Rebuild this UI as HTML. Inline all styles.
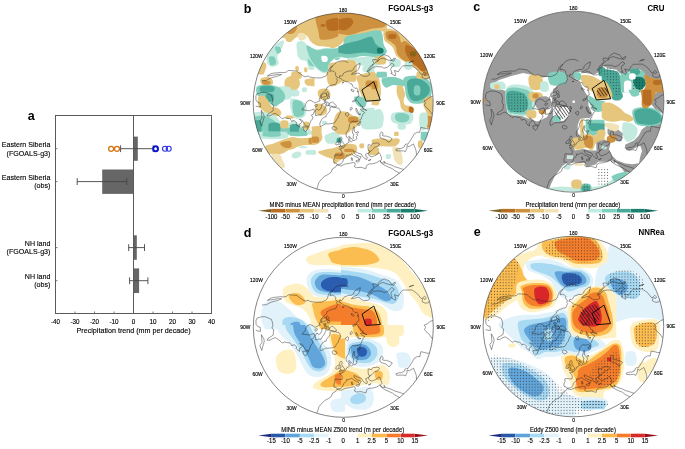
<!DOCTYPE html>
<html><head><meta charset="utf-8"><style>
html,body{margin:0;padding:0;background:#fff;width:685px;height:449px;overflow:hidden}
svg{display:block;font-family:"Liberation Sans",sans-serif;will-change:transform}
</style></head><body>
<svg width="685" height="449" viewBox="0 0 685 449" font-family='&quot;Liberation Sans&quot;, sans-serif'><defs><pattern id="dots" width="2.9" height="2.9" patternUnits="userSpaceOnUse"><rect x="0.95" y="0.95" width="0.85" height="0.85" fill="#2a2a2a"/></pattern><pattern id="hatch" width="2.6" height="2.6" patternUnits="userSpaceOnUse" patternTransform="rotate(-35)"><rect x="0" y="0" width="0.6" height="2.6" fill="#111"/></pattern></defs>
<rect x="133.9" y="136.6" width="3.9" height="24.2" fill="#666"/>
<rect x="102.2" y="169.5" width="31.3" height="24.4" fill="#666"/>
<rect x="133.5" y="235.3" width="3.3" height="24.5" fill="#666"/>
<rect x="133.5" y="268.4" width="5.6" height="24.6" fill="#666"/>
<path d="M120.6,148.7 H153.2 M120.6,145.3 V152.1 M153.2,145.3 V152.1" stroke="#444" stroke-width="0.9" fill="none"/>
<path d="M77.2,181.6 H126.7 M77.2,178.2 V185.0 M126.7,178.2 V185.0" stroke="#444" stroke-width="0.9" fill="none"/>
<path d="M128.7,247.6 H144.5 M128.7,244.2 V251.0 M144.5,244.2 V251.0" stroke="#444" stroke-width="0.9" fill="none"/>
<path d="M129.6,280.7 H147.9 M129.6,277.3 V284.1 M147.9,277.3 V284.1" stroke="#444" stroke-width="0.9" fill="none"/>
<ellipse cx="111.1" cy="148.8" rx="2.5" ry="2.5" stroke="#d5740f" stroke-width="1.3" fill="none"/>
<ellipse cx="117.0" cy="148.8" rx="2.5" ry="2.5" stroke="#d5740f" stroke-width="1.3" fill="none"/>
<ellipse cx="155.6" cy="148.8" rx="2.4" ry="2.5" stroke="#0a14d8" stroke-width="2.0" fill="none"/>
<ellipse cx="165.0" cy="148.8" rx="2.5" ry="2.5" stroke="#2a34e0" stroke-width="1.1" fill="none"/>
<ellipse cx="168.7" cy="148.8" rx="2.5" ry="2.5" stroke="#2a34e0" stroke-width="1.1" fill="none"/>
<rect x="55.5" y="115.5" width="156.0" height="198.0" stroke="#5a5a5a" stroke-width="1" fill="none"/>
<line x1="133.5" y1="115.5" x2="133.5" y2="313.5" stroke="#5a5a5a" stroke-width="1"/>
<line x1="55.5" y1="313.5" x2="55.5" y2="311.5" stroke="#5a5a5a" stroke-width="0.8"/>
<text x="55.50" y="323.70" font-size="6.93" text-anchor="middle" font-weight="normal" fill="#000" stroke="#000" stroke-width="0.14"  textLength="9.11" lengthAdjust="spacingAndGlyphs">-40</text>
<line x1="75.0" y1="313.5" x2="75.0" y2="311.5" stroke="#5a5a5a" stroke-width="0.8"/>
<text x="75.00" y="323.70" font-size="6.93" text-anchor="middle" font-weight="normal" fill="#000" stroke="#000" stroke-width="0.14"  textLength="9.11" lengthAdjust="spacingAndGlyphs">-30</text>
<line x1="94.5" y1="313.5" x2="94.5" y2="311.5" stroke="#5a5a5a" stroke-width="0.8"/>
<text x="94.50" y="323.70" font-size="6.93" text-anchor="middle" font-weight="normal" fill="#000" stroke="#000" stroke-width="0.14"  textLength="9.11" lengthAdjust="spacingAndGlyphs">-20</text>
<line x1="114.0" y1="313.5" x2="114.0" y2="311.5" stroke="#5a5a5a" stroke-width="0.8"/>
<text x="114.00" y="323.70" font-size="6.93" text-anchor="middle" font-weight="normal" fill="#000" stroke="#000" stroke-width="0.14"  textLength="9.11" lengthAdjust="spacingAndGlyphs">-10</text>
<line x1="133.5" y1="313.5" x2="133.5" y2="311.5" stroke="#5a5a5a" stroke-width="0.8"/>
<text x="133.50" y="323.70" font-size="6.93" text-anchor="middle" font-weight="normal" fill="#000" stroke="#000" stroke-width="0.14"  textLength="3.50" lengthAdjust="spacingAndGlyphs">0</text>
<line x1="153.0" y1="313.5" x2="153.0" y2="311.5" stroke="#5a5a5a" stroke-width="0.8"/>
<text x="153.00" y="323.70" font-size="6.93" text-anchor="middle" font-weight="normal" fill="#000" stroke="#000" stroke-width="0.14"  textLength="7.01" lengthAdjust="spacingAndGlyphs">10</text>
<line x1="172.5" y1="313.5" x2="172.5" y2="311.5" stroke="#5a5a5a" stroke-width="0.8"/>
<text x="172.50" y="323.70" font-size="6.93" text-anchor="middle" font-weight="normal" fill="#000" stroke="#000" stroke-width="0.14"  textLength="7.01" lengthAdjust="spacingAndGlyphs">20</text>
<line x1="192.0" y1="313.5" x2="192.0" y2="311.5" stroke="#5a5a5a" stroke-width="0.8"/>
<text x="192.00" y="323.70" font-size="6.93" text-anchor="middle" font-weight="normal" fill="#000" stroke="#000" stroke-width="0.14"  textLength="7.01" lengthAdjust="spacingAndGlyphs">30</text>
<line x1="211.5" y1="313.5" x2="211.5" y2="311.5" stroke="#5a5a5a" stroke-width="0.8"/>
<text x="211.50" y="323.70" font-size="6.93" text-anchor="middle" font-weight="normal" fill="#000" stroke="#000" stroke-width="0.14"  textLength="7.01" lengthAdjust="spacingAndGlyphs">40</text>
<line x1="55.5" y1="148.7" x2="57.5" y2="148.7" stroke="#5a5a5a" stroke-width="0.8"/>
<line x1="55.5" y1="181.6" x2="57.5" y2="181.6" stroke="#5a5a5a" stroke-width="0.8"/>
<line x1="55.5" y1="247.6" x2="57.5" y2="247.6" stroke="#5a5a5a" stroke-width="0.8"/>
<line x1="55.5" y1="280.7" x2="57.5" y2="280.7" stroke="#5a5a5a" stroke-width="0.8"/>
<text x="133.60" y="333.30" font-size="8.01" text-anchor="middle" font-weight="normal" fill="#000" stroke="#000" stroke-width="0.14"  textLength="114.06" lengthAdjust="spacingAndGlyphs">Precipitation trend (mm per decade)</text>
<text x="50.40" y="147.20" font-size="7.95" text-anchor="end" font-weight="normal" fill="#000" stroke="#000" stroke-width="0.14"  textLength="48.54" lengthAdjust="spacingAndGlyphs">Eastern Siberia</text>
<text x="50.40" y="155.50" font-size="7.95" text-anchor="end" font-weight="normal" fill="#000" stroke="#000" stroke-width="0.14"  textLength="43.79" lengthAdjust="spacingAndGlyphs">(FGOALS-g3)</text>
<text x="50.40" y="179.90" font-size="7.95" text-anchor="end" font-weight="normal" fill="#000" stroke="#000" stroke-width="0.14"  textLength="48.54" lengthAdjust="spacingAndGlyphs">Eastern Siberia</text>
<text x="50.40" y="188.20" font-size="7.95" text-anchor="end" font-weight="normal" fill="#000" stroke="#000" stroke-width="0.14"  textLength="16.18" lengthAdjust="spacingAndGlyphs">(obs)</text>
<text x="50.40" y="245.90" font-size="7.95" text-anchor="end" font-weight="normal" fill="#000" stroke="#000" stroke-width="0.14"  textLength="25.65" lengthAdjust="spacingAndGlyphs">NH land</text>
<text x="50.40" y="254.20" font-size="7.95" text-anchor="end" font-weight="normal" fill="#000" stroke="#000" stroke-width="0.14"  textLength="43.79" lengthAdjust="spacingAndGlyphs">(FGOALS-g3)</text>
<text x="50.40" y="278.90" font-size="7.95" text-anchor="end" font-weight="normal" fill="#000" stroke="#000" stroke-width="0.14"  textLength="25.65" lengthAdjust="spacingAndGlyphs">NH land</text>
<text x="50.40" y="287.20" font-size="7.95" text-anchor="end" font-weight="normal" fill="#000" stroke="#000" stroke-width="0.14"  textLength="16.18" lengthAdjust="spacingAndGlyphs">(obs)</text>
<text x="31.20" y="119.60" font-size="12.50" text-anchor="middle" font-weight="bold" fill="#000" stroke="#000" stroke-width="0.00" >a</text>
<clipPath id="cb"><circle cx="343.20" cy="103.00" r="90.00"/></clipPath>
<g clip-path="url(#cb)">
<circle cx="343.20" cy="103.00" r="90.00" fill="#ffffff"/>
<path d="M279.7,37.1 C279.7,35.5 282.2,31.7 285.1,29.0 C288.0,26.4 292.2,23.7 297.1,21.0 C302.0,18.3 314.5,13.0 314.5,13.0 C314.5,13.0 314.5,42.1 314.5,42.1 C314.5,42.1 311.6,42.2 310.5,41.3 C309.3,40.4 308.9,37.8 307.8,36.7 C306.7,35.5 305.3,34.8 303.8,34.6 C302.2,34.5 300.0,35.3 298.4,36.0 C296.9,36.7 295.8,37.7 294.4,38.7 C293.1,39.7 291.8,41.6 290.4,42.0 C289.1,42.4 287.3,41.9 286.4,41.3 C285.5,40.7 286.2,39.1 285.1,38.4 C284.0,37.7 279.7,38.6 279.7,37.1Z" fill="#e6c67c"/>
<path d="M297.8,34.4 C298.5,33.3 302.3,32.8 303.8,33.3 C305.2,33.9 306.7,36.5 306.5,37.7 C306.2,38.9 303.7,40.1 302.4,40.4 C301.2,40.7 299.9,40.7 299.1,39.7 C298.3,38.7 297.0,35.5 297.8,34.4Z" fill="#f2e2b8"/>
<path d="M287.1,32.4 C287.3,31.3 290.1,28.7 291.8,27.7 C293.4,26.7 296.5,25.7 297.1,26.4 C297.7,27.0 296.2,30.4 295.1,31.7 C294.0,33.0 291.8,34.0 290.4,34.1 C289.1,34.2 286.9,33.4 287.1,32.4Z" fill="#cd9140"/>
<path d="M267.7,51.8 C268.8,50.0 271.0,48.1 273.0,46.4 C275.0,44.7 277.9,42.7 279.7,41.7 C281.6,40.8 283.5,40.0 284.0,40.8 C284.5,41.6 283.4,44.6 282.7,46.4 C282.0,48.2 280.6,50.0 279.7,51.8 C278.8,53.5 277.5,55.1 277.3,57.1 C277.1,59.1 279.4,62.2 278.7,63.8 C277.9,65.4 274.9,66.7 273.0,66.7 C271.2,66.8 268.8,65.7 267.7,64.0 C266.6,62.4 266.4,59.1 266.4,57.1 C266.4,55.1 266.6,53.5 267.7,51.8Z" fill="#c2eadf"/>
<path d="M275.0,47.1 C275.5,46.0 278.7,46.3 279.7,47.1 C280.7,47.9 281.5,50.7 281.1,51.8 C280.6,52.8 278.1,54.1 277.1,53.4 C276.1,52.6 274.6,48.1 275.0,47.1Z" fill="#82cebc"/>
<path d="M269.0,57.1 C269.7,55.8 273.3,56.0 274.4,57.1 C275.5,58.2 276.4,62.4 275.7,63.8 C275.0,65.1 271.5,66.2 270.4,65.1 C269.3,64.0 268.4,58.4 269.0,57.1Z" fill="#82cebc"/>
<path d="M297.1,42.4 C298.3,41.2 301.8,41.3 303.8,42.1 C305.8,43.0 307.3,46.4 309.1,47.5 C310.9,48.6 314.5,48.8 314.5,48.8 C314.5,48.8 314.5,69.4 314.5,69.4 C314.5,69.4 310.5,70.7 309.1,69.4 C307.8,68.1 307.8,62.9 306.5,61.4 C305.1,59.8 302.6,60.9 301.1,60.0 C299.7,59.1 298.5,57.9 297.8,56.0 C297.1,54.2 296.9,51.4 296.8,49.1 C296.7,46.8 295.9,43.6 297.1,42.4Z" fill="#c2eadf"/>
<path d="M299.1,43.1 C299.7,42.1 302.9,43.8 303.8,45.1 C304.7,46.3 305.0,49.4 304.4,50.4 C303.9,51.4 301.3,52.3 300.4,51.1 C299.5,49.9 298.5,44.1 299.1,43.1Z" fill="#82cebc"/>
<path d="M307.8,51.8 C308.9,50.4 314.5,50.4 314.5,50.4 C314.5,50.4 314.5,66.5 314.5,66.5 C314.5,66.5 310.2,66.5 309.1,65.1 C308.0,63.8 308.0,60.7 307.8,58.4 C307.6,56.2 306.7,53.1 307.8,51.8Z" fill="#82cebc"/>
<path d="M253.0,63.8 C254.3,62.0 259.0,63.7 261.0,63.5 C263.0,63.3 264.1,62.0 265.0,62.4 C265.9,62.9 266.6,64.4 266.4,66.5 C266.1,68.5 263.7,74.5 263.7,74.5 C263.7,74.5 253.0,74.5 253.0,74.5 C253.0,74.5 251.7,65.6 253.0,63.8Z" fill="#e6c67c"/>
<path d="M295.5,66.7 C295.9,66.0 297.9,65.8 298.4,66.5 C299.0,67.1 299.1,70.0 298.7,70.7 C298.3,71.4 296.3,71.4 295.8,70.7 C295.2,70.1 295.1,67.4 295.5,66.7Z" fill="#e6c67c"/>
<path d="M304.4,67.8 C304.9,67.1 306.7,67.1 307.1,67.8 C307.6,68.5 307.6,71.1 307.1,71.8 C306.7,72.5 304.9,72.5 304.4,71.8 C304.0,71.1 304.0,68.5 304.4,67.8Z" fill="#e6c67c"/>
<path d="M311.7,11.7 C311.7,11.7 374.5,11.7 374.5,11.7 C374.5,11.7 374.5,28.6 374.5,28.6 C374.5,28.6 368.9,29.0 366.5,29.3 C364.0,29.6 362.0,30.0 359.8,30.6 C357.5,31.3 355.1,32.2 353.1,33.3 C351.1,34.4 349.3,36.0 347.7,37.3 C346.2,38.7 344.8,40.2 343.7,41.3 C342.6,42.4 342.2,43.1 341.1,44.0 C339.9,44.9 338.4,46.0 337.1,46.7 C335.7,47.3 334.8,48.0 333.0,48.0 C331.3,48.0 328.8,47.0 326.4,46.7 C323.9,46.3 320.8,46.7 318.3,46.0 C315.9,45.3 311.7,42.7 311.7,42.7 C311.7,42.7 311.7,11.7 311.7,11.7Z" fill="#e6c67c"/>
<path d="M315.7,11.7 C315.7,11.7 374.5,11.7 374.5,11.7 C374.5,11.7 374.5,25.0 374.5,25.0 C374.5,25.0 366.7,25.7 363.8,26.4 C360.9,27.0 359.3,27.9 357.1,29.0 C354.9,30.1 352.4,32.2 350.4,33.0 C348.4,33.9 346.9,33.9 345.1,34.4 C343.3,34.8 341.7,35.0 339.7,35.7 C337.7,36.4 335.7,37.7 333.0,38.4 C330.4,39.1 325.9,39.7 323.7,39.7 C321.5,39.7 320.6,39.9 319.7,38.4 C318.8,36.8 319.0,33.3 318.3,30.4 C317.7,27.5 316.1,24.1 315.7,21.0 C315.2,17.9 315.7,11.7 315.7,11.7Z" fill="#cd9140"/>
<path d="M326.4,21.0 C327.5,19.7 330.8,18.8 333.0,18.3 C335.3,17.9 337.9,17.9 339.7,18.3 C341.5,18.8 342.0,21.0 343.7,21.0 C345.5,21.0 348.2,19.0 350.4,18.3 C352.6,17.7 355.7,16.8 357.1,17.0 C358.5,17.2 359.8,18.8 359.1,19.7 C358.4,20.6 355.2,21.7 353.1,22.4 C351.0,23.0 348.2,22.8 346.4,23.7 C344.6,24.6 344.0,26.6 342.4,27.7 C340.8,28.8 339.3,29.9 337.1,30.4 C334.8,30.8 330.8,31.0 329.0,30.4 C327.3,29.7 326.8,27.9 326.4,26.4 C325.9,24.8 325.2,22.4 326.4,21.0Z" fill="#b86e22"/>
<path d="M321.0,24.4 C321.7,24.0 324.4,24.0 325.0,24.4 C325.7,24.7 325.7,26.0 325.0,26.4 C324.4,26.7 321.7,26.7 321.0,26.4 C320.3,26.0 320.3,24.7 321.0,24.4Z" fill="#b86e22"/>
<path d="M311.7,50.7 C311.7,50.7 318.1,49.8 321.0,49.3 C323.9,48.9 326.8,47.8 329.0,48.0 C331.3,48.2 332.6,49.8 334.4,50.7 C336.2,51.6 338.8,52.0 339.7,53.4 C340.6,54.7 340.4,57.6 339.7,58.7 C339.1,59.8 336.8,60.3 335.7,60.0 C334.6,59.8 334.6,57.6 333.0,57.4 C331.5,57.1 328.4,58.0 326.4,58.7 C324.4,59.4 323.5,60.7 321.0,61.4 C318.6,62.0 311.7,62.7 311.7,62.7 C311.7,62.7 311.7,50.7 311.7,50.7Z" fill="#82cebc"/>
<path d="M313.0,51.8 C313.9,50.6 317.4,50.9 318.3,52.0 C319.3,53.1 319.5,57.3 318.6,58.4 C317.7,59.5 313.9,59.8 313.0,58.7 C312.1,57.6 312.1,52.9 313.0,51.8Z" fill="#82cebc"/>
<path d="M322.4,53.1 C323.0,52.4 325.7,52.4 326.4,53.1 C327.0,53.8 327.0,56.4 326.4,57.1 C325.7,57.8 323.0,57.8 322.4,57.1 C321.7,56.4 321.7,53.8 322.4,53.1Z" fill="#82cebc"/>
<path d="M343.7,53.1 C344.6,52.2 350.4,51.8 353.1,51.8 C355.8,51.8 359.1,52.2 359.8,53.1 C360.4,54.0 359.1,56.7 357.1,57.4 C355.1,58.1 350.0,58.1 347.7,57.4 C345.5,56.7 342.8,54.0 343.7,53.1Z" fill="#c2eadf"/>
<path d="M347.7,57.8 C349.3,57.2 355.5,57.2 357.1,57.8 C358.7,58.4 358.6,60.8 357.1,61.4 C355.6,62.0 349.6,62.0 348.0,61.4 C346.5,60.8 346.2,58.4 347.7,57.8Z" fill="#c2eadf"/>
<path d="M363.8,51.8 C365.3,51.1 371.6,51.1 373.1,51.8 C374.7,52.4 374.7,55.1 373.1,55.8 C371.6,56.4 365.3,56.4 363.8,55.8 C362.2,55.1 362.2,52.4 363.8,51.8Z" fill="#f2e2b8"/>
<path d="M329.0,64.0 C330.8,62.1 336.8,62.5 339.7,62.7 C342.6,62.9 344.8,64.0 346.4,65.4 C348.0,66.7 350.2,69.2 349.1,70.7 C348.0,72.2 339.7,74.5 339.7,74.5 C339.7,74.5 329.0,74.5 329.0,74.5 C329.0,74.5 327.3,66.0 329.0,64.0Z" fill="#e6c67c"/>
<path d="M366.5,63.8 C367.8,62.0 374.5,63.8 374.5,63.8 C374.5,63.8 374.5,74.5 374.5,74.5 C374.5,74.5 366.5,74.5 366.5,74.5 C366.5,74.5 365.1,65.6 366.5,63.8Z" fill="#c2eadf"/>
<path d="M371.7,18.3 C371.7,18.3 379.2,18.6 381.0,19.7 C382.8,20.8 383.0,23.7 382.4,25.0 C381.7,26.4 378.8,27.3 377.0,27.7 C375.2,28.1 371.7,27.7 371.7,27.7 C371.7,27.7 371.7,18.3 371.7,18.3Z" fill="#e6c67c"/>
<path d="M371.7,19.7 C371.7,19.7 377.2,19.0 378.3,19.7 C379.5,20.3 379.7,23.0 378.6,23.7 C377.5,24.4 371.7,23.7 371.7,23.7 C371.7,23.7 371.7,19.7 371.7,19.7Z" fill="#cd9140"/>
<path d="M383.7,30.4 C384.5,28.5 387.3,28.8 389.0,28.8 C390.8,28.7 392.6,29.4 394.4,30.1 C396.2,30.8 397.9,31.9 399.7,33.0 C401.5,34.2 402.0,35.0 405.1,37.1 C408.2,39.1 413.8,39.7 418.4,45.1 C423.1,50.4 431.4,64.0 433.1,69.1 C434.9,74.2 429.1,75.8 429.1,75.8 C429.1,75.8 422.4,73.6 419.8,72.1 C417.1,70.6 415.3,68.3 413.1,66.7 C410.9,65.2 408.6,64.0 406.4,62.7 C404.2,61.4 401.5,60.0 399.7,58.7 C397.9,57.4 396.8,56.5 395.7,54.7 C394.6,52.9 394.2,49.8 393.0,48.0 C391.9,46.2 390.5,45.3 389.0,44.0 C387.6,42.7 385.2,42.3 384.4,40.0 C383.5,37.7 382.9,32.2 383.7,30.4Z" fill="#e6c67c"/>
<path d="M386.4,31.7 C387.9,30.6 393.5,30.8 395.7,31.7 C397.9,32.6 398.8,35.3 399.7,37.1 C400.6,38.8 400.2,41.7 401.1,42.4 C402.0,43.1 403.5,40.6 405.1,41.1 C406.6,41.5 408.6,43.5 410.4,45.1 C412.2,46.6 414.0,48.4 415.8,50.4 C417.5,52.4 419.3,54.4 421.1,57.1 C422.9,59.8 425.3,64.0 426.5,66.5 C427.6,68.9 428.7,71.1 427.8,71.8 C426.9,72.5 423.1,71.4 421.1,70.5 C419.1,69.6 418.0,67.8 415.8,66.5 C413.5,65.1 410.2,63.8 407.7,62.4 C405.3,61.1 402.8,60.0 401.1,58.4 C399.3,56.9 397.9,55.1 397.1,53.1 C396.2,51.1 396.6,48.2 395.7,46.4 C394.8,44.6 393.3,43.7 391.7,42.4 C390.1,41.1 387.3,40.2 386.4,38.4 C385.5,36.6 384.8,32.8 386.4,31.7Z" fill="#cd9140"/>
<path d="M389.0,34.4 C390.1,33.7 394.6,33.7 395.7,34.4 C396.8,35.0 396.8,37.7 395.7,38.4 C394.6,39.1 390.1,39.1 389.0,38.4 C387.9,37.7 387.9,35.0 389.0,34.4Z" fill="#b86e22"/>
<path d="M406.4,45.1 C407.7,44.6 411.1,46.4 413.1,47.7 C415.1,49.1 416.9,51.1 418.4,53.1 C420.0,55.1 421.1,57.1 422.4,59.8 C423.8,62.4 426.5,67.1 426.5,69.1 C426.5,71.1 424.0,72.2 422.4,71.8 C420.9,71.4 418.9,68.0 417.1,66.5 C415.3,64.9 413.3,64.0 411.8,62.4 C410.2,60.9 408.9,59.1 407.7,57.1 C406.6,55.1 405.3,52.4 405.1,50.4 C404.8,48.4 405.1,45.5 406.4,45.1Z" fill="#b86e22"/>
<path d="M410.4,51.8 C411.3,51.0 414.9,51.0 415.8,51.8 C416.7,52.5 416.7,55.3 415.8,56.0 C414.9,56.7 411.3,56.7 410.4,56.0 C409.5,55.3 409.5,52.5 410.4,51.8Z" fill="#8a6418"/>
<path d="M390.4,59.8 C391.9,58.7 398.2,58.7 399.7,59.8 C401.3,60.9 401.3,65.3 399.7,66.5 C398.2,67.6 391.9,67.6 390.4,66.5 C388.8,65.3 388.8,60.9 390.4,59.8Z" fill="#c2eadf"/>
<path d="M405.1,62.4 C406.2,61.3 410.6,61.3 411.8,62.4 C412.9,63.6 412.9,68.0 411.8,69.1 C410.6,70.2 406.2,70.2 405.1,69.1 C404.0,68.0 404.0,63.6 405.1,62.4Z" fill="#c2eadf"/>
<path d="M261.0,78.3 C262.4,77.2 267.0,76.6 269.0,77.0 C271.0,77.5 272.6,79.7 273.0,81.0 C273.5,82.4 273.0,84.2 271.7,85.0 C270.4,85.8 266.8,85.9 265.0,85.7 C263.2,85.5 261.7,84.9 261.0,83.7 C260.3,82.5 259.7,79.5 261.0,78.3Z" fill="#e6c67c"/>
<path d="M262.4,81.0 C263.5,80.6 269.3,81.1 270.4,81.7 C271.5,82.2 270.1,83.9 269.0,84.4 C267.9,84.8 264.8,84.9 263.7,84.4 C262.6,83.8 261.2,81.5 262.4,81.0Z" fill="#cd9140"/>
<path d="M285.1,79.7 C286.2,77.7 289.5,75.9 291.8,75.7 C294.0,75.4 297.1,76.8 298.4,78.3 C299.8,79.9 300.2,83.0 299.8,85.0 C299.3,87.0 297.5,89.3 295.8,90.4 C294.0,91.5 290.9,92.2 289.1,91.7 C287.3,91.3 285.7,89.7 285.1,87.7 C284.4,85.7 284.0,81.7 285.1,79.7Z" fill="#e6c67c"/>
<path d="M291.8,71.7 C291.8,71.7 301.1,71.7 301.1,71.7 C301.1,71.7 302.7,77.2 301.1,78.3 C299.5,79.5 293.3,79.5 291.8,78.3 C290.2,77.2 291.8,71.7 291.8,71.7Z" fill="#e6c67c"/>
<path d="M305.1,79.7 C306.5,78.6 314.5,78.3 314.5,78.3 C314.5,78.3 314.5,86.4 314.5,86.4 C314.5,86.4 308.0,86.1 306.5,85.0 C304.9,83.9 303.8,80.8 305.1,79.7Z" fill="#e6c67c"/>
<path d="M277.1,87.7 C279.3,85.9 288.2,85.9 290.4,87.7 C292.6,89.5 292.6,96.6 290.4,98.4 C288.2,100.2 279.3,100.2 277.1,98.4 C274.8,96.6 274.8,89.5 277.1,87.7Z" fill="#c2eadf"/>
<path d="M257.0,86.4 C258.6,84.8 263.0,85.0 266.4,85.0 C269.7,85.0 274.4,85.5 277.1,86.4 C279.7,87.3 281.1,88.8 282.4,90.4 C283.7,91.9 284.8,93.9 285.1,95.7 C285.3,97.5 284.6,99.7 283.7,101.1 C282.8,102.4 281.1,102.8 279.7,103.7 C278.4,104.6 277.1,106.2 275.7,106.4 C274.4,106.6 273.3,106.2 271.7,105.1 C270.1,104.0 268.1,101.1 266.4,99.7 C264.6,98.4 262.6,97.9 261.0,97.1 C259.5,96.2 257.7,96.2 257.0,94.4 C256.3,92.6 255.4,87.9 257.0,86.4Z" fill="#82cebc"/>
<path d="M261.0,86.4 C263.0,85.5 271.0,85.5 273.0,86.4 C275.0,87.3 275.0,90.8 273.0,91.7 C271.0,92.6 263.0,92.6 261.0,91.7 C259.0,90.8 259.0,87.3 261.0,86.4Z" fill="#4aa898"/>
<path d="M266.4,94.4 C267.5,93.3 271.9,93.3 273.0,94.4 C274.2,95.5 274.2,99.9 273.0,101.1 C271.9,102.2 267.5,102.2 266.4,101.1 C265.2,99.9 265.2,95.5 266.4,94.4Z" fill="#4aa898"/>
<path d="M290.4,90.4 C291.8,89.5 297.1,89.5 298.4,90.4 C299.8,91.3 299.8,94.8 298.4,95.7 C297.1,96.6 291.8,96.6 290.4,95.7 C289.1,94.8 289.1,91.3 290.4,90.4Z" fill="#c2eadf"/>
<path d="M302.4,87.7 C303.1,87.0 305.8,87.0 306.5,87.7 C307.1,88.4 307.1,91.0 306.5,91.7 C305.8,92.4 303.1,92.4 302.4,91.7 C301.8,91.0 301.8,88.4 302.4,87.7Z" fill="#c2eadf"/>
<path d="M258.3,97.1 C259.2,95.5 262.1,95.3 263.7,95.7 C265.2,96.2 266.4,97.9 267.7,99.7 C269.0,101.5 270.1,105.1 271.7,106.4 C273.3,107.7 275.5,106.9 277.1,107.7 C278.6,108.6 280.6,110.4 281.1,111.8 C281.5,113.1 281.1,115.1 279.7,115.8 C278.4,116.4 275.3,116.2 273.0,115.8 C270.8,115.3 268.4,114.2 266.4,113.1 C264.4,112.0 262.4,110.4 261.0,109.1 C259.7,107.7 258.8,107.1 258.3,105.1 C257.9,103.1 257.5,98.6 258.3,97.1Z" fill="#e6c67c"/>
<path d="M290.4,99.7 C291.5,97.5 296.0,99.1 298.4,99.7 C300.9,100.4 303.8,102.0 305.1,103.7 C306.5,105.5 306.7,108.2 306.5,110.4 C306.2,112.6 305.6,115.8 303.8,117.1 C302.0,118.4 297.8,119.1 295.8,118.4 C293.8,117.8 292.6,116.2 291.8,113.1 C290.9,110.0 289.3,102.0 290.4,99.7Z" fill="#c2eadf"/>
<path d="M293.1,101.1 C294.4,98.8 300.7,100.2 302.4,102.4 C304.2,104.6 305.1,112.2 303.8,114.4 C302.4,116.7 296.2,118.0 294.4,115.8 C292.6,113.5 291.8,103.3 293.1,101.1Z" fill="#82cebc"/>
<path d="M251.7,113.1 C251.7,113.1 258.1,111.8 261.0,111.8 C263.9,111.8 266.4,112.2 269.0,113.1 C271.7,114.0 275.3,115.8 277.1,117.1 C278.8,118.4 277.9,120.0 279.7,121.1 C281.5,122.2 285.5,123.8 287.7,123.8 C290.0,123.8 291.3,121.1 293.1,121.1 C294.9,121.1 296.7,122.9 298.4,123.8 C300.2,124.7 302.0,125.6 303.8,126.5 C305.6,127.3 307.3,127.8 309.1,129.1 C310.9,130.5 314.5,134.5 314.5,134.5 C314.5,134.5 251.7,134.5 251.7,134.5 C251.7,134.5 251.7,113.1 251.7,113.1Z" fill="#c2eadf"/>
<path d="M251.7,117.1 C251.7,117.1 260.1,115.3 263.7,115.8 C267.3,116.2 270.4,118.0 273.0,119.8 C275.7,121.6 276.8,125.1 279.7,126.5 C282.6,127.8 287.3,127.8 290.4,127.8 C293.5,127.8 295.8,125.8 298.4,126.5 C301.1,127.1 305.1,130.5 306.5,131.8 C307.8,133.1 306.5,134.5 306.5,134.5 C306.5,134.5 251.7,134.5 251.7,134.5 C251.7,134.5 251.7,117.1 251.7,117.1Z" fill="#82cebc"/>
<path d="M251.7,121.1 C251.7,121.1 259.5,118.9 261.0,121.1 C262.6,123.3 261.0,134.5 261.0,134.5 C261.0,134.5 251.7,134.5 251.7,134.5 C251.7,134.5 251.7,121.1 251.7,121.1Z" fill="#4aa898"/>
<path d="M269.0,123.8 C270.8,122.0 277.9,122.0 279.7,123.8 C281.5,125.6 279.7,134.5 279.7,134.5 C279.7,134.5 269.0,134.5 269.0,134.5 C269.0,134.5 267.3,125.6 269.0,123.8Z" fill="#4aa898"/>
<path d="M290.4,125.1 C291.8,123.6 297.1,123.6 298.4,125.1 C299.8,126.7 298.4,134.5 298.4,134.5 C298.4,134.5 290.4,134.5 290.4,134.5 C290.4,134.5 289.1,126.7 290.4,125.1Z" fill="#4aa898"/>
<path d="M281.1,121.1 C282.2,120.0 286.6,120.0 287.7,121.1 C288.9,122.2 288.9,126.7 287.7,127.8 C286.6,128.9 282.2,128.9 281.1,127.8 C279.9,126.7 279.9,122.2 281.1,121.1Z" fill="#e6c67c"/>
<path d="M286.4,115.8 C287.5,115.3 292.0,115.3 293.1,115.8 C294.2,116.2 294.2,118.0 293.1,118.4 C292.0,118.9 287.5,118.9 286.4,118.4 C285.3,118.0 285.3,116.2 286.4,115.8Z" fill="#e6c67c"/>
<path d="M303.8,122.4 C304.7,121.3 308.2,121.3 309.1,122.4 C310.0,123.6 310.0,128.0 309.1,129.1 C308.2,130.2 304.7,130.2 303.8,129.1 C302.9,128.0 302.9,123.6 303.8,122.4Z" fill="#e6c67c"/>
<path d="M326.4,71.7 C326.4,71.7 350.4,71.7 350.4,71.7 C350.4,71.7 352.2,76.8 350.4,78.3 C348.6,79.9 342.0,79.9 339.7,81.0 C337.5,82.1 338.4,84.1 337.1,85.0 C335.7,85.9 333.3,86.8 331.7,86.4 C330.1,85.9 328.6,84.8 327.7,82.4 C326.8,79.9 326.4,71.7 326.4,71.7Z" fill="#e6c67c"/>
<path d="M357.1,75.7 C359.8,73.7 374.5,71.7 374.5,71.7 C374.5,71.7 374.5,99.7 374.5,99.7 C374.5,99.7 368.9,102.4 366.5,101.1 C364.0,99.7 361.1,94.6 359.8,91.7 C358.4,88.8 358.9,86.4 358.4,83.7 C358.0,81.0 354.4,77.7 357.1,75.7Z" fill="#e6c67c"/>
<path d="M366.5,81.0 C367.8,80.1 374.5,81.0 374.5,81.0 C374.5,81.0 374.5,86.4 374.5,86.4 C374.5,86.4 367.8,87.3 366.5,86.4 C365.1,85.5 365.1,81.9 366.5,81.0Z" fill="#cd9140"/>
<path d="M354.4,97.1 C355.3,95.7 360.4,96.2 362.4,97.1 C364.4,97.9 366.2,100.6 366.5,102.4 C366.7,104.2 365.3,107.3 363.8,107.7 C362.2,108.2 358.7,106.9 357.1,105.1 C355.5,103.3 353.5,98.4 354.4,97.1Z" fill="#82cebc"/>
<path d="M359.8,110.4 C362.2,108.2 374.5,107.7 374.5,107.7 C374.5,107.7 374.5,129.1 374.5,129.1 C374.5,129.1 366.2,130.5 363.8,129.1 C361.3,127.8 360.4,124.2 359.8,121.1 C359.1,118.0 357.3,112.6 359.8,110.4Z" fill="#c2eadf"/>
<path d="M315.7,105.1 C316.6,103.5 319.2,103.3 321.0,103.7 C322.8,104.2 325.5,106.2 326.4,107.7 C327.3,109.3 327.3,111.8 326.4,113.1 C325.5,114.4 322.8,115.8 321.0,115.8 C319.2,115.8 316.6,114.9 315.7,113.1 C314.8,111.3 314.8,106.6 315.7,105.1Z" fill="#e6c67c"/>
<path d="M318.3,90.4 C319.7,88.8 325.7,88.1 327.7,89.0 C329.7,89.9 330.6,93.9 330.4,95.7 C330.1,97.5 328.1,99.3 326.4,99.7 C324.6,100.2 321.0,99.9 319.7,98.4 C318.3,96.8 317.0,91.9 318.3,90.4Z" fill="#e6c67c"/>
<path d="M337.1,113.1 C339.3,110.6 343.7,111.3 346.4,111.8 C349.1,112.2 351.1,114.9 353.1,115.8 C355.1,116.7 357.3,115.8 358.4,117.1 C359.5,118.4 360.7,121.8 359.8,123.8 C358.9,125.8 355.3,127.3 353.1,129.1 C350.9,130.9 346.4,134.5 346.4,134.5 C346.4,134.5 337.1,134.5 337.1,134.5 C337.1,134.5 333.0,130.0 333.0,126.5 C333.0,122.9 334.8,115.5 337.1,113.1Z" fill="#e6c67c"/>
<path d="M349.1,117.1 C350.4,116.2 355.8,116.2 357.1,117.1 C358.4,118.0 358.4,121.6 357.1,122.4 C355.8,123.3 350.4,123.3 349.1,122.4 C347.7,121.6 347.7,118.0 349.1,117.1Z" fill="#cd9140"/>
<path d="M311.7,126.5 C311.7,126.5 319.5,125.1 321.0,126.5 C322.6,127.8 321.0,134.5 321.0,134.5 C321.0,134.5 311.7,134.5 311.7,134.5 C311.7,134.5 311.7,126.5 311.7,126.5Z" fill="#e6c67c"/>
<path d="M322.4,121.1 C323.0,120.7 325.7,120.7 326.4,121.1 C327.0,121.6 327.0,123.3 326.4,123.8 C325.7,124.2 323.0,124.2 322.4,123.8 C321.7,123.3 321.7,121.6 322.4,121.1Z" fill="#c2eadf"/>
<path d="M371.7,71.7 C371.7,71.7 375.7,72.8 377.0,74.3 C378.3,75.9 379.0,78.1 379.7,81.0 C380.3,83.9 381.0,88.6 381.0,91.7 C381.0,94.8 380.1,97.5 379.7,99.7 C379.2,102.0 379.7,104.2 378.3,105.1 C377.0,106.0 371.7,105.1 371.7,105.1 C371.7,105.1 371.7,71.7 371.7,71.7Z" fill="#e6c67c"/>
<path d="M371.7,81.0 C371.7,81.0 376.1,79.7 377.0,81.0 C377.9,82.4 377.9,87.7 377.0,89.0 C376.1,90.4 371.7,89.0 371.7,89.0 C371.7,89.0 371.7,81.0 371.7,81.0Z" fill="#cd9140"/>
<path d="M377.0,71.7 C377.0,71.7 386.4,71.7 386.4,71.7 C386.4,71.7 387.9,76.1 386.4,77.0 C384.8,77.9 378.6,77.9 377.0,77.0 C375.4,76.1 377.0,71.7 377.0,71.7Z" fill="#82cebc"/>
<path d="M382.4,78.3 C384.1,77.2 389.7,76.8 393.0,77.0 C396.4,77.2 400.2,78.6 402.4,79.7 C404.6,80.8 406.4,82.6 406.4,83.7 C406.4,84.8 404.6,86.1 402.4,86.4 C400.2,86.6 395.7,84.8 393.0,85.0 C390.4,85.2 388.1,87.9 386.4,87.7 C384.6,87.5 383.0,85.2 382.4,83.7 C381.7,82.1 380.6,79.5 382.4,78.3Z" fill="#82cebc"/>
<path d="M403.7,78.3 C405.1,76.1 410.0,75.9 413.1,75.7 C416.2,75.4 419.8,76.1 422.4,77.0 C425.1,77.9 427.6,79.2 429.1,81.0 C430.7,82.8 431.6,85.0 431.8,87.7 C432.0,90.4 431.8,94.6 430.5,97.1 C429.1,99.5 426.0,101.3 423.8,102.4 C421.6,103.5 419.3,103.7 417.1,103.7 C414.9,103.7 412.2,103.5 410.4,102.4 C408.6,101.3 407.3,99.3 406.4,97.1 C405.5,94.8 405.5,92.2 405.1,89.0 C404.6,85.9 402.4,80.6 403.7,78.3Z" fill="#82cebc"/>
<path d="M407.7,81.0 C409.1,79.0 413.1,78.3 415.8,78.3 C418.4,78.3 421.6,79.7 423.8,81.0 C426.0,82.4 428.2,84.4 429.1,86.4 C430.0,88.4 430.0,91.0 429.1,93.0 C428.2,95.0 426.0,97.1 423.8,98.4 C421.6,99.7 418.0,101.1 415.8,101.1 C413.5,101.1 411.8,100.2 410.4,98.4 C409.1,96.6 408.2,93.3 407.7,90.4 C407.3,87.5 406.4,83.0 407.7,81.0Z" fill="#4aa898"/>
<path d="M414.4,86.4 C415.3,85.0 418.9,85.0 419.8,86.4 C420.7,87.7 420.7,93.0 419.8,94.4 C418.9,95.7 415.3,95.7 414.4,94.4 C413.5,93.0 413.5,87.7 414.4,86.4Z" fill="#82cebc"/>
<path d="M417.1,71.7 C417.1,71.7 429.1,71.7 429.1,71.7 C429.1,71.7 431.1,77.2 429.1,78.3 C427.1,79.5 419.1,79.5 417.1,78.3 C415.1,77.2 417.1,71.7 417.1,71.7Z" fill="#e6c67c"/>
<path d="M423.8,71.7 C423.8,71.7 427.8,71.7 427.8,71.7 C427.8,71.7 428.5,75.0 427.8,75.7 C427.1,76.3 424.4,76.3 423.8,75.7 C423.1,75.0 423.8,71.7 423.8,71.7Z" fill="#cd9140"/>
<path d="M397.1,86.4 C397.9,85.0 401.1,85.0 402.4,86.4 C403.7,87.7 404.8,92.2 405.1,94.4 C405.3,96.6 403.7,97.9 403.7,99.7 C403.7,101.5 403.7,104.0 405.1,105.1 C406.4,106.2 410.2,105.5 411.8,106.4 C413.3,107.3 414.6,109.3 414.4,110.4 C414.2,111.5 412.0,112.9 410.4,113.1 C408.9,113.3 406.6,112.6 405.1,111.8 C403.5,110.9 402.0,109.5 401.1,107.7 C400.2,106.0 400.4,103.3 399.7,101.1 C399.1,98.8 397.5,96.8 397.1,94.4 C396.6,91.9 396.2,87.7 397.1,86.4Z" fill="#e6c67c"/>
<path d="M409.1,107.1 C409.7,106.3 412.4,106.6 413.1,107.5 C413.8,108.4 413.7,111.6 413.1,112.4 C412.5,113.2 410.0,113.3 409.3,112.4 C408.7,111.5 408.5,107.9 409.1,107.1Z" fill="#b86e22"/>
<path d="M423.8,99.7 C425.1,98.2 430.0,94.8 431.8,97.1 C433.6,99.3 434.5,113.1 434.5,113.1 C434.5,113.1 431.8,124.0 430.5,126.5 C429.1,128.9 427.1,130.0 426.5,127.8 C425.8,125.6 426.9,116.7 426.5,113.1 C426.0,109.5 424.2,108.6 423.8,106.4 C423.3,104.2 422.4,101.3 423.8,99.7Z" fill="#e6c67c"/>
<path d="M426.5,117.1 C427.3,115.5 430.9,115.5 431.8,117.1 C432.7,118.7 432.7,124.9 431.8,126.5 C430.9,128.0 427.3,128.0 426.5,126.5 C425.6,124.9 425.6,118.7 426.5,117.1Z" fill="#cd9140"/>
<path d="M419.8,114.4 C420.9,112.2 425.1,111.5 426.5,113.1 C427.8,114.6 428.2,120.9 427.8,123.8 C427.3,126.7 425.1,130.0 423.8,130.5 C422.4,130.9 420.4,129.1 419.8,126.5 C419.1,123.8 418.7,116.7 419.8,114.4Z" fill="#c2eadf"/>
<path d="M393.0,113.1 C396.2,111.5 408.9,111.3 411.8,113.1 C414.6,114.9 413.5,122.2 410.4,123.8 C407.3,125.3 395.9,124.2 393.0,122.4 C390.1,120.7 389.9,114.6 393.0,113.1Z" fill="#c2eadf"/>
<path d="M395.7,114.4 C396.8,113.3 400.2,112.9 402.4,113.1 C404.6,113.3 408.2,114.4 409.1,115.8 C410.0,117.1 409.1,120.0 407.7,121.1 C406.4,122.2 403.1,122.7 401.1,122.4 C399.1,122.2 396.6,121.1 395.7,119.8 C394.8,118.4 394.6,115.5 395.7,114.4Z" fill="#82cebc"/>
<path d="M371.7,111.8 C371.7,111.8 377.7,108.4 379.7,109.1 C381.7,109.7 383.2,112.9 383.7,115.8 C384.1,118.7 383.5,124.2 382.4,126.5 C381.2,128.7 378.8,128.7 377.0,129.1 C375.2,129.6 371.7,129.1 371.7,129.1 C371.7,129.1 371.7,111.8 371.7,111.8Z" fill="#c2eadf"/>
<path d="M398.4,123.8 C399.5,122.9 404.0,122.9 405.1,123.8 C406.2,124.7 406.2,128.2 405.1,129.1 C404.0,130.0 399.5,130.0 398.4,129.1 C397.3,128.2 397.3,124.7 398.4,123.8Z" fill="#c2eadf"/>
<path d="M258.3,131.7 C258.3,131.7 286.4,131.7 286.4,131.7 C286.4,131.7 291.1,137.2 286.4,138.3 C281.7,139.5 263.0,139.5 258.3,138.3 C253.7,137.2 258.3,131.7 258.3,131.7Z" fill="#c2eadf"/>
<path d="M263.7,131.7 C263.7,131.7 279.7,131.7 279.7,131.7 C279.7,131.7 282.4,135.6 279.7,136.3 C277.1,137.1 266.4,137.1 263.7,136.3 C261.0,135.6 263.7,131.7 263.7,131.7Z" fill="#82cebc"/>
<path d="M290.4,131.7 C290.4,131.7 306.5,131.7 306.5,131.7 C306.5,131.7 309.1,135.0 306.5,135.7 C303.8,136.3 293.1,136.3 290.4,135.7 C287.7,135.0 290.4,131.7 290.4,131.7Z" fill="#82cebc"/>
<path d="M265.0,146.4 C265.9,144.8 270.6,144.6 273.0,143.7 C275.5,142.8 277.3,141.9 279.7,141.0 C282.2,140.1 285.5,139.0 287.7,138.3 C290.0,137.7 290.9,137.0 293.1,137.0 C295.3,137.0 297.5,138.3 301.1,138.3 C304.7,138.3 314.5,137.0 314.5,137.0 C314.5,137.0 314.5,145.0 314.5,145.0 C314.5,145.0 309.1,144.8 306.5,145.0 C303.8,145.2 300.7,145.7 298.4,146.4 C296.2,147.0 294.9,148.4 293.1,149.0 C291.3,149.7 289.3,149.7 287.7,150.4 C286.2,151.0 285.3,152.4 283.7,153.0 C282.2,153.7 280.2,154.2 278.4,154.4 C276.6,154.6 274.8,154.6 273.0,154.4 C271.3,154.2 269.0,154.4 267.7,153.0 C266.4,151.7 264.1,147.9 265.0,146.4Z" fill="#e6c67c"/>
<path d="M271.7,154.4 C272.8,153.5 277.9,153.5 279.7,154.4 C281.5,155.3 281.5,157.7 282.4,159.7 C283.3,161.7 285.3,165.1 285.1,166.4 C284.8,167.7 282.4,168.2 281.1,167.7 C279.7,167.3 278.4,165.1 277.1,163.7 C275.7,162.4 273.9,161.3 273.0,159.7 C272.2,158.2 270.6,155.3 271.7,154.4Z" fill="#f2e2b8"/>
<path d="M281.1,142.4 C282.4,141.7 287.3,140.8 289.1,141.0 C290.9,141.2 291.5,142.6 291.8,143.7 C292.0,144.8 291.5,147.0 290.4,147.7 C289.3,148.4 286.6,148.1 285.1,147.7 C283.5,147.3 281.7,145.9 281.1,145.0 C280.4,144.1 279.7,143.0 281.1,142.4Z" fill="#cd9140"/>
<path d="M309.1,138.3 C310.0,137.5 314.5,138.3 314.5,138.3 C314.5,138.3 314.5,143.7 314.5,143.7 C314.5,143.7 310.0,144.6 309.1,143.7 C308.2,142.8 308.2,139.2 309.1,138.3Z" fill="#cd9140"/>
<path d="M293.1,153.0 C294.4,152.2 298.4,151.3 299.8,151.7 C301.1,152.2 301.8,154.6 301.1,155.7 C300.4,156.8 297.3,158.2 295.8,158.4 C294.2,158.6 292.2,157.9 291.8,157.1 C291.3,156.2 291.8,153.9 293.1,153.0Z" fill="#c2eadf"/>
<path d="M306.5,150.4 C307.8,149.7 314.5,150.4 314.5,150.4 C314.5,150.4 314.5,154.4 314.5,154.4 C314.5,154.4 307.8,155.0 306.5,154.4 C305.1,153.7 305.1,151.0 306.5,150.4Z" fill="#c2eadf"/>
<path d="M299.8,146.4 C300.9,146.1 305.3,146.1 306.5,146.4 C307.6,146.6 307.6,147.7 306.5,148.0 C305.3,148.2 300.9,148.2 299.8,148.0 C298.7,147.7 298.7,146.6 299.8,146.4Z" fill="#c2eadf"/>
<path d="M311.7,131.7 C311.7,131.7 321.0,131.7 321.0,131.7 C321.0,131.7 322.8,136.3 322.4,138.3 C321.9,140.3 320.1,142.6 318.3,143.7 C316.6,144.8 311.7,145.0 311.7,145.0 C311.7,145.0 311.7,131.7 311.7,131.7Z" fill="#e6c67c"/>
<path d="M311.7,137.0 C311.7,137.0 317.2,136.1 318.3,137.0 C319.5,137.9 319.5,141.5 318.3,142.4 C317.2,143.2 311.7,142.4 311.7,142.4 C311.7,142.4 311.7,137.0 311.7,137.0Z" fill="#cd9140"/>
<path d="M325.0,135.7 C326.4,133.9 334.4,131.7 334.4,131.7 C334.4,131.7 339.3,133.9 339.7,135.7 C340.2,137.5 338.6,141.0 337.1,142.4 C335.5,143.7 332.2,143.7 330.4,143.7 C328.6,143.7 327.3,143.7 326.4,142.4 C325.5,141.0 323.7,137.5 325.0,135.7Z" fill="#c2eadf"/>
<path d="M337.1,138.3 C337.7,137.7 340.4,137.7 341.1,138.3 C341.7,139.0 341.7,141.7 341.1,142.4 C340.4,143.0 337.7,143.0 337.1,142.4 C336.4,141.7 336.4,139.0 337.1,138.3Z" fill="#4aa898"/>
<path d="M318.3,151.7 C319.5,150.8 325.0,149.7 327.7,149.0 C330.4,148.4 331.9,148.4 334.4,147.7 C336.8,147.0 339.9,145.7 342.4,145.0 C344.8,144.4 346.9,143.7 349.1,143.7 C351.3,143.7 354.4,143.9 355.8,145.0 C357.1,146.1 357.5,148.8 357.1,150.4 C356.7,151.9 354.6,153.3 353.1,154.4 C351.5,155.5 349.7,156.2 347.7,157.1 C345.7,157.9 343.3,158.6 341.1,159.7 C338.8,160.8 335.7,163.7 334.4,163.7 C333.0,163.7 334.4,160.8 333.0,159.7 C331.7,158.6 328.4,157.9 326.4,157.1 C324.4,156.2 322.4,155.3 321.0,154.4 C319.7,153.5 317.2,152.6 318.3,151.7Z" fill="#e6c67c"/>
<path d="M335.7,153.0 C337.1,152.2 342.4,152.2 343.7,153.0 C345.1,153.9 345.1,157.5 343.7,158.4 C342.4,159.3 337.1,159.3 335.7,158.4 C334.4,157.5 334.4,153.9 335.7,153.0Z" fill="#cd9140"/>
<path d="M345.1,149.0 C346.4,148.6 351.8,148.6 353.1,149.0 C354.4,149.5 354.4,151.3 353.1,151.7 C351.8,152.2 346.4,152.2 345.1,151.7 C343.7,151.3 343.7,149.5 345.1,149.0Z" fill="#cd9140"/>
<path d="M359.8,143.7 C360.4,143.0 363.1,143.0 363.8,143.7 C364.4,144.4 364.4,147.0 363.8,147.7 C363.1,148.4 360.4,148.4 359.8,147.7 C359.1,147.0 359.1,144.4 359.8,143.7Z" fill="#e6c67c"/>
<path d="M369.1,146.4 C370.0,145.0 374.5,146.4 374.5,146.4 C374.5,146.4 374.5,154.4 374.5,154.4 C374.5,154.4 370.0,155.7 369.1,154.4 C368.2,153.0 368.2,147.7 369.1,146.4Z" fill="#e6c67c"/>
<path d="M311.7,150.4 C311.7,150.4 315.0,149.7 315.7,150.4 C316.3,151.0 316.3,153.7 315.7,154.4 C315.0,155.0 311.7,154.4 311.7,154.4 C311.7,154.4 311.7,150.4 311.7,150.4Z" fill="#c2eadf"/>
<path d="M371.7,139.7 C371.7,139.7 378.1,138.3 381.0,138.3 C383.9,138.3 386.6,139.7 389.0,139.7 C391.5,139.7 393.9,138.3 395.7,138.3 C397.5,138.3 399.3,138.8 399.7,139.7 C400.2,140.6 399.3,142.6 398.4,143.7 C397.5,144.8 396.4,145.9 394.4,146.4 C392.4,146.8 388.8,146.4 386.4,146.4 C383.9,146.4 382.1,146.1 379.7,146.4 C377.2,146.6 371.7,147.7 371.7,147.7 C371.7,147.7 371.7,139.7 371.7,139.7Z" fill="#e6c67c"/>
<path d="M371.7,147.7 C371.7,147.7 377.2,146.6 378.3,147.7 C379.5,148.8 379.5,153.3 378.3,154.4 C377.2,155.5 371.7,154.4 371.7,154.4 C371.7,154.4 371.7,147.7 371.7,147.7Z" fill="#e6c67c"/>
<path d="M393.0,146.4 C394.2,145.7 398.2,147.3 399.7,149.0 C401.3,150.8 402.0,154.6 402.4,157.1 C402.8,159.5 403.1,162.5 402.4,163.7 C401.7,165.0 399.7,165.1 398.4,164.4 C397.1,163.7 395.3,161.6 394.4,159.7 C393.5,157.8 393.3,155.3 393.0,153.0 C392.8,150.8 391.9,147.0 393.0,146.4Z" fill="#f2e2b8"/>
<path d="M394.4,131.7 C394.4,131.7 398.4,131.7 398.4,131.7 C398.4,131.7 399.1,135.0 398.4,135.7 C397.7,136.3 395.0,136.3 394.4,135.7 C393.7,135.0 394.4,131.7 394.4,131.7Z" fill="#e6c67c"/>
<path d="M386.4,154.4 C387.0,153.7 389.7,153.7 390.4,154.4 C391.0,155.0 391.0,157.7 390.4,158.4 C389.7,159.1 387.0,159.1 386.4,158.4 C385.7,157.7 385.7,155.0 386.4,154.4Z" fill="#c2eadf"/>
<path d="M421.1,131.7 C421.1,131.7 427.8,131.7 427.8,131.7 C427.8,131.7 428.9,138.3 427.8,139.7 C426.7,141.0 422.2,141.0 421.1,139.7 C420.0,138.3 421.1,131.7 421.1,131.7Z" fill="#82cebc"/>
<path d="M418.4,141.0 C419.1,139.9 421.8,139.9 422.4,141.0 C423.1,142.1 423.1,146.6 422.4,147.7 C421.8,148.8 419.1,148.8 418.4,147.7 C417.8,146.6 417.8,142.1 418.4,141.0Z" fill="#e6c67c"/>
<path d="M297.7,42.7 C298.6,41.1 301.2,40.7 303.0,41.3 C304.8,42.0 306.1,45.3 308.4,46.7 C310.6,48.0 313.5,49.1 316.4,49.4 C319.3,49.6 322.8,48.2 325.7,48.0 C328.6,47.8 331.3,48.2 333.8,48.0 C336.2,47.8 338.0,47.6 340.4,46.7 C342.9,45.8 345.8,43.8 348.5,42.7 C351.1,41.6 356.5,40.0 356.5,40.0 C356.5,40.0 356.5,53.4 356.5,53.4 C356.5,53.4 350.9,55.4 348.5,56.0 C346.0,56.7 344.0,56.9 341.8,57.4 C339.5,57.8 337.1,57.6 335.1,58.7 C333.1,59.8 330.9,62.0 329.7,64.1 C328.6,66.1 329.3,69.2 328.4,70.7 C327.5,72.3 326.0,73.4 324.4,73.4 C322.8,73.4 320.8,72.1 319.1,70.7 C317.3,69.4 315.3,67.2 313.7,65.4 C312.1,63.6 311.0,61.4 309.7,60.0 C308.4,58.7 307.2,58.0 305.7,57.4 C304.1,56.7 301.7,57.1 300.3,56.0 C299.0,54.9 298.1,52.9 297.7,50.7 C297.2,48.5 296.8,44.2 297.7,42.7Z" fill="#c2eadf"/>
<path d="M307.0,45.3 C308.5,45.0 313.3,49.5 316.4,50.0 C319.5,50.6 322.8,48.9 325.7,48.7 C328.6,48.5 331.3,48.9 333.8,48.7 C336.2,48.5 338.0,48.2 340.4,47.3 C342.9,46.5 345.8,44.5 348.5,43.3 C351.1,42.2 356.5,40.7 356.5,40.7 C356.5,40.7 356.5,52.7 356.5,52.7 C356.5,52.7 350.9,54.7 348.5,55.4 C346.0,56.0 344.0,56.3 341.8,56.7 C339.5,57.1 337.2,56.9 335.1,58.0 C333.0,59.2 330.3,61.4 329.1,63.4 C327.9,65.4 328.5,68.6 327.7,70.1 C327.0,71.5 325.7,72.1 324.4,72.1 C323.1,72.1 321.4,71.3 319.7,70.1 C318.1,68.8 315.9,66.6 314.4,64.7 C312.8,62.8 311.5,60.8 310.4,58.7 C309.3,56.6 308.3,54.3 307.7,52.0 C307.1,49.8 305.6,45.7 307.0,45.3Z" fill="#82cebc"/>
<path d="M321.7,56.0 C322.5,55.3 326.2,55.8 327.1,56.7 C328.0,57.6 327.9,60.6 327.1,61.4 C326.3,62.2 323.3,62.3 322.4,61.4 C321.5,60.5 320.9,56.8 321.7,56.0Z" fill="white"/>
<path d="M329.7,64.1 C330.7,62.5 332.4,65.2 335.1,65.4 C337.8,65.6 343.1,64.9 345.8,65.4 C348.5,65.8 350.2,66.3 351.1,68.1 C352.0,69.8 352.2,74.1 351.1,76.1 C350.0,78.1 346.7,78.8 344.4,80.1 C342.2,81.4 340.0,83.7 337.8,84.1 C335.5,84.5 332.5,84.3 331.1,82.8 C329.6,81.2 329.3,77.9 329.1,74.7 C328.9,71.6 328.7,65.6 329.7,64.1Z" fill="#e6c67c"/>
<path d="M338.4,8.4 C338.4,8.4 386.8,8.4 386.8,8.4 C386.8,8.4 387.6,24.9 386.8,28.7 C386.0,32.6 383.7,31.2 382.1,31.5 C380.5,31.9 381.1,30.2 377.4,30.7 C373.8,31.3 365.5,33.6 360.3,34.6 C355.1,35.7 349.9,36.6 346.2,37.0 C342.6,37.4 338.4,37.0 338.4,37.0 C338.4,37.0 338.4,8.4 338.4,8.4Z" fill="#e6c67c"/>
<path d="M338.4,8.4 C338.4,8.4 385.2,8.4 385.2,8.4 C385.2,8.4 387.0,19.4 386.8,22.5 C386.5,25.6 385.2,26.2 383.7,27.1 C382.1,28.1 379.5,27.7 377.4,27.9 C375.3,28.2 374.0,28.1 371.2,28.7 C368.3,29.4 363.9,30.8 360.3,31.8 C356.6,32.9 353.0,34.7 349.4,34.9 C345.7,35.2 338.4,33.4 338.4,33.4 C338.4,33.4 338.4,8.4 338.4,8.4Z" fill="#cd9140"/>
<path d="M338.4,19.4 C338.4,19.4 346.9,17.4 349.4,17.8 C351.8,18.2 353.1,20.1 353.3,21.7 C353.4,23.3 351.6,25.7 350.1,27.1 C348.7,28.6 346.6,29.9 344.7,30.3 C342.7,30.7 338.4,29.5 338.4,29.5 C338.4,29.5 338.4,19.4 338.4,19.4Z" fill="#b86e22"/>
<path d="M338.4,52.1 C338.4,52.1 341.8,46.9 343.1,44.3 C344.4,41.7 343.4,38.3 346.2,36.5 C349.1,34.7 355.1,34.7 360.3,33.7 C365.5,32.7 373.8,30.3 377.4,30.3 C381.1,30.2 381.1,31.0 382.1,33.4 C383.1,35.7 382.9,41.2 383.7,44.3 C384.4,47.4 387.6,49.9 386.8,52.1 C386.0,54.3 382.9,56.9 379.0,57.6 C375.1,58.2 367.8,56.0 363.4,56.0 C359.0,56.0 355.9,57.3 352.5,57.6 C349.1,57.8 345.5,58.5 343.1,57.6 C340.8,56.6 338.4,52.1 338.4,52.1Z" fill="#82cebc"/>
<path d="M346.2,43.5 C349.9,42.4 356.1,41.1 360.3,39.9 C364.4,38.8 368.6,36.1 371.2,36.8 C373.8,37.5 373.8,42.0 375.9,44.3 C377.9,46.6 383.1,48.9 383.7,50.5 C384.2,52.1 382.4,53.7 379.0,54.0 C375.6,54.3 368.3,52.4 363.4,52.4 C358.4,52.4 353.5,53.9 349.4,54.0 C345.2,54.0 338.4,52.9 338.4,52.9 C338.4,52.9 338.4,46.6 338.4,46.6 C338.4,46.6 342.6,44.6 346.2,43.5Z" fill="#4aa898"/>
<path d="M377.4,48.2 C378.3,47.5 382.0,47.9 382.9,48.7 C383.8,49.4 383.7,52.2 382.9,52.9 C382.0,53.6 378.6,53.7 377.7,52.9 C376.8,52.1 376.6,48.9 377.4,48.2Z" fill="#187d6a"/>
<path d="M358.7,57.6 C362.0,56.3 375.5,56.3 379.0,57.6 C382.4,58.8 382.6,63.7 379.3,64.9 C376.0,66.1 362.5,66.1 359.0,64.9 C355.6,63.7 355.4,58.8 358.7,57.6Z" fill="#c2eadf"/>
<path d="M363.4,66.1 C364.7,65.2 369.9,65.2 371.2,66.1 C372.5,67.0 372.5,70.7 371.2,71.6 C369.9,72.5 364.7,72.5 363.4,71.6 C362.1,70.7 362.1,67.0 363.4,66.1Z" fill="#c2eadf"/>
<path d="M338.4,61.4 C338.4,61.4 352.7,58.1 355.6,61.4 C358.4,64.8 355.6,81.7 355.6,81.7 C355.6,81.7 338.4,81.7 338.4,81.7 C338.4,81.7 338.4,61.4 338.4,61.4Z" fill="#e6c67c"/>
<path d="M375.9,56.8 C377.4,55.6 383.7,55.6 385.2,56.8 C386.8,57.9 386.8,62.6 385.2,63.8 C383.7,65.0 377.4,65.0 375.9,63.8 C374.3,62.6 374.3,57.9 375.9,56.8Z" fill="#e6c67c"/>
<path d="M332.9,65.8 L334.0,64.6 L335.1,63.4 L336.4,62.4 L338.1,61.7 L340.3,61.0 L342.1,60.9 L344.3,60.9 L346.4,61.8 L348.2,62.5 M261.8,80.7 L266.3,80.4 L271.1,77.9 L275.0,76.8 L278.4,75.9 L281.6,74.5 L277.5,74.4 L274.1,75.1 L269.9,75.6 L267.3,76.1 L270.6,73.8 L274.2,73.0 L276.6,72.9 L280.0,72.4 L283.8,72.6 L286.4,72.1 L288.1,70.5 L291.2,70.6 L293.4,70.8 L296.8,71.2 L298.5,72.5 L302.7,75.7 L305.2,76.7 L308.1,76.1 L310.2,77.2 L313.6,77.7 L315.8,77.9 L319.0,77.9 L321.7,77.8 L324.0,76.6 L325.5,76.3 L327.4,73.9 L327.9,71.7 L328.9,69.3 L331.3,66.5 L332.9,65.8 L330.7,68.6 L329.8,71.4 L332.4,70.8 L334.2,71.7 L335.7,73.0 L335.4,74.9 L336.1,76.4 L337.7,77.2 L336.2,78.7 L337.5,80.1 L336.8,81.4 L336.1,83.4 L335.2,84.6 L333.4,84.5 L331.3,85.4 L329.4,86.0 L328.2,86.9 L327.0,87.3 L326.6,88.6 L326.3,89.8 L325.1,90.5 L322.6,93.0 L320.8,94.8 L320.3,97.3 L319.2,99.6 L320.2,100.8 L317.9,101.5 L315.7,102.8 L314.6,102.8 L311.8,100.8 L309.6,100.2 L307.2,101.4 L305.5,104.3 L305.0,106.3 L301.9,109.9 L304.9,110.1 L309.2,110.8 L311.9,109.7 L314.1,109.2 L314.4,111.5 L313.2,114.2 L311.2,115.3 L313.1,117.0 L312.3,119.1 L310.7,121.0 L309.7,123.9 L308.6,126.5 L305.5,125.7 L304.3,123.7 L302.6,120.7 L300.9,119.7 L299.4,119.1 L302.2,122.1 L301.1,123.1 L299.0,124.5 L299.7,127.1 L297.6,125.8 L296.0,124.0 L296.8,122.7 L294.4,120.7 L292.7,120.6 L292.0,121.7 L291.2,120.4 L289.7,118.5 L288.0,118.5 L286.5,118.2 L284.4,117.7 L282.2,118.8 L280.8,117.4 L278.0,115.1 L275.2,113.3 L272.5,114.3 L269.8,115.9 L267.1,115.9 L268.0,114.0 L270.7,112.3 L273.1,110.9 L273.2,108.5 L273.6,105.4 L271.8,103.9 L272.7,101.2 L272.5,98.7 L271.3,95.1 L267.8,93.5 L264.9,92.4 L261.1,92.5 L256.9,93.9 L255.9,96.1 L255.9,99.9 L257.7,102.3 L260.1,103.0 L260.5,107.0 L258.1,106.7 L255.7,106.1 M305.7,131.6 L307.1,129.7 L308.3,127.0 L305.2,126.9 L302.6,127.1 L303.7,130.1 L305.7,131.6 M315.5,115.6 L315.6,114.1 L315.0,112.4 L315.4,110.7 L316.1,109.5 L316.9,108.8 L318.9,110.2 L320.4,109.1 L321.8,106.2 L321.8,104.1 L324.5,103.5 L325.8,104.5 L326.0,105.9 L325.3,107.3 L324.5,109.4 L323.4,111.2 L322.1,112.4 L320.9,115.0 L319.0,114.8 L317.4,115.3 L315.5,115.6 M328.8,105.7 L331.4,106.2 L333.2,106.7 L335.1,107.0 L336.2,106.7 L336.2,105.5 L335.3,104.4 L333.6,103.0 L332.6,102.1 L331.0,102.4 L329.4,103.5 L328.9,104.5 L328.8,105.7 M326.9,105.9 L329.0,105.4 L329.4,104.0 L328.8,102.9 L327.7,102.2 L326.8,102.6 L326.7,104.4 L326.9,105.9 M321.1,98.5 L322.5,97.4 L323.7,97.0 L325.6,96.6 L326.6,96.1 L326.7,94.2 L325.3,93.3 L324.7,93.3 L322.9,94.0 L321.5,95.1 L321.5,97.0 L321.1,98.5 M327.0,91.6 L328.7,93.0 L328.9,94.4 L328.1,95.5 L326.6,94.4 L326.1,92.7 L327.0,91.6 M324.1,100.7 L325.8,100.4 L326.2,99.5 L324.9,98.9 L323.2,99.5 L324.1,100.7 M327.2,98.6 L329.1,98.7 L329.5,97.2 L328.9,95.7 L327.8,96.4 L327.2,98.6 M324.0,101.8 L325.9,102.8 L326.2,101.5 L324.6,101.0 L324.0,101.8 M315.0,105.0 L316.0,104.2 L317.4,104.8 L316.9,105.8 L316.0,107.1 L314.7,106.0 L315.0,105.0 M320.4,126.6 L319.7,124.2 L320.4,122.1 L321.3,120.2 L322.4,118.4 L324.8,116.9 L326.1,116.8 L326.3,115.3 L327.3,113.9 L328.8,112.2 L330.0,110.5 L329.9,108.4 L330.6,107.2 L331.5,106.7 L332.9,107.3 L334.2,107.5 L335.3,107.4 L336.8,108.0 L338.8,108.3 L339.6,109.2 L340.2,111.0 L340.7,112.2 L339.7,113.6 L339.0,115.1 L338.5,116.6 L337.9,118.1 L336.4,119.9 L335.4,121.8 L334.8,122.7 L332.4,123.4 L329.7,123.8 L327.2,123.9 L325.3,123.9 L323.3,125.1 L321.7,126.0 L320.4,126.6 M334.3,130.2 L332.3,129.1 L332.1,127.8 L332.2,127.0 L333.3,126.4 L336.2,127.3 L337.0,128.7 L336.3,129.6 L334.3,130.2 M347.4,116.7 L346.4,115.9 L345.6,115.0 L345.3,113.7 L346.5,113.1 L347.6,112.4 L348.5,113.4 L348.3,115.3 L347.4,116.7 M360.7,114.2 L358.5,114.7 L357.2,112.8 L356.3,111.2 L355.9,109.8 L356.1,108.1 L356.8,109.1 L357.7,111.0 L358.4,113.0 L359.5,114.2 L360.7,114.2 M355.8,100.8 L354.3,101.5 L352.7,102.0 L352.4,101.4 L353.5,100.2 L355.3,100.0 L355.8,100.8 M351.0,110.3 L350.0,109.8 L350.4,108.1 L351.3,107.1 L352.3,107.8 L351.9,109.1 L351.0,110.3 M354.2,91.0 L353.2,91.9 L351.4,90.8 L351.2,89.1 L353.3,90.1 L354.2,91.0 M343.0,82.5 L342.5,83.2 L342.1,82.9 L343.7,82.5 L343.4,83.0 L343.0,82.5 M347.5,137.6 L346.5,137.1 L346.0,134.9 L346.3,132.6 L347.8,130.7 L348.7,128.8 L349.3,126.4 L349.4,124.7 L350.4,123.2 L352.0,121.4 L353.6,121.1 L354.9,121.7 L356.5,121.2 L358.4,121.1 L359.8,122.1 L359.1,123.4 L357.3,124.0 L358.8,125.7 L360.1,124.7 L360.2,123.2 L360.8,121.2 L359.6,120.0 L361.2,119.2 L361.9,116.6 L362.8,115.2 L362.7,114.3 L364.8,112.6 L364.0,111.8 L362.4,111.2 L360.7,109.7 L360.3,109.2 L362.1,109.0 L366.8,110.4 L364.4,108.9 L361.9,107.8 L363.2,106.9 L361.7,106.1 L360.6,106.1 L360.3,104.2 L359.2,103.8 L358.1,101.7 L355.9,99.8 L356.6,97.8 L358.9,96.3 L358.8,94.7 L358.4,93.1 L358.5,91.3 L357.0,92.0 L358.1,90.0 L356.8,87.9 L355.0,88.5 L352.8,86.3 L352.0,84.1 L350.2,83.7 L348.1,81.6 L346.9,81.9 L343.2,80.5 L342.4,79.9 L340.6,78.4 L338.6,77.7 L339.8,76.8 L339.6,75.7 L341.3,76.1 L342.5,75.5 L343.7,73.2 L344.3,72.7 L346.8,71.7 L348.9,70.9 L351.1,71.2 L353.4,69.6 L354.1,67.4 L356.1,65.6 L358.5,64.0 L360.2,63.4 L359.8,65.8 L358.6,69.2 L356.8,70.9 L354.5,71.8 L352.0,73.4 L351.4,74.4 L353.8,74.0 L357.5,73.1 L359.6,73.5 L360.5,74.7 L363.3,76.3 L367.3,76.2 L369.8,74.5 L368.4,71.8 L370.6,69.8 L373.2,67.2 L377.1,66.6 L381.9,66.9 L383.9,68.2 L387.3,67.3 L389.3,65.7 L391.5,63.2 L393.6,64.3 L394.2,65.5 L391.4,67.3 L390.7,69.7 L392.1,73.0 L390.8,73.3 L395.2,75.9 L395.7,73.9 L394.3,70.4 L398.3,71.8 L400.7,67.8 L402.8,65.8 L407.7,65.7 L412.0,65.7 L417.2,69.3 L420.8,74.0 L422.5,74.1 L422.0,77.4 L424.9,78.8 L428.1,78.6 L429.3,76.7 L431.4,72.6 M432.4,114.7 L428.9,109.7 L425.9,107.3 L424.4,105.1 L425.5,103.0 L424.0,100.9 L426.7,99.8 L430.5,96.9 L433.7,95.9 L434.1,91.0 L435.6,90.0 M431.1,129.0 L426.8,128.9 L424.6,128.2 L420.7,127.4 L419.8,132.4 L417.4,132.2 L414.3,133.9 L411.2,139.2 L407.9,144.2 L406.3,144.0 L405.0,144.7 L404.5,146.7 L401.4,148.4 L398.5,148.6 L395.8,149.5 L396.4,150.9 L400.3,150.9 L403.3,150.8 L405.4,151.6 L406.9,148.4 L407.0,145.6 L409.1,146.6 L413.4,143.9 L415.3,148.4 L416.2,151.3 L416.5,155.3 L414.7,163.0 M410.2,173.6 L406.6,171.5 L402.9,169.3 L398.5,167.8 L394.8,166.8 L391.8,165.2 L388.4,164.1 L385.1,162.9 L383.9,161.1 L384.6,163.2 L381.3,162.8 L380.2,161.0 L381.8,159.1 L381.2,157.0 L380.3,154.3 L379.2,152.6 L377.8,153.3 L376.4,155.0 L374.3,155.8 L371.8,156.8 L369.7,156.1 L368.2,153.9 L370.1,151.5 L369.9,151.3 L371.7,150.5 L373.4,148.7 L374.3,147.4 L376.3,147.0 L378.1,146.1 L379.5,144.0 L377.9,142.9 L374.6,143.2 L373.0,143.3 L372.1,144.3 L371.4,145.6 L369.9,145.0 L368.2,144.6 L368.1,145.3 L368.0,146.5 L368.1,148.9 L368.6,150.8 L369.9,151.3 M370.1,151.5 L368.2,153.2 L365.6,154.4 L365.9,156.4 L367.3,157.2 L366.7,159.6 L364.5,158.4 L362.6,156.3 L361.3,154.0 L358.0,153.1 L354.8,151.4 L353.7,151.4 L354.4,153.4 L356.8,155.4 L360.1,156.5 L361.2,156.8 L360.2,158.5 L359.3,160.1 L358.8,158.2 L356.1,156.9 L353.4,155.5 L351.7,153.9 L350.0,154.6 L348.2,155.4 L346.4,155.2 L346.2,157.1 L343.7,159.1 L342.7,161.7 L341.1,163.9 L337.3,164.7 L336.3,163.3 L333.9,162.9 L333.7,160.2 L334.8,157.8 L334.7,155.2 L335.9,154.7 L339.5,155.3 L341.8,155.2 L342.2,152.7 L341.4,150.9 L339.4,148.9 L342.0,148.8 L341.8,147.6 L343.6,147.9 L344.4,146.7 L345.1,146.0 L345.8,145.4 L346.5,143.6 L348.1,142.8 L349.2,142.1 L348.6,140.4 L348.5,138.6 L349.6,137.6 L350.0,139.0 L349.6,140.2 L350.3,141.3 L351.4,141.7 L352.6,140.8 L355.6,139.9 L356.9,138.8 L356.3,136.6 L357.8,135.3 L356.6,133.9 L358.8,132.3 L357.7,131.5 L355.9,133.0 L354.5,131.7 L354.2,129.5 L354.6,127.4 L353.8,126.8 L353.3,128.6 L352.7,130.6 L352.3,131.9 L352.7,133.6 L353.9,134.4 L353.2,136.4 L353.4,138.7 L352.3,139.6 L351.3,138.7 L350.2,137.2 L349.3,136.2 L347.5,137.6 M315.6,192.2 L318.3,184.4 L319.0,182.2 L321.7,179.0 L325.0,176.0 L328.0,174.5 L331.2,172.2 L332.4,168.9 L335.5,167.2 L336.8,164.9 L341.0,166.0 L344.3,164.3 L349.5,163.3 L353.5,162.5 L354.8,162.8 L355.2,164.5 L354.4,166.7 L356.4,167.7 L361.0,167.3 L365.8,168.7 L366.6,165.5 L369.1,163.9 L372.2,163.9 L376.9,162.6 L379.3,160.8 L380.2,161.0 L381.1,162.5 L383.0,164.3 L385.9,165.9 L389.1,167.3 L392.3,168.7 L394.8,170.7 L398.7,172.8 L402.0,174.4 L410.1,174.0 M339.0,147.1 L342.4,146.3 L344.2,145.7 L344.4,144.3 L343.3,143.1 L342.2,141.3 L341.6,140.2 L342.1,138.4 L341.4,137.1 L340.2,137.2 L339.6,138.3 L339.6,140.0 L339.9,141.2 L340.8,141.9 L341.1,143.1 L340.0,143.6 L339.7,144.7 L341.0,145.3 L340.1,145.7 L339.0,147.1 M336.0,144.9 L338.6,144.4 L339.0,142.3 L339.1,140.9 L338.2,140.7 L337.4,141.5 L336.2,142.5 L335.6,144.2 L336.0,144.9 M392.0,60.6 L389.0,60.3 L384.8,58.9 L382.9,58.1 L380.1,59.1 L378.3,60.4 L378.0,59.0 L379.7,57.1 L382.0,55.6 L383.9,54.5 L386.0,55.4 L389.0,56.4 L392.0,60.6 M378.4,61.0 L376.0,62.0 L374.0,63.8 L372.8,60.7 L372.8,59.6 L375.6,59.6 L378.4,61.0 M395.5,58.3 L393.5,61.3 L392.1,60.5 L393.7,58.3 L395.5,58.3 M373.5,64.3 L371.2,67.2 L369.2,70.1 L366.9,71.8 L367.6,70.4 L369.5,67.4 L372.0,64.7 L373.5,64.3 M413.7,61.0 L408.9,62.7 L410.5,61.6 L413.7,61.0 M380.7,132.8 L379.8,134.8 L380.0,137.4 L382.2,138.7 L385.0,139.4 L386.7,140.4 L387.9,142.0 L389.7,142.0 L392.2,138.7 L389.3,137.1 L387.4,136.5 L386.2,136.0 L384.5,136.1 L382.4,135.6 L383.1,133.1 L381.5,131.8 L380.7,132.8 M261.3,110.3 L263.6,114.2 L264.2,116.9 L263.1,120.8 L261.6,126.1 L259.8,121.2 L261.9,118.1 L261.3,110.3 M356.0,160.7 L359.0,159.8 L359.1,161.5 L358.5,162.1 L356.2,161.6 L356.0,160.7 M352.0,157.5 L352.9,160.2 L351.7,160.4 L351.1,158.0 L352.0,157.5 M368.3,160.4 L371.1,159.4 L369.5,160.6 L368.3,160.4 M423.0,73.2 L424.2,71.9 L426.2,73.6 L424.6,75.4 L423.0,73.2" fill="none" stroke="#222" stroke-width="0.45" stroke-linejoin="round"/>
<path d="M366.0,101.2 L361.9,89.9 L373.7,81.7 L380.3,100.1Z" fill="none" stroke="#000" stroke-width="0.9"/>
</g>
<circle cx="343.20" cy="103.00" r="90.00" fill="none" stroke="#333" stroke-width="0.6"/>
<text x="343.20" y="11.65" font-size="4.90" text-anchor="middle" font-weight="normal" fill="#000" stroke="#000" stroke-width="0.14" >180</text>
<text x="290.30" y="24.05" font-size="4.90" text-anchor="middle" font-weight="normal" fill="#000" stroke="#000" stroke-width="0.14" >150W</text>
<text x="256.30" y="58.05" font-size="4.90" text-anchor="middle" font-weight="normal" fill="#000" stroke="#000" stroke-width="0.14" >120W</text>
<text x="245.30" y="105.15" font-size="4.90" text-anchor="middle" font-weight="normal" fill="#000" stroke="#000" stroke-width="0.14" >90W</text>
<text x="257.40" y="151.55" font-size="4.90" text-anchor="middle" font-weight="normal" fill="#000" stroke="#000" stroke-width="0.14" >60W</text>
<text x="291.50" y="185.55" font-size="4.90" text-anchor="middle" font-weight="normal" fill="#000" stroke="#000" stroke-width="0.14" >30W</text>
<text x="343.40" y="198.05" font-size="4.90" text-anchor="middle" font-weight="normal" fill="#000" stroke="#000" stroke-width="0.14" >0</text>
<text x="394.50" y="185.55" font-size="4.90" text-anchor="middle" font-weight="normal" fill="#000" stroke="#000" stroke-width="0.14" >30E</text>
<text x="428.20" y="151.55" font-size="4.90" text-anchor="middle" font-weight="normal" fill="#000" stroke="#000" stroke-width="0.14" >60E</text>
<text x="440.70" y="104.95" font-size="4.90" text-anchor="middle" font-weight="normal" fill="#000" stroke="#000" stroke-width="0.14" >90E</text>
<text x="429.50" y="58.05" font-size="4.90" text-anchor="middle" font-weight="normal" fill="#000" stroke="#000" stroke-width="0.14" >120E</text>
<text x="395.40" y="24.05" font-size="4.90" text-anchor="middle" font-weight="normal" fill="#000" stroke="#000" stroke-width="0.14" >150E</text>
<text x="247.60" y="13.30" font-size="12.50" text-anchor="middle" font-weight="bold" fill="#000" stroke="#000" stroke-width="0.00" >b</text>
<text x="433.10" y="11.20" font-size="8.37" text-anchor="end" font-weight="bold" fill="#000" stroke="#000" stroke-width="0.00"  textLength="44.77" lengthAdjust="spacingAndGlyphs">FGOALS-g3</text>
<path d="M258.3,210.7 L271.6,208.9 L271.6,212.5 Z" fill="#7e5e1e"/>
<rect x="271.4" y="208.9" width="13.8" height="3.6" fill="#b86e22"/>
<rect x="285.4" y="208.9" width="14.4" height="3.6" fill="#cd9140"/>
<rect x="300.0" y="208.9" width="13.9" height="3.6" fill="#e6c67c"/>
<rect x="314.2" y="208.9" width="14.2" height="3.6" fill="#f2e2b8"/>
<rect x="357.6" y="208.9" width="13.8" height="3.6" fill="#c0ebe2"/>
<rect x="371.7" y="208.9" width="14.6" height="3.6" fill="#80d0c0"/>
<rect x="386.5" y="208.9" width="13.9" height="3.6" fill="#48a898"/>
<rect x="400.6" y="208.9" width="14.0" height="3.6" fill="#1a8070"/>
<path d="M414.7,208.9 L428.0,210.7 L414.7,212.5 Z" fill="#0c6a58"/>
<text x="271.40" y="218.60" font-size="6.90" text-anchor="middle" font-weight="normal" fill="#000" stroke="#000" stroke-width="0.14"  textLength="12.01" lengthAdjust="spacingAndGlyphs">-100</text>
<text x="285.40" y="218.60" font-size="6.90" text-anchor="middle" font-weight="normal" fill="#000" stroke="#000" stroke-width="0.14"  textLength="8.67" lengthAdjust="spacingAndGlyphs">-50</text>
<text x="300.00" y="218.60" font-size="6.90" text-anchor="middle" font-weight="normal" fill="#000" stroke="#000" stroke-width="0.14"  textLength="8.67" lengthAdjust="spacingAndGlyphs">-25</text>
<text x="314.20" y="218.60" font-size="6.90" text-anchor="middle" font-weight="normal" fill="#000" stroke="#000" stroke-width="0.14"  textLength="8.67" lengthAdjust="spacingAndGlyphs">-10</text>
<text x="328.70" y="218.60" font-size="6.90" text-anchor="middle" font-weight="normal" fill="#000" stroke="#000" stroke-width="0.14"  textLength="5.34" lengthAdjust="spacingAndGlyphs">-5</text>
<text x="343.10" y="218.60" font-size="6.90" text-anchor="middle" font-weight="normal" fill="#000" stroke="#000" stroke-width="0.14"  textLength="3.34" lengthAdjust="spacingAndGlyphs">0</text>
<text x="357.60" y="218.60" font-size="6.90" text-anchor="middle" font-weight="normal" fill="#000" stroke="#000" stroke-width="0.14"  textLength="3.34" lengthAdjust="spacingAndGlyphs">5</text>
<text x="371.70" y="218.60" font-size="6.90" text-anchor="middle" font-weight="normal" fill="#000" stroke="#000" stroke-width="0.14"  textLength="6.67" lengthAdjust="spacingAndGlyphs">10</text>
<text x="386.50" y="218.60" font-size="6.90" text-anchor="middle" font-weight="normal" fill="#000" stroke="#000" stroke-width="0.14"  textLength="6.67" lengthAdjust="spacingAndGlyphs">25</text>
<text x="400.60" y="218.60" font-size="6.90" text-anchor="middle" font-weight="normal" fill="#000" stroke="#000" stroke-width="0.14"  textLength="6.67" lengthAdjust="spacingAndGlyphs">50</text>
<text x="414.90" y="218.60" font-size="6.90" text-anchor="middle" font-weight="normal" fill="#000" stroke="#000" stroke-width="0.14"  textLength="10.01" lengthAdjust="spacingAndGlyphs">100</text>
<text x="342.70" y="206.80" font-size="6.84" text-anchor="middle" font-weight="normal" fill="#000" stroke="#000" stroke-width="0.14"  textLength="146.49" lengthAdjust="spacingAndGlyphs">MIN5 minus MEAN precipitation trend (mm per decade)</text>
<clipPath id="cc"><circle cx="573.40" cy="101.70" r="90.50"/></clipPath>
<g clip-path="url(#cc)">
<circle cx="573.40" cy="101.70" r="90.50" fill="#9b9b9b"/>
<path d="M574.0,73.0 L580.4,71.7 L585.8,73.0 L593.8,74.4 L603.0,70.4 L603.0,65.7 L608.3,68.4 L616.4,69.8 L620.4,73.8 L625.7,75.1 L629.7,71.1 L635.0,68.4 L640.4,69.8 L647.0,76.4 L653.8,79.1 L659.0,79.1 L664.0,80.4 L662.0,88.0 L656.0,93.0 L652.0,96.0 L651.0,104.0 L655.0,109.0 L664.0,114.0 L663.0,120.0 L658.9,123.7 L648.0,124.8 L641.8,129.5 L638.7,135.7 L634.0,140.4 L625.4,144.6 L624.6,148.2 L629.3,150.8 L635.8,147.7 L640.2,145.5 L642.1,150.8 L640.2,156.8 L639.0,163.3 L632.4,164.3 L624.6,163.3 L616.8,160.2 L611.8,155.5 L609.0,149.0 L610.6,142.7 L604.4,139.6 L599.7,136.5 L596.0,138.0 L596.5,150.4 L591.0,150.4 L583.0,149.0 L575.0,150.4 L573.7,146.4 L577.7,142.4 L580.4,138.4 L577.7,131.7 L577.7,125.0 L580.0,119.0 L586.0,118.0 L590.0,118.0 L592.4,114.5 L588.4,105.0 L588.4,97.0 L583.0,89.0 L580.4,82.4 L575.0,78.4Z" fill="#ffffff"/>
<path d="M607.5,128.7 L615.3,127.2 L623.0,133.4 L621.5,141.2 L616.8,141.2 L610.6,138.0 L607.5,133.4Z" fill="#9b9b9b"/>
<path d="M548.0,190.0 L549.6,188.1 L550.9,184.2 L554.8,176.3 L558.8,171.0 L562.7,165.8 L566.7,163.1 L574.5,162.5 L585.0,163.1 L586.4,167.1 L595.6,164.5 L598.2,161.8 L608.7,161.8 L611.3,159.9 L616.6,163.1 L621.8,168.4 L625.8,173.7 L632.0,178.0 L645.0,185.0 L640.0,200.0 L550.0,200.0Z" fill="#ffffff"/>
<path d="M567.1,155.5 L572.7,155.5 L572.7,158.7 L567.1,158.7Z" fill="#ffffff"/>
<path d="M580.4,75.7 C581.8,74.4 588.0,75.0 591.1,75.7 C594.2,76.4 596.9,78.6 599.1,79.7 C601.4,80.8 604.5,82.4 604.5,82.4 C604.5,82.4 604.5,99.8 604.5,99.8 C604.5,99.8 598.2,100.9 596.5,99.8 C594.7,98.6 595.1,94.9 593.8,93.1 C592.4,91.3 590.2,90.6 588.4,89.1 C586.7,87.5 584.4,85.9 583.1,83.7 C581.8,81.5 579.1,77.0 580.4,75.7Z" fill="#e6c67c"/>
<path d="M596.5,87.7 C597.8,86.2 604.5,87.7 604.5,87.7 C604.5,87.7 604.5,97.1 604.5,97.1 C604.5,97.1 597.8,98.6 596.5,97.1 C595.1,95.5 595.1,89.3 596.5,87.7Z" fill="#cd9140"/>
<path d="M573.7,73.0 C574.6,72.1 579.3,71.9 580.4,73.0 C581.5,74.1 581.3,78.8 580.4,79.7 C579.5,80.6 576.2,79.5 575.1,78.4 C574.0,77.3 572.8,73.9 573.7,73.0Z" fill="#82cebc"/>
<path d="M588.4,95.7 C589.3,94.6 593.8,98.9 596.5,99.8 C599.1,100.6 604.5,101.1 604.5,101.1 C604.5,101.1 604.5,110.4 604.5,110.4 C604.5,110.4 598.7,112.4 596.5,111.8 C594.2,111.1 592.4,109.1 591.1,106.4 C589.8,103.8 587.5,96.9 588.4,95.7Z" fill="#82cebc"/>
<path d="M599.1,67.7 C600.0,66.3 604.5,67.7 604.5,67.7 C604.5,67.7 604.5,75.7 604.5,75.7 C604.5,75.7 600.0,77.0 599.1,75.7 C598.2,74.4 598.2,69.0 599.1,67.7Z" fill="#4aa898"/>
<path d="M572.7,100.8 C573.0,100.5 574.4,100.5 574.8,100.8 C575.2,101.1 575.2,102.4 574.8,102.7 C574.4,103.0 573.0,103.0 572.7,102.7 C572.3,102.4 572.3,101.1 572.7,100.8Z" fill="#ffffff"/>
<path d="M601.7,68.4 C601.7,68.4 613.2,69.8 616.4,71.1 C619.5,72.4 619.3,74.7 620.4,76.4 C621.5,78.2 623.0,79.1 623.0,81.8 C623.0,84.5 620.4,92.5 620.4,92.5 C620.4,92.5 601.7,92.5 601.7,92.5 C601.7,92.5 601.7,68.4 601.7,68.4Z" fill="#4aa898"/>
<path d="M620.4,75.1 C621.7,71.8 627.1,73.1 629.7,72.4 C632.4,71.8 634.2,71.3 636.4,71.1 C638.6,70.9 641.5,70.0 643.1,71.1 C644.6,72.2 645.8,75.1 645.8,77.8 C645.8,80.4 644.0,84.7 643.1,87.1 C642.2,89.6 640.4,92.5 640.4,92.5 C640.4,92.5 621.7,92.5 621.7,92.5 C621.7,92.5 619.0,78.4 620.4,75.1Z" fill="#82cebc"/>
<path d="M629.7,69.8 C630.8,68.9 636.0,68.0 637.7,68.4 C639.5,68.9 640.6,71.3 640.4,72.4 C640.2,73.5 638.0,74.9 636.4,75.1 C634.8,75.3 632.2,74.7 631.1,73.8 C629.9,72.9 628.6,70.6 629.7,69.8Z" fill="#4aa898"/>
<path d="M633.7,77.8 C635.1,76.2 641.1,76.7 643.1,77.8 C645.1,78.9 646.2,82.4 645.8,84.5 C645.3,86.5 642.2,89.4 640.4,89.8 C638.6,90.2 636.2,89.1 635.1,87.1 C634.0,85.1 632.4,79.3 633.7,77.8Z" fill="#187d6a"/>
<path d="M624.4,81.8 C625.5,80.0 629.9,80.0 631.1,81.8 C632.2,83.6 631.1,92.5 631.1,92.5 C631.1,92.5 624.4,92.5 624.4,92.5 C624.4,92.5 623.3,83.6 624.4,81.8Z" fill="#ffffff"/>
<path d="M629.7,73.8 C630.6,72.9 634.2,72.9 635.1,73.8 C636.0,74.7 636.0,78.2 635.1,79.1 C634.2,80.0 630.6,80.0 629.7,79.1 C628.8,78.2 628.8,74.7 629.7,73.8Z" fill="#ffffff"/>
<path d="M644.4,75.1 C645.3,74.0 648.7,77.1 651.1,77.8 C653.6,78.4 656.7,78.9 659.1,79.1 C661.6,79.3 665.8,79.1 665.8,79.1 C665.8,79.1 665.8,92.5 665.8,92.5 C665.8,92.5 643.1,92.5 643.1,92.5 C643.1,92.5 645.5,87.3 645.8,84.5 C646.0,81.6 643.5,76.2 644.4,75.1Z" fill="#cd9140"/>
<path d="M653.8,80.4 C654.9,79.8 659.3,79.8 660.5,80.4 C661.6,81.1 661.6,83.8 660.5,84.5 C659.3,85.1 654.9,85.1 653.8,84.5 C652.7,83.8 652.7,81.1 653.8,80.4Z" fill="#b86e22"/>
<path d="M633.1,109.7 C634.7,107.9 639.6,107.3 643.1,107.0 C646.5,106.8 650.9,107.5 653.8,108.4 C656.7,109.3 658.9,110.2 660.5,112.4 C662.0,114.6 664.2,119.5 663.1,121.7 C662.0,124.0 656.7,125.3 653.8,126.0 C650.9,126.7 648.7,126.3 645.8,126.0 C642.9,125.7 638.5,125.8 636.4,124.4 C634.3,123.0 633.6,120.2 633.1,117.7 C632.5,115.3 631.4,111.5 633.1,109.7Z" fill="#82cebc"/>
<path d="M635.1,111.0 C636.4,109.5 640.2,108.6 643.1,108.4 C646.0,108.1 649.8,108.8 652.4,109.7 C655.1,110.6 657.6,111.9 659.1,113.7 C660.7,115.5 662.7,118.6 661.8,120.4 C660.9,122.2 656.5,123.7 653.8,124.4 C651.1,125.1 648.4,124.6 645.8,124.4 C643.1,124.2 639.5,124.2 637.7,123.1 C636.0,122.0 635.5,119.7 635.1,117.7 C634.6,115.7 633.7,112.6 635.1,111.0Z" fill="#4aa898"/>
<path d="M640.4,89.7 C640.4,89.7 656.5,89.7 656.5,89.7 C656.5,89.7 654.7,96.6 653.8,99.0 C652.9,101.5 652.4,102.8 651.1,104.4 C649.8,105.9 647.3,108.1 645.8,108.4 C644.2,108.6 642.4,107.5 641.8,105.7 C641.1,103.9 642.0,100.4 641.8,97.7 C641.5,95.0 640.4,89.7 640.4,89.7Z" fill="#cd9140"/>
<path d="M643.1,89.7 C643.1,89.7 651.1,89.7 651.1,89.7 C651.1,89.7 652.4,102.1 651.1,104.4 C649.8,106.6 644.4,105.5 643.1,103.0 C641.8,100.6 643.1,89.7 643.1,89.7Z" fill="#b86e22"/>
<path d="M611.0,89.7 C611.0,89.7 620.4,89.7 620.4,89.7 C620.4,89.7 623.3,94.6 623.0,96.3 C622.8,98.1 620.8,99.9 619.0,100.4 C617.3,100.8 613.7,100.8 612.4,99.0 C611.0,97.2 611.0,89.7 611.0,89.7Z" fill="#4aa898"/>
<path d="M628.4,89.7 C628.4,89.7 637.7,89.7 637.7,89.7 C637.7,89.7 640.0,93.9 639.1,95.0 C638.2,96.1 634.2,97.2 632.4,96.3 C630.6,95.5 628.4,89.7 628.4,89.7Z" fill="#82cebc"/>
<path d="M601.7,103.0 C601.7,103.0 607.9,102.1 611.0,103.0 C614.1,103.9 618.1,106.8 620.4,108.4 C622.6,109.9 622.8,111.3 624.4,112.4 C625.9,113.5 628.2,113.9 629.7,115.1 C631.3,116.2 633.7,117.9 633.7,119.1 C633.7,120.2 631.7,121.5 629.7,121.7 C627.7,122.0 624.4,120.4 621.7,120.4 C619.0,120.4 616.4,121.7 613.7,121.7 C611.0,121.7 607.7,121.1 605.7,120.4 C603.7,119.7 601.7,117.7 601.7,117.7 C601.7,117.7 601.7,103.0 601.7,103.0Z" fill="#e6c67c"/>
<path d="M601.7,123.1 C601.7,123.1 608.1,122.6 611.0,123.1 C613.9,123.5 618.1,124.4 619.0,125.7 C619.9,127.1 617.9,130.4 616.4,131.1 C614.8,131.8 612.1,131.1 609.7,129.8 C607.2,128.4 601.7,123.1 601.7,123.1Z" fill="#f2e2b8"/>
<path d="M609.7,135.1 C610.8,134.4 615.7,135.3 616.4,136.4 C617.0,137.5 614.8,141.1 613.7,141.8 C612.6,142.4 610.3,141.6 609.7,140.4 C609.0,139.3 608.6,135.8 609.7,135.1Z" fill="#cd9140"/>
<path d="M623.0,123.1 C624.8,121.3 631.3,123.1 633.7,124.4 C636.2,125.7 637.7,128.6 637.7,131.1 C637.7,133.5 635.5,137.3 633.7,139.1 C632.0,140.9 628.8,142.4 627.1,141.8 C625.3,141.1 623.7,138.2 623.0,135.1 C622.4,132.0 621.3,124.9 623.0,123.1Z" fill="#c2eadf"/>
<path d="M575.1,143.7 C576.2,142.2 580.2,139.5 581.8,139.7 C583.3,139.9 584.6,143.5 584.4,145.1 C584.2,146.6 582.0,148.4 580.4,149.1 C578.9,149.7 576.0,150.0 575.1,149.1 C574.2,148.2 574.0,145.3 575.1,143.7Z" fill="#e6c67c"/>
<path d="M588.4,137.0 C589.8,134.8 593.8,135.7 596.5,134.4 C599.1,133.0 604.5,129.0 604.5,129.0 C604.5,129.0 604.5,139.7 604.5,139.7 C604.5,139.7 598.5,140.8 596.5,142.4 C594.4,143.9 593.8,148.2 592.4,149.1 C591.1,150.0 589.1,149.7 588.4,147.7 C587.8,145.7 587.1,139.3 588.4,137.0Z" fill="#e6c67c"/>
<path d="M585.8,119.7 C585.8,119.7 604.5,119.7 604.5,119.7 C604.5,119.7 604.5,129.0 604.5,129.0 C604.5,129.0 599.1,133.2 596.5,134.4 C593.8,135.5 590.2,136.6 588.4,135.7 C586.7,134.8 586.2,131.7 585.8,129.0 C585.3,126.3 585.8,119.7 585.8,119.7Z" fill="#82cebc"/>
<path d="M589.8,123.7 C592.0,122.6 604.5,123.7 604.5,123.7 C604.5,123.7 604.5,130.4 604.5,130.4 C604.5,130.4 593.6,131.5 591.1,130.4 C588.7,129.2 587.5,124.8 589.8,123.7Z" fill="#4aa898"/>
<path d="M580.4,120.3 C580.9,118.0 582.6,118.0 583.1,120.3 C583.5,122.7 583.5,132.0 583.1,134.4 C582.6,136.7 580.9,136.7 580.4,134.4 C580.0,132.0 580.0,122.7 580.4,120.3Z" fill="#e6c67c"/>
<path d="M583.1,143.7 C583.8,143.3 586.4,143.3 587.1,143.7 C587.8,144.2 587.8,145.9 587.1,146.4 C586.4,146.8 583.8,146.8 583.1,146.4 C582.4,145.9 582.4,144.2 583.1,143.7Z" fill="#c2eadf"/>
<path d="M564.4,165.1 C565.3,164.4 568.8,164.4 569.7,165.1 C570.6,165.8 570.6,168.4 569.7,169.1 C568.8,169.8 565.3,169.8 564.4,169.1 C563.5,168.4 563.5,165.8 564.4,165.1Z" fill="#c2eadf"/>
<path d="M575.1,163.5 C576.4,163.2 581.8,163.2 583.1,163.5 C584.4,163.8 584.4,165.1 583.1,165.4 C581.8,165.7 576.4,165.7 575.1,165.4 C573.7,165.1 573.7,163.8 575.1,163.5Z" fill="#f2e2b8"/>
<path d="M567.7,156.0 C568.5,155.7 571.4,155.7 572.1,156.0 C572.9,156.4 572.9,157.8 572.1,158.2 C571.4,158.5 568.5,158.5 567.7,158.2 C567.0,157.8 567.0,156.4 567.7,156.0Z" fill="#c2eadf"/>
<path d="M571.6,137.9 C571.6,137.9 578.8,137.2 581.3,136.5 C583.8,135.8 585.0,134.0 586.8,133.8 C588.7,133.5 591.0,133.8 592.3,135.1 C593.7,136.5 595.1,139.5 595.1,142.0 C595.1,144.6 593.7,149.4 592.3,150.3 C591.0,151.3 588.7,147.8 586.8,147.6 C585.0,147.3 583.8,149.0 581.3,149.0 C578.8,149.0 571.6,147.6 571.6,147.6 C571.6,147.6 571.6,137.9 571.6,137.9Z" fill="#e6c67c"/>
<path d="M584.0,136.5 C585.2,135.0 591.0,135.4 592.3,137.2 C593.7,139.1 593.5,146.1 592.3,147.6 C591.2,149.1 586.8,148.0 585.4,146.2 C584.0,144.4 582.9,138.0 584.0,136.5Z" fill="#cd9140"/>
<path d="M597.9,130.3 C599.0,129.3 603.6,129.3 604.8,130.3 C605.9,131.3 605.9,135.5 604.8,136.5 C603.6,137.6 599.0,137.6 597.9,136.5 C596.7,135.5 596.7,131.3 597.9,130.3Z" fill="#e6c67c"/>
<path d="M607.5,136.5 C608.7,135.6 613.3,135.6 614.4,136.5 C615.6,137.4 615.6,141.1 614.4,142.0 C613.3,143.0 608.7,143.0 607.5,142.0 C606.4,141.1 606.4,137.4 607.5,136.5Z" fill="#cd9140"/>
<path d="M602.0,146.2 C602.7,145.7 605.5,145.7 606.1,146.2 C606.8,146.7 606.8,148.5 606.1,149.0 C605.5,149.4 602.7,149.4 602.0,149.0 C601.3,148.5 601.3,146.7 602.0,146.2Z" fill="#c2eadf"/>
<path d="M625.5,130.3 C626.4,128.8 632.2,129.0 633.8,130.3 C635.4,131.6 636.1,136.4 635.2,137.9 C634.2,139.4 629.9,140.6 628.2,139.3 C626.6,138.0 624.6,131.8 625.5,130.3Z" fill="#c2eadf"/>
<path d="M491.0,85.1 L499.0,80.0 L513.1,75.4 L523.1,73.0 L535.1,75.4 L543.1,77.4 L553.2,75.4 L559.2,71.4 L565.2,75.0 L565.6,81.0 L559.2,85.1 L553.2,89.1 L552.2,97.1 L551.1,109.1 L547.1,117.1 L541.1,120.1 L537.1,121.5 L531.1,119.5 L525.1,117.5 L519.1,114.5 L513.1,115.5 L507.1,111.5 L506.7,101.1 L506.1,91.1 L499.0,89.1 L492.0,89.1Z" fill="#ffffff"/>
<path d="M491.0,83.0 C492.9,81.9 500.7,81.0 503.0,82.0 C505.4,83.0 506.9,87.9 505.0,89.1 C503.2,90.2 494.4,90.1 492.0,89.1 C489.7,88.1 489.2,84.2 491.0,83.0Z" fill="#c2eadf"/>
<path d="M494.6,84.7 C495.3,84.0 498.2,84.0 499.0,84.7 C499.8,85.3 500.1,88.0 499.4,88.7 C498.8,89.3 495.8,89.3 495.0,88.7 C494.2,88.0 494.0,85.3 494.6,84.7Z" fill="#e6c67c"/>
<path d="M529.1,76.0 C530.8,73.9 539.0,74.0 541.1,76.0 C543.3,78.0 543.8,85.9 542.1,88.1 C540.5,90.2 533.3,91.1 531.1,89.1 C528.9,87.1 527.4,78.2 529.1,76.0Z" fill="#e6c67c"/>
<path d="M540.7,82.6 C541.8,81.1 546.3,80.7 547.5,82.0 C548.8,83.4 549.4,89.2 548.3,90.7 C547.3,92.2 542.4,92.4 541.1,91.1 C539.9,89.7 539.7,84.2 540.7,82.6Z" fill="#c2eadf"/>
<path d="M549.1,73.0 C551.5,71.0 562.4,71.4 565.2,73.0 C567.9,74.7 567.9,81.0 565.6,83.0 C563.2,85.1 553.9,86.7 551.1,85.1 C548.4,83.4 546.8,75.0 549.1,73.0Z" fill="#82cebc"/>
<path d="M507.1,87.1 C510.7,83.0 524.4,84.7 529.1,87.1 C533.8,89.4 534.8,96.4 535.1,101.1 C535.4,105.8 534.8,112.8 531.1,115.1 C527.4,117.5 517.1,115.8 513.1,115.1 C509.1,114.5 508.1,115.8 507.1,111.1 C506.1,106.4 503.4,91.1 507.1,87.1Z" fill="#c2eadf"/>
<path d="M507.1,89.1 C510.3,85.7 522.9,88.1 527.1,90.1 C531.3,92.1 531.8,97.2 532.1,101.1 C532.4,104.9 531.9,110.9 529.1,113.1 C526.3,115.3 518.7,114.6 515.1,114.1 C511.5,113.6 508.8,114.3 507.5,110.1 C506.1,105.9 503.8,92.4 507.1,89.1Z" fill="#82cebc"/>
<path d="M507.5,92.1 C510.0,89.4 519.6,91.2 523.1,93.1 C526.5,94.9 527.8,100.1 528.1,103.1 C528.4,106.1 527.3,109.6 525.1,111.1 C522.9,112.6 517.9,112.4 515.1,112.1 C512.2,111.8 509.3,112.4 508.1,109.1 C506.8,105.8 504.9,94.7 507.5,92.1Z" fill="#4aa898"/>
<path d="M529.1,93.1 C530.8,91.7 539.0,91.7 541.1,93.1 C543.3,94.4 543.8,99.8 542.1,101.1 C540.5,102.4 533.3,102.4 531.1,101.1 C528.9,99.8 527.4,94.4 529.1,93.1Z" fill="#e6c67c"/>
<path d="M533.1,94.1 C533.9,93.4 537.3,93.4 538.1,94.1 C539.0,94.7 539.0,97.4 538.1,98.1 C537.3,98.7 533.9,98.7 533.1,98.1 C532.3,97.4 532.3,94.7 533.1,94.1Z" fill="#cd9140"/>
<path d="M527.1,110.7 C528.4,109.6 534.1,109.6 535.5,110.7 C536.9,111.8 536.9,116.4 535.5,117.5 C534.2,118.7 528.9,118.7 527.5,117.5 C526.1,116.4 525.8,111.8 527.1,110.7Z" fill="#e6c67c"/>
<path d="M539.1,106.7 C540.1,105.6 544.5,105.6 545.5,106.7 C546.5,107.8 546.1,112.4 545.1,113.5 C544.1,114.7 540.5,114.7 539.5,113.5 C538.5,112.4 538.1,107.8 539.1,106.7Z" fill="#cd9140"/>
<path d="M537.1,98.1 C539.2,96.9 544.7,95.8 547.1,96.7 C549.5,97.5 551.5,101.0 551.6,103.1 C551.6,105.2 549.6,108.4 547.5,109.5 C545.5,110.6 541.3,110.5 539.1,109.5 C537.0,108.5 535.0,105.4 534.7,103.5 C534.4,101.6 535.0,99.2 537.1,98.1Z" fill="#9b9b9b"/>
<path d="M553.2,107.1 L569.2,106.7 L569.6,115.1 L563.2,121.1 L553.2,121.5Z" fill="#ffffff"/>
<path d="M553.2,116.7 C554.3,115.9 559.0,115.9 560.2,116.7 C561.3,117.5 561.3,120.7 560.2,121.5 C559.0,122.3 554.3,122.3 553.2,121.5 C552.0,120.7 552.0,117.5 553.2,116.7Z" fill="#82cebc"/>
<path d="M483.0,99.1 L485.4,99.1 L485.4,102.1 L483.0,102.1Z" fill="#cd9140"/>
<path d="M548.3,188.1 C550.7,187.5 558.1,186.6 562.7,186.5 C567.3,186.5 571.5,187.7 575.9,187.8 C580.2,188.0 584.6,187.6 589.0,187.2 C593.4,186.7 598.4,186.4 602.1,185.2 C605.9,184.0 611.3,180.0 611.3,180.0 C611.3,180.0 616.6,174.7 616.6,174.7 C616.6,174.7 624.5,172.1 624.5,172.1 C624.5,172.1 629.7,172.3 629.7,172.3 C629.7,172.3 621.8,180.5 621.8,180.5 C621.8,180.5 608.7,188.4 608.7,188.4 C608.7,188.4 599.9,190.3 595.6,191.0 C591.2,191.7 587.9,192.3 582.4,192.3 C576.9,192.3 568.4,191.4 562.7,191.0 C557.0,190.6 550.7,190.6 548.3,190.1 C545.8,189.6 545.8,188.7 548.3,188.1Z" fill="#c2eadf"/>
<path d="M611.3,176.3 C611.3,176.3 616.6,173.7 616.6,173.7 C616.6,173.7 624.5,171.7 624.5,171.7 C624.5,171.7 628.4,172.6 628.4,172.6 C628.4,172.6 621.8,179.6 621.8,179.6 C621.8,179.6 614.0,181.5 614.0,181.5 C614.0,181.5 611.3,176.3 611.3,176.3Z" fill="#82cebc"/>
<path d="M581.1,184.4 C582.6,183.3 588.7,183.3 590.3,184.4 C591.9,185.5 592.1,189.9 590.6,191.0 C589.1,192.1 582.9,192.4 581.4,191.3 C579.8,190.2 579.6,185.6 581.1,184.4Z" fill="#82cebc"/>
<path d="M582.4,185.7 C583.6,185.0 588.1,185.0 589.3,185.7 C590.4,186.5 590.4,189.7 589.3,190.5 C588.1,191.3 583.6,191.3 582.4,190.5 C581.3,189.7 581.3,186.5 582.4,185.7Z" fill="#4aa898"/>
<path d="M571.9,180.9 C573.2,179.6 578.9,179.1 580.5,180.2 C582.0,181.3 582.7,186.1 581.4,187.5 C580.1,188.8 574.1,189.2 572.6,188.1 C571.0,187.0 570.6,182.2 571.9,180.9Z" fill="#e6c67c"/>
<path d="M598.2,168.4 C599.9,165.7 608.7,168.4 608.7,168.4 C608.7,168.4 609.4,184.4 609.4,184.4 C609.4,184.4 600.1,187.1 598.2,184.4 C596.3,181.8 596.4,171.1 598.2,168.4Z" fill="url(#dots)"/>
<path d="M582.4,184.4 C583.6,183.5 588.1,183.5 589.3,184.4 C590.4,185.4 590.4,189.1 589.3,190.1 C588.1,191.0 583.6,191.0 582.4,190.1 C581.3,189.1 581.3,185.4 582.4,184.4Z" fill="url(#dots)"/>
<path d="M592.8,88.9 C594.5,86.7 600.7,80.3 603.7,80.5 C606.7,80.7 609.8,87.3 611.0,90.3 C612.2,93.3 613.4,97.1 611.0,98.7 C608.6,100.2 599.3,100.5 596.4,99.6 C593.5,98.7 594.1,95.1 593.5,93.3 C592.9,91.6 591.1,91.0 592.8,88.9Z" fill="#e6c67c"/>
<path d="M597.5,88.3 C598.8,86.8 604.7,86.9 606.4,88.3 C608.0,89.7 608.8,95.2 607.4,96.7 C606.1,98.2 600.0,98.6 598.4,97.2 C596.7,95.8 596.1,89.7 597.5,88.3Z" fill="#cd9140"/>
<path d="M601.6,68.9 C602.9,68.0 607.1,67.4 609.6,68.0 C612.1,68.6 615.1,70.1 616.7,72.5 C618.3,74.8 618.9,78.4 619.4,82.3 C619.8,86.1 620.0,93.4 619.4,95.6 C618.8,97.8 617.0,97.1 615.8,95.6 C614.6,94.1 613.9,89.7 612.3,86.7 C610.6,83.7 607.8,80.0 606.0,77.8 C604.2,75.6 602.3,74.8 601.6,73.4 C600.8,71.9 600.2,69.8 601.6,68.9Z" fill="url(#dots)"/>
<path d="M632.7,79.6 C632.7,79.6 639.9,78.7 639.9,78.7 C639.9,78.7 645.2,81.4 645.2,81.4 C645.2,81.4 645.2,90.3 645.2,90.3 C645.2,90.3 638.1,92.1 638.1,92.1 C638.1,92.1 632.7,88.5 632.7,88.5 C632.7,88.5 632.7,79.6 632.7,79.6Z" fill="url(#dots)"/>
<path d="M598.0,88.5 C599.5,87.3 605.4,87.3 606.9,88.5 C608.4,89.7 608.4,94.4 606.9,95.6 C605.4,96.8 599.5,96.8 598.0,95.6 C596.5,94.4 596.5,89.7 598.0,88.5Z" fill="url(#hatch)"/>
<path d="M555.7,107.1 C558.3,105.8 567.9,105.3 570.4,106.0 C573.0,106.7 572.0,109.1 571.1,111.1 C570.2,113.1 567.2,116.4 565.1,117.8 C563.0,119.1 560.1,119.8 558.4,119.1 C556.7,118.4 555.5,115.8 555.0,113.8 C554.6,111.8 553.2,108.4 555.7,107.1Z" fill="url(#hatch)"/>
<path d="M508.1,93.1 C510.5,90.6 519.7,92.4 523.1,94.1 C526.4,95.7 527.8,100.3 528.1,103.1 C528.4,105.9 527.3,109.6 525.1,111.1 C522.9,112.6 517.8,112.4 515.1,112.1 C512.3,111.8 509.8,112.3 508.7,109.1 C507.5,105.9 505.6,95.6 508.1,93.1Z" fill="url(#dots)"/>
<path d="M563.0,64.3 L564.1,63.1 L565.3,61.8 L566.6,60.9 L568.3,60.1 L570.4,59.5 L572.3,59.4 L574.5,59.4 L576.7,60.3 L578.4,61.0 M491.6,79.3 L496.0,78.9 L500.9,76.5 L504.8,75.4 L508.3,74.5 L511.5,73.1 L507.3,73.0 L503.9,73.6 L499.7,74.1 L497.1,74.7 L500.4,72.4 L504.0,71.5 L506.4,71.5 L509.8,71.0 L513.7,71.1 L516.3,70.7 L518.0,69.0 L521.1,69.1 L523.3,69.3 L526.8,69.8 L528.4,71.0 L532.6,74.2 L535.2,75.3 L538.1,74.6 L540.2,75.8 L543.6,76.3 L545.8,76.4 L549.0,76.5 L551.7,76.3 L554.1,75.2 L555.6,74.8 L557.5,72.4 L558.0,70.2 L559.0,67.8 L561.5,65.0 L563.0,64.3 L560.8,67.1 L559.9,69.9 L562.6,69.3 L564.4,70.2 L565.9,71.6 L565.6,73.4 L566.2,75.0 L567.9,75.7 L566.4,77.2 L567.6,78.6 L567.0,80.0 L566.2,82.0 L565.4,83.2 L563.5,83.1 L561.5,84.0 L559.6,84.6 L558.3,85.5 L557.1,86.0 L556.7,87.2 L556.4,88.4 L555.2,89.2 L552.7,91.6 L550.9,93.5 L550.3,95.9 L549.3,98.3 L550.3,99.5 L548.0,100.1 L545.7,101.5 L544.6,101.4 L541.8,99.5 L539.6,98.9 L537.2,100.1 L535.4,103.0 L535.0,105.1 L531.9,108.7 L534.9,108.8 L539.2,109.6 L541.9,108.4 L544.1,107.9 L544.5,110.3 L543.2,113.0 L541.2,114.1 L543.2,115.8 L542.3,117.9 L540.7,119.8 L539.7,122.8 L538.6,125.4 L535.5,124.5 L534.3,122.5 L532.6,119.5 L530.9,118.5 L529.3,117.9 L532.2,120.9 L531.0,121.9 L529.0,123.4 L529.6,126.0 L527.5,124.6 L526.0,122.8 L526.8,121.5 L524.4,119.5 L522.6,119.4 L521.9,120.5 L521.2,119.2 L519.6,117.3 L517.9,117.3 L516.4,117.0 L514.2,116.5 L512.0,117.6 L510.7,116.2 L507.8,113.9 L505.0,112.0 L502.3,113.1 L499.6,114.7 L496.9,114.6 L497.8,112.7 L500.5,111.0 L502.9,109.6 L503.0,107.2 L503.4,104.1 L501.7,102.6 L502.5,99.8 L502.4,97.4 L501.1,93.7 L497.6,92.1 L494.7,91.1 L490.8,91.1 L486.6,92.6 L485.6,94.8 L485.6,98.6 L487.4,100.9 L489.8,101.7 L490.2,105.8 L487.8,105.4 L485.4,104.8 M535.7,130.4 L537.1,128.5 L538.3,125.8 L535.2,125.7 L532.6,125.9 L533.7,129.0 L535.7,130.4 M545.5,114.4 L545.7,112.9 L545.0,111.2 L545.4,109.5 L546.2,108.2 L546.9,107.6 L549.0,108.9 L550.4,107.9 L551.9,104.9 L551.9,102.8 L554.6,102.2 L556.0,103.2 L556.1,104.6 L555.4,106.0 L554.6,108.2 L553.5,110.0 L552.2,111.1 L551.0,113.7 L549.0,113.6 L547.4,114.1 L545.5,114.4 M559.0,104.4 L561.5,104.9 L563.4,105.4 L565.2,105.7 L566.3,105.5 L566.4,104.3 L565.5,103.1 L563.8,101.7 L562.7,100.8 L561.1,101.1 L559.5,102.2 L559.0,103.2 L559.0,104.4 M557.0,104.6 L559.1,104.1 L559.5,102.7 L558.9,101.6 L557.9,100.9 L556.9,101.3 L556.8,103.2 L557.0,104.6 M551.2,97.2 L552.6,96.1 L553.8,95.7 L555.7,95.3 L556.7,94.8 L556.8,92.9 L555.4,91.9 L554.8,92.0 L553.0,92.6 L551.6,93.8 L551.6,95.6 L551.2,97.2 M557.1,90.3 L558.8,91.7 L559.0,93.1 L558.2,94.1 L556.7,93.0 L556.2,91.4 L557.1,90.3 M554.2,99.3 L555.9,99.1 L556.3,98.2 L555.0,97.6 L553.2,98.1 L554.2,99.3 M557.4,97.3 L559.2,97.4 L559.6,95.8 L559.1,94.4 L557.9,95.1 L557.4,97.3 M554.1,100.5 L556.0,101.5 L556.3,100.2 L554.7,99.7 L554.1,100.5 M545.0,103.7 L546.1,102.9 L547.5,103.5 L547.0,104.5 L546.0,105.8 L544.8,104.7 L545.0,103.7 M550.5,125.5 L549.7,123.0 L550.5,120.9 L551.4,119.0 L552.5,117.2 L554.9,115.7 L556.2,115.6 L556.4,114.1 L557.4,112.7 L558.9,110.9 L560.1,109.2 L560.0,107.1 L560.7,106.0 L561.7,105.4 L563.0,106.0 L564.3,106.2 L565.5,106.1 L566.9,106.8 L568.9,107.0 L569.8,107.9 L570.4,109.7 L570.9,111.0 L569.8,112.4 L569.2,113.9 L568.7,115.4 L568.0,116.9 L566.6,118.6 L565.6,120.6 L565.0,121.6 L562.5,122.2 L559.8,122.6 L557.3,122.7 L555.4,122.7 L553.4,123.9 L551.8,124.8 L550.5,125.5 M564.5,129.1 L562.4,128.0 L562.3,126.7 L562.4,125.9 L563.4,125.2 L566.4,126.2 L567.2,127.5 L566.5,128.5 L564.5,129.1 M577.6,115.4 L576.6,114.7 L575.9,113.8 L575.5,112.4 L576.7,111.9 L577.8,111.1 L578.7,112.2 L578.5,114.1 L577.6,115.4 M591.0,112.9 L588.8,113.5 L587.5,111.6 L586.6,109.9 L586.2,108.5 L586.4,106.8 L587.1,107.8 L588.0,109.8 L588.6,111.8 L589.8,113.0 L591.0,112.9 M586.1,99.5 L584.5,100.2 L583.0,100.7 L582.7,100.1 L583.7,98.9 L585.6,98.7 L586.1,99.5 M581.2,109.0 L580.2,108.5 L580.7,106.8 L581.5,105.8 L582.6,106.6 L582.2,107.8 L581.2,109.0 M584.5,89.6 L583.4,90.5 L581.7,89.4 L581.5,87.8 L583.5,88.8 L584.5,89.6 M573.2,81.1 L572.7,81.8 L572.3,81.5 L573.9,81.1 L573.6,81.6 L573.2,81.1 M577.7,136.5 L576.8,136.0 L576.2,133.8 L576.5,131.5 L578.1,129.5 L578.9,127.7 L579.5,125.3 L579.6,123.5 L580.6,122.0 L582.2,120.2 L583.9,119.9 L585.1,120.5 L586.7,120.0 L588.7,119.9 L590.1,120.9 L589.4,122.2 L587.6,122.8 L589.1,124.5 L590.4,123.5 L590.5,122.0 L591.1,120.0 L589.9,118.8 L591.5,118.0 L592.2,115.3 L593.1,114.0 L593.0,113.0 L595.1,111.4 L594.3,110.6 L592.7,109.9 L591.0,108.4 L590.6,108.0 L592.4,107.7 L597.1,109.2 L594.7,107.6 L592.2,106.6 L593.5,105.6 L592.0,104.8 L590.9,104.8 L590.5,102.9 L589.5,102.5 L588.4,100.4 L586.2,98.4 L586.9,96.5 L589.2,95.0 L589.1,93.4 L588.7,91.7 L588.8,89.9 L587.3,90.7 L588.4,88.6 L587.1,86.5 L585.2,87.1 L583.1,84.9 L582.3,82.7 L580.5,82.3 L578.4,80.2 L577.1,80.5 L573.4,79.0 L572.6,78.5 L570.8,77.0 L568.8,76.2 L569.9,75.4 L569.8,74.3 L571.5,74.7 L572.7,74.0 L573.9,71.8 L574.5,71.2 L577.0,70.3 L579.1,69.4 L581.4,69.7 L583.7,68.2 L584.3,65.9 L586.3,64.1 L588.8,62.5 L590.5,61.9 L590.0,64.3 L588.9,67.7 L587.1,69.4 L584.8,70.4 L582.2,71.9 L581.6,72.9 L584.0,72.5 L587.8,71.6 L589.8,72.0 L590.8,73.3 L593.6,74.9 L597.6,74.8 L600.1,73.1 L598.8,70.4 L600.9,68.3 L603.6,65.7 L607.5,65.1 L612.3,65.4 L614.3,66.7 L617.7,65.8 L619.8,64.2 L622.0,61.6 L624.1,62.8 L624.7,64.0 L621.9,65.8 L621.2,68.2 L622.6,71.6 L621.2,71.8 L625.7,74.5 L626.2,72.5 L624.8,68.9 L628.8,70.3 L631.2,66.3 L633.3,64.3 L638.3,64.2 L642.5,64.2 L647.8,67.8 L651.4,72.5 L653.1,72.7 L652.6,76.0 L655.5,77.4 L658.8,77.2 L659.9,75.2 L662.1,71.1 M663.1,113.5 L659.6,108.5 L656.6,106.1 L655.1,103.8 L656.2,101.7 L654.6,99.6 L657.4,98.5 L661.2,95.6 L664.4,94.5 L664.8,89.7 L666.3,88.6 M661.8,127.9 L657.5,127.7 L655.2,127.0 L651.3,126.3 L650.4,131.3 L648.0,131.1 L644.9,132.8 L641.8,138.1 L638.5,143.2 L636.9,142.9 L635.5,143.6 L635.0,145.6 L631.9,147.4 L629.0,147.5 L626.3,148.5 L626.9,149.9 L630.8,149.9 L633.8,149.7 L636.0,150.6 L637.4,147.4 L637.6,144.5 L639.6,145.5 L644.0,142.8 L645.9,147.3 L646.8,150.3 L647.1,154.3 L645.3,162.0 M640.7,172.6 L637.2,170.6 L633.4,168.3 L629.0,166.8 L625.3,165.8 L622.3,164.3 L618.9,163.1 L615.6,161.9 L614.3,160.1 L615.0,162.3 L611.7,161.9 L610.6,160.1 L612.2,158.1 L611.6,156.0 L610.7,153.3 L609.6,151.6 L608.2,152.3 L606.7,154.0 L604.7,154.8 L602.2,155.8 L600.0,155.1 L598.6,152.9 L600.4,150.4 L600.3,150.2 L602.1,149.5 L603.8,147.6 L604.6,146.3 L606.7,145.9 L608.5,145.0 L609.9,143.0 L608.3,141.8 L605.0,142.1 L603.4,142.2 L602.5,143.2 L601.8,144.6 L600.3,143.9 L598.5,143.5 L598.5,144.3 L598.4,145.5 L598.5,147.9 L599.0,149.8 L600.3,150.2 M600.4,150.4 L598.6,152.2 L595.9,153.4 L596.2,155.4 L597.7,156.2 L597.0,158.7 L594.8,157.4 L592.9,155.3 L591.6,153.0 L588.3,152.1 L585.1,150.4 L584.0,150.3 L584.6,152.4 L587.0,154.4 L590.4,155.5 L591.5,155.8 L590.5,157.5 L589.5,159.1 L589.1,157.2 L586.4,155.9 L583.7,154.5 L582.0,152.9 L580.2,153.5 L578.5,154.4 L576.6,154.1 L576.4,156.1 L573.9,158.1 L572.9,160.7 L571.3,162.9 L567.4,163.7 L566.5,162.3 L564.1,162.0 L563.9,159.3 L565.0,156.8 L564.8,154.2 L566.1,153.7 L569.7,154.2 L572.0,154.2 L572.4,151.7 L571.6,149.8 L569.6,147.9 L572.2,147.8 L572.0,146.6 L573.8,146.8 L574.6,145.6 L575.3,145.0 L576.0,144.3 L576.8,142.5 L578.3,141.7 L579.4,141.0 L578.8,139.3 L578.8,137.5 L579.9,136.5 L580.2,137.9 L579.9,139.1 L580.5,140.2 L581.7,140.6 L582.9,139.7 L585.8,138.8 L587.2,137.7 L586.6,135.5 L588.1,134.2 L586.9,132.8 L589.1,131.1 L588.0,130.4 L586.2,131.9 L584.8,130.6 L584.4,128.3 L584.9,126.3 L584.1,125.7 L583.5,127.4 L583.0,129.5 L582.6,130.8 L583.0,132.4 L584.1,133.3 L583.4,135.3 L583.7,137.6 L582.6,138.5 L581.6,137.6 L580.4,136.1 L579.6,135.0 L577.7,136.5 M545.6,191.3 L548.4,183.6 L549.1,181.3 L551.8,178.1 L555.1,175.1 L558.1,173.6 L561.4,171.3 L562.6,167.9 L565.7,166.3 L567.0,164.0 L571.2,165.1 L574.5,163.3 L579.8,162.3 L583.7,161.5 L585.1,161.8 L585.4,163.5 L584.7,165.7 L586.6,166.8 L591.3,166.4 L596.2,167.8 L596.9,164.5 L599.4,163.0 L602.6,162.9 L607.3,161.7 L609.7,159.8 L610.6,160.1 L611.5,161.5 L613.4,163.3 L616.4,164.9 L619.5,166.4 L622.8,167.8 L625.3,169.8 L629.2,171.9 L632.6,173.5 L640.7,173.1 M569.1,146.0 L572.6,145.2 L574.4,144.6 L574.6,143.2 L573.5,142.0 L572.4,140.2 L571.8,139.1 L572.3,137.3 L571.6,136.0 L570.4,136.1 L569.8,137.2 L569.8,138.9 L570.0,140.1 L571.0,140.8 L571.3,142.0 L570.2,142.5 L569.9,143.7 L571.2,144.2 L570.2,144.7 L569.1,146.0 M566.1,143.8 L568.7,143.3 L569.2,141.2 L569.3,139.8 L568.4,139.6 L567.6,140.4 L566.4,141.4 L565.8,143.1 L566.1,143.8 M622.5,59.0 L619.5,58.7 L615.2,57.3 L613.4,56.5 L610.5,57.5 L608.7,58.9 L608.3,57.5 L610.1,55.5 L612.4,54.0 L614.3,52.9 L616.5,53.9 L619.5,54.8 L622.5,59.0 M608.8,59.5 L606.4,60.5 L604.4,62.3 L603.2,59.2 L603.2,58.1 L605.9,58.0 L608.8,59.5 M626.0,56.8 L624.0,59.7 L622.6,58.9 L624.2,56.8 L626.0,56.8 M603.8,62.8 L601.6,65.7 L599.5,68.7 L597.3,70.4 L597.9,68.9 L599.9,65.9 L602.4,63.2 L603.8,62.8 M644.3,59.5 L639.5,61.2 L641.0,60.1 L644.3,59.5 M611.1,131.7 L610.2,133.7 L610.5,136.2 L612.6,137.6 L615.5,138.3 L617.1,139.3 L618.4,140.9 L620.1,140.9 L622.7,137.6 L619.8,136.0 L617.8,135.4 L616.6,134.8 L614.9,134.9 L612.9,134.5 L613.6,132.0 L611.9,130.7 L611.1,131.7 M491.1,109.0 L493.4,112.9 L494.0,115.7 L492.9,119.6 L491.3,124.9 L489.6,120.0 L491.7,116.8 L491.1,109.0 M586.3,159.7 L589.3,158.8 L589.4,160.5 L588.8,161.1 L586.5,160.6 L586.3,159.7 M582.3,156.5 L583.1,159.2 L581.9,159.4 L581.4,157.0 L582.3,156.5 M598.6,159.4 L601.4,158.4 L599.8,159.6 L598.6,159.4 M653.6,71.7 L654.8,70.4 L656.9,72.1 L655.3,74.0 L653.6,71.7" fill="none" stroke="#222" stroke-width="0.45" stroke-linejoin="round"/>
<path d="M596.3,99.9 L592.2,88.5 L604.0,80.3 L610.7,98.8Z" fill="none" stroke="#000" stroke-width="0.9"/>
</g>
<circle cx="573.40" cy="101.70" r="90.50" fill="none" stroke="#333" stroke-width="0.6"/>
<text x="573.40" y="10.35" font-size="4.90" text-anchor="middle" font-weight="normal" fill="#000" stroke="#000" stroke-width="0.14" >180</text>
<text x="520.50" y="22.75" font-size="4.90" text-anchor="middle" font-weight="normal" fill="#000" stroke="#000" stroke-width="0.14" >150W</text>
<text x="486.50" y="56.75" font-size="4.90" text-anchor="middle" font-weight="normal" fill="#000" stroke="#000" stroke-width="0.14" >120W</text>
<text x="475.50" y="103.85" font-size="4.90" text-anchor="middle" font-weight="normal" fill="#000" stroke="#000" stroke-width="0.14" >90W</text>
<text x="487.60" y="150.25" font-size="4.90" text-anchor="middle" font-weight="normal" fill="#000" stroke="#000" stroke-width="0.14" >60W</text>
<text x="521.70" y="184.25" font-size="4.90" text-anchor="middle" font-weight="normal" fill="#000" stroke="#000" stroke-width="0.14" >30W</text>
<text x="573.60" y="196.75" font-size="4.90" text-anchor="middle" font-weight="normal" fill="#000" stroke="#000" stroke-width="0.14" >0</text>
<text x="624.70" y="184.25" font-size="4.90" text-anchor="middle" font-weight="normal" fill="#000" stroke="#000" stroke-width="0.14" >30E</text>
<text x="658.40" y="150.25" font-size="4.90" text-anchor="middle" font-weight="normal" fill="#000" stroke="#000" stroke-width="0.14" >60E</text>
<text x="670.90" y="103.65" font-size="4.90" text-anchor="middle" font-weight="normal" fill="#000" stroke="#000" stroke-width="0.14" >90E</text>
<text x="659.70" y="56.75" font-size="4.90" text-anchor="middle" font-weight="normal" fill="#000" stroke="#000" stroke-width="0.14" >120E</text>
<text x="625.60" y="22.75" font-size="4.90" text-anchor="middle" font-weight="normal" fill="#000" stroke="#000" stroke-width="0.14" >150E</text>
<text x="476.70" y="11.20" font-size="12.50" text-anchor="middle" font-weight="bold" fill="#000" stroke="#000" stroke-width="0.00" >c</text>
<text x="664.50" y="10.80" font-size="8.37" text-anchor="end" font-weight="bold" fill="#000" stroke="#000" stroke-width="0.00"  textLength="17.12" lengthAdjust="spacingAndGlyphs">CRU</text>
<path d="M488.5,210.7 L501.8,208.9 L501.8,212.5 Z" fill="#7e5e1e"/>
<rect x="501.6" y="208.9" width="13.8" height="3.6" fill="#b86e22"/>
<rect x="515.6" y="208.9" width="14.4" height="3.6" fill="#cd9140"/>
<rect x="530.2" y="208.9" width="13.9" height="3.6" fill="#e6c67c"/>
<rect x="544.4" y="208.9" width="14.2" height="3.6" fill="#f2e2b8"/>
<rect x="587.8" y="208.9" width="13.8" height="3.6" fill="#c0ebe2"/>
<rect x="601.9" y="208.9" width="14.6" height="3.6" fill="#80d0c0"/>
<rect x="616.7" y="208.9" width="13.9" height="3.6" fill="#48a898"/>
<rect x="630.8" y="208.9" width="14.0" height="3.6" fill="#1a8070"/>
<path d="M644.9,208.9 L658.2,210.7 L644.9,212.5 Z" fill="#0c6a58"/>
<text x="501.60" y="218.60" font-size="6.90" text-anchor="middle" font-weight="normal" fill="#000" stroke="#000" stroke-width="0.14"  textLength="12.01" lengthAdjust="spacingAndGlyphs">-100</text>
<text x="515.60" y="218.60" font-size="6.90" text-anchor="middle" font-weight="normal" fill="#000" stroke="#000" stroke-width="0.14"  textLength="8.67" lengthAdjust="spacingAndGlyphs">-50</text>
<text x="530.20" y="218.60" font-size="6.90" text-anchor="middle" font-weight="normal" fill="#000" stroke="#000" stroke-width="0.14"  textLength="8.67" lengthAdjust="spacingAndGlyphs">-25</text>
<text x="544.40" y="218.60" font-size="6.90" text-anchor="middle" font-weight="normal" fill="#000" stroke="#000" stroke-width="0.14"  textLength="8.67" lengthAdjust="spacingAndGlyphs">-10</text>
<text x="558.90" y="218.60" font-size="6.90" text-anchor="middle" font-weight="normal" fill="#000" stroke="#000" stroke-width="0.14"  textLength="5.34" lengthAdjust="spacingAndGlyphs">-5</text>
<text x="573.30" y="218.60" font-size="6.90" text-anchor="middle" font-weight="normal" fill="#000" stroke="#000" stroke-width="0.14"  textLength="3.34" lengthAdjust="spacingAndGlyphs">0</text>
<text x="587.80" y="218.60" font-size="6.90" text-anchor="middle" font-weight="normal" fill="#000" stroke="#000" stroke-width="0.14"  textLength="3.34" lengthAdjust="spacingAndGlyphs">5</text>
<text x="601.90" y="218.60" font-size="6.90" text-anchor="middle" font-weight="normal" fill="#000" stroke="#000" stroke-width="0.14"  textLength="6.67" lengthAdjust="spacingAndGlyphs">10</text>
<text x="616.70" y="218.60" font-size="6.90" text-anchor="middle" font-weight="normal" fill="#000" stroke="#000" stroke-width="0.14"  textLength="6.67" lengthAdjust="spacingAndGlyphs">25</text>
<text x="630.80" y="218.60" font-size="6.90" text-anchor="middle" font-weight="normal" fill="#000" stroke="#000" stroke-width="0.14"  textLength="6.67" lengthAdjust="spacingAndGlyphs">50</text>
<text x="645.10" y="218.60" font-size="6.90" text-anchor="middle" font-weight="normal" fill="#000" stroke="#000" stroke-width="0.14"  textLength="10.01" lengthAdjust="spacingAndGlyphs">100</text>
<text x="572.90" y="206.80" font-size="6.84" text-anchor="middle" font-weight="normal" fill="#000" stroke="#000" stroke-width="0.14"  textLength="94.92" lengthAdjust="spacingAndGlyphs">Precipitation trend (mm per decade)</text>
<clipPath id="cd"><circle cx="343.30" cy="327.30" r="90.00"/></clipPath>
<g clip-path="url(#cd)">
<circle cx="343.30" cy="327.30" r="90.00" fill="#ffffff"/>
<path d="M307.1,257.0 C308.8,255.5 313.5,254.4 317.1,253.0 C320.8,251.7 324.5,250.4 329.2,249.0 C333.8,247.7 345.2,245.0 345.2,245.0 C345.2,245.0 345.2,267.1 345.2,267.1 C345.2,267.1 334.5,265.4 329.2,265.1 C323.8,264.7 316.8,265.6 313.1,265.1 C309.5,264.6 308.1,263.4 307.1,262.1 C306.1,260.7 305.4,258.5 307.1,257.0Z" fill="#fff0c2"/>
<path d="M329.2,253.0 C331.7,251.4 345.2,249.0 345.2,249.0 C345.2,249.0 345.2,265.1 345.2,265.1 C345.2,265.1 335.7,264.1 333.2,263.1 C330.7,262.1 330.8,260.7 330.2,259.0 C329.5,257.4 326.7,254.7 329.2,253.0Z" fill="#fbbc50"/>
<path d="M307.1,277.1 C308.1,274.7 310.1,272.4 313.1,271.1 C316.1,269.7 321.1,269.2 325.2,269.1 C329.2,268.9 333.8,269.7 337.2,270.1 C340.5,270.4 345.2,271.1 345.2,271.1 C345.2,271.1 345.2,299.1 345.2,299.1 C345.2,299.1 333.5,297.5 329.2,297.1 C324.8,296.8 322.2,297.8 319.1,297.1 C316.1,296.5 313.1,295.1 311.1,293.1 C309.1,291.1 307.8,287.8 307.1,285.1 C306.5,282.4 306.1,279.4 307.1,277.1Z" fill="#e2f2fb"/>
<path d="M311.1,279.1 C312.0,276.8 314.1,274.2 317.1,273.1 C320.1,271.9 324.5,272.1 329.2,272.1 C333.8,272.1 345.2,273.1 345.2,273.1 C345.2,273.1 345.2,295.1 345.2,295.1 C345.2,295.1 333.8,295.5 329.2,295.1 C324.5,294.8 320.0,294.5 317.1,293.1 C314.3,291.8 313.1,289.4 312.1,287.1 C311.1,284.8 310.3,281.4 311.1,279.1Z" fill="#a8d9f3"/>
<path d="M315.1,281.1 C316.0,279.1 318.1,276.1 321.1,275.1 C324.2,274.1 329.2,274.9 333.2,275.1 C337.2,275.3 345.2,276.1 345.2,276.1 C345.2,276.1 345.2,293.1 345.2,293.1 C345.2,293.1 337.2,293.5 333.2,293.1 C329.2,292.8 324.0,292.1 321.1,291.1 C318.3,290.1 317.1,288.8 316.1,287.1 C315.1,285.4 314.3,283.1 315.1,281.1Z" fill="#62a5da"/>
<path d="M321.1,283.1 C321.8,281.3 324.5,279.1 327.2,278.1 C329.8,277.1 334.2,276.9 337.2,277.1 C340.2,277.3 345.2,279.1 345.2,279.1 C345.2,279.1 345.2,291.1 345.2,291.1 C345.2,291.1 336.9,292.5 333.2,292.1 C329.5,291.8 325.2,290.6 323.2,289.1 C321.1,287.6 320.5,284.9 321.1,283.1Z" fill="#2a5cb0"/>
<path d="M283.1,289.1 C284.4,286.3 289.7,284.8 293.1,284.1 C296.4,283.4 300.1,283.6 303.1,285.1 C306.1,286.6 308.8,291.1 311.1,293.1 C313.5,295.1 311.5,296.5 317.1,297.1 C322.8,297.8 345.2,297.1 345.2,297.1 C345.2,297.1 345.2,329.2 345.2,329.2 C345.2,329.2 313.1,329.2 313.1,329.2 C313.1,329.2 310.8,320.5 309.1,317.2 C307.5,313.8 305.8,311.2 303.1,309.2 C300.4,307.2 296.1,306.5 293.1,305.1 C290.1,303.8 286.7,303.8 285.1,301.1 C283.4,298.5 281.7,292.0 283.1,289.1Z" fill="#fff0c2"/>
<path d="M289.1,295.1 C290.1,293.8 294.8,292.8 297.1,293.1 C299.4,293.5 301.8,295.5 303.1,297.1 C304.4,298.8 306.1,301.8 305.1,303.1 C304.1,304.5 299.4,305.5 297.1,305.1 C294.8,304.8 292.4,302.8 291.1,301.1 C289.7,299.5 288.1,296.5 289.1,295.1Z" fill="#fbbc50"/>
<path d="M313.1,303.1 C315.8,301.8 323.8,301.8 329.2,301.1 C334.5,300.5 345.2,299.1 345.2,299.1 C345.2,299.1 345.2,329.2 345.2,329.2 C345.2,329.2 321.1,329.2 321.1,329.2 C321.1,329.2 316.5,320.5 315.1,317.2 C313.8,313.8 313.5,311.5 313.1,309.2 C312.8,306.8 310.5,304.5 313.1,303.1Z" fill="#fbbc50"/>
<path d="M321.1,311.2 C322.8,309.2 329.2,306.5 333.2,305.1 C337.2,303.8 345.2,303.1 345.2,303.1 C345.2,303.1 345.2,321.2 345.2,321.2 C345.2,321.2 332.8,321.9 329.2,321.2 C325.5,320.5 324.5,318.8 323.2,317.2 C321.8,315.5 319.5,313.2 321.1,311.2Z" fill="#f47d2c"/>
<path d="M265.0,303.1 C267.7,300.5 273.0,300.1 277.1,301.1 C281.1,302.1 285.7,306.5 289.1,309.2 C292.4,311.8 294.4,315.2 297.1,317.2 C299.8,319.2 302.8,319.2 305.1,321.2 C307.5,323.2 311.1,329.2 311.1,329.2 C311.1,329.2 265.0,329.2 265.0,329.2 C265.0,329.2 261.0,321.5 261.0,317.2 C261.0,312.8 262.4,305.8 265.0,303.1Z" fill="#e2f2fb"/>
<path d="M283.1,319.2 C284.7,317.2 289.7,316.8 293.1,317.2 C296.4,317.5 300.4,319.2 303.1,321.2 C305.8,323.2 309.1,329.2 309.1,329.2 C309.1,329.2 283.1,329.2 283.1,329.2 C283.1,329.2 281.4,321.2 283.1,319.2Z" fill="#a8d9f3"/>
<path d="M291.1,323.2 C292.4,322.0 297.4,321.2 299.1,322.2 C300.8,323.2 301.1,329.2 301.1,329.2 C301.1,329.2 291.1,329.2 291.1,329.2 C291.1,329.2 289.7,324.4 291.1,323.2Z" fill="#62a5da"/>
<path d="M341.0,245.0 C341.0,245.0 356.0,243.0 363.0,243.0 C370.1,243.0 377.7,243.3 383.1,245.0 C388.4,246.7 391.8,250.4 395.1,253.0 C398.5,255.7 400.5,258.0 403.1,261.1 C405.8,264.1 408.5,267.7 411.1,271.1 C413.8,274.4 416.5,277.4 419.2,281.1 C421.8,284.8 424.8,289.4 427.2,293.1 C429.5,296.8 432.2,299.1 433.2,303.1 C434.2,307.2 434.9,315.5 433.2,317.2 C431.5,318.8 425.8,315.5 423.2,313.2 C420.5,310.8 419.5,306.5 417.2,303.1 C414.8,299.8 411.5,296.5 409.1,293.1 C406.8,289.8 405.5,286.4 403.1,283.1 C400.8,279.8 398.5,275.4 395.1,273.1 C391.8,270.7 388.4,270.1 383.1,269.1 C377.7,268.1 370.1,267.4 363.0,267.1 C356.0,266.7 341.0,267.1 341.0,267.1 C341.0,267.1 341.0,245.0 341.0,245.0Z" fill="#fff0c2"/>
<path d="M341.0,249.0 C341.0,249.0 350.0,246.7 355.0,247.0 C360.0,247.4 367.1,249.0 371.1,251.0 C375.1,253.0 378.4,257.0 379.1,259.0 C379.7,261.1 377.7,262.1 375.1,263.1 C372.4,264.1 368.7,264.7 363.0,265.1 C357.4,265.4 341.0,265.1 341.0,265.1 C341.0,265.1 341.0,249.0 341.0,249.0Z" fill="#fbbc50"/>
<path d="M341.0,267.1 C341.0,267.1 356.0,267.7 363.0,269.1 C370.1,270.4 377.4,273.1 383.1,275.1 C388.8,277.1 393.8,278.1 397.1,281.1 C400.5,284.1 402.1,288.8 403.1,293.1 C404.1,297.5 404.1,304.1 403.1,307.2 C402.1,310.2 399.5,310.8 397.1,311.2 C394.8,311.5 392.1,310.5 389.1,309.2 C386.1,307.8 382.8,304.5 379.1,303.1 C375.4,301.8 371.1,302.1 367.1,301.1 C363.0,300.1 359.4,298.1 355.0,297.1 C350.7,296.1 341.0,295.1 341.0,295.1 C341.0,295.1 341.0,267.1 341.0,267.1Z" fill="#e2f2fb"/>
<path d="M341.0,270.1 C341.0,270.1 356.0,271.6 363.0,273.1 C370.1,274.6 377.7,277.1 383.1,279.1 C388.4,281.1 392.4,282.4 395.1,285.1 C397.8,287.8 399.1,292.1 399.1,295.1 C399.1,298.1 397.1,301.8 395.1,303.1 C393.1,304.5 390.4,303.8 387.1,303.1 C383.8,302.5 379.1,300.1 375.1,299.1 C371.1,298.1 368.7,298.1 363.0,297.1 C357.4,296.1 341.0,293.1 341.0,293.1 C341.0,293.1 341.0,270.1 341.0,270.1Z" fill="#a8d9f3"/>
<path d="M341.0,275.1 C341.0,275.1 353.0,275.4 359.0,277.1 C365.0,278.8 372.4,282.8 377.1,285.1 C381.8,287.4 384.8,288.8 387.1,291.1 C389.4,293.5 391.4,297.5 391.1,299.1 C390.8,300.8 388.1,301.8 385.1,301.1 C382.1,300.5 377.4,296.8 373.1,295.1 C368.7,293.5 364.4,292.1 359.0,291.1 C353.7,290.1 341.0,289.1 341.0,289.1 C341.0,289.1 341.0,275.1 341.0,275.1Z" fill="#62a5da"/>
<path d="M341.0,278.1 C341.0,278.1 346.0,277.8 347.0,279.1 C348.0,280.4 348.0,284.8 347.0,286.1 C346.0,287.4 341.0,287.1 341.0,287.1 C341.0,287.1 341.0,278.1 341.0,278.1Z" fill="#2a5cb0"/>
<path d="M341.0,297.1 C341.0,297.1 347.3,296.5 351.0,297.1 C354.7,297.8 358.4,299.8 363.0,301.1 C367.7,302.5 375.1,303.1 379.1,305.1 C383.1,307.2 385.8,309.2 387.1,313.2 C388.4,317.2 387.1,329.2 387.1,329.2 C387.1,329.2 341.0,329.2 341.0,329.2 C341.0,329.2 341.0,297.1 341.0,297.1Z" fill="#fff0c2"/>
<path d="M341.0,301.1 C341.0,301.1 350.0,304.1 355.0,305.1 C360.0,306.2 367.1,305.8 371.1,307.2 C375.1,308.5 377.1,309.5 379.1,313.2 C381.1,316.8 383.1,329.2 383.1,329.2 C383.1,329.2 341.0,329.2 341.0,329.2 C341.0,329.2 341.0,301.1 341.0,301.1Z" fill="#fbbc50"/>
<path d="M341.0,305.1 C341.0,305.1 347.3,306.5 351.0,307.2 C354.7,307.8 359.4,308.5 363.0,309.2 C366.7,309.8 370.7,309.2 373.1,311.2 C375.4,313.2 376.7,318.2 377.1,321.2 C377.4,324.2 375.1,329.2 375.1,329.2 C375.1,329.2 341.0,329.2 341.0,329.2 C341.0,329.2 341.0,305.1 341.0,305.1Z" fill="#f47d2c"/>
<path d="M365.0,319.2 C366.1,318.2 370.1,318.2 371.1,319.2 C372.1,320.2 372.1,324.2 371.1,325.2 C370.1,326.2 366.1,326.2 365.0,325.2 C364.0,324.2 364.0,320.2 365.0,319.2Z" fill="#d8272b"/>
<path d="M277.1,325.0 C277.1,325.0 313.1,325.0 313.1,325.0 C313.1,325.0 318.5,334.7 321.1,339.0 C323.8,343.4 327.5,347.0 329.2,351.1 C330.8,355.1 331.5,359.4 331.2,363.1 C330.8,366.8 329.2,370.8 327.2,373.1 C325.2,375.4 322.2,376.8 319.1,377.1 C316.1,377.4 311.8,376.8 309.1,375.1 C306.5,373.4 305.1,370.4 303.1,367.1 C301.1,363.7 299.4,359.1 297.1,355.1 C294.8,351.1 292.1,346.7 289.1,343.0 C286.1,339.4 281.1,336.0 279.1,333.0 C277.1,330.0 277.1,325.0 277.1,325.0Z" fill="#e2f2fb"/>
<path d="M285.1,325.0 C285.1,325.0 309.1,325.0 309.1,325.0 C309.1,325.0 314.5,334.3 317.1,339.0 C319.8,343.7 323.5,348.7 325.2,353.1 C326.8,357.4 327.8,362.1 327.2,365.1 C326.5,368.1 323.5,370.3 321.1,371.1 C318.8,371.9 315.5,371.4 313.1,370.1 C310.8,368.8 309.1,366.3 307.1,363.1 C305.1,359.9 303.4,355.1 301.1,351.1 C298.8,347.0 295.4,342.4 293.1,339.0 C290.7,335.7 288.4,333.3 287.1,331.0 C285.7,328.7 285.1,325.0 285.1,325.0Z" fill="#a8d9f3"/>
<path d="M293.1,325.0 C293.1,325.0 305.1,325.0 305.1,325.0 C305.1,325.0 310.5,336.4 313.1,341.0 C315.8,345.7 319.1,349.4 321.1,353.1 C323.2,356.7 325.2,360.6 325.2,363.1 C325.2,365.6 323.2,367.4 321.1,368.1 C319.1,368.8 315.1,368.6 313.1,367.1 C311.1,365.6 310.8,362.4 309.1,359.1 C307.5,355.7 305.4,351.1 303.1,347.0 C300.8,343.0 296.8,338.7 295.1,335.0 C293.4,331.3 293.1,325.0 293.1,325.0Z" fill="#62a5da"/>
<path d="M277.1,355.1 C278.6,352.9 282.4,350.7 285.1,350.1 C287.7,349.4 291.3,349.2 293.1,351.1 C294.9,352.9 295.8,357.7 296.1,361.1 C296.4,364.4 296.6,368.9 295.1,371.1 C293.6,373.3 289.7,374.1 287.1,374.1 C284.4,374.1 280.9,372.9 279.1,371.1 C277.2,369.3 276.4,365.8 276.1,363.1 C275.7,360.4 275.5,357.2 277.1,355.1Z" fill="#fff0c2"/>
<path d="M329.2,325.0 C329.2,325.0 345.2,325.0 345.2,325.0 C345.2,325.0 345.2,391.1 345.2,391.1 C345.2,391.1 334.2,391.5 329.2,391.1 C324.2,390.8 317.8,390.1 315.1,389.1 C312.5,388.1 312.1,386.8 313.1,385.1 C314.1,383.5 318.1,381.1 321.1,379.1 C324.2,377.1 328.8,375.8 331.2,373.1 C333.5,370.4 334.8,366.8 335.2,363.1 C335.5,359.4 334.2,355.1 333.2,351.1 C332.2,347.0 329.8,343.4 329.2,339.0 C328.5,334.7 329.2,325.0 329.2,325.0Z" fill="#fff0c2"/>
<path d="M331.2,335.0 C332.2,333.0 336.9,334.3 339.2,335.0 C341.5,335.7 345.2,339.0 345.2,339.0 C345.2,339.0 345.2,359.1 345.2,359.1 C345.2,359.1 339.2,357.1 337.2,355.1 C335.2,353.1 334.2,350.4 333.2,347.0 C332.2,343.7 330.2,337.0 331.2,335.0Z" fill="#fbbc50"/>
<path d="M321.1,383.1 C322.8,381.1 329.2,377.8 333.2,375.1 C337.2,372.4 345.2,367.1 345.2,367.1 C345.2,367.1 345.2,387.1 345.2,387.1 C345.2,387.1 336.9,387.1 333.2,387.1 C329.5,387.1 325.2,387.8 323.2,387.1 C321.1,386.5 319.5,385.1 321.1,383.1Z" fill="#fbbc50"/>
<path d="M335.2,375.1 C336.5,373.3 345.2,373.1 345.2,373.1 C345.2,373.1 345.2,385.1 345.2,385.1 C345.2,385.1 338.9,385.8 337.2,384.1 C335.5,382.5 333.8,376.9 335.2,375.1Z" fill="#f47d2c"/>
<path d="M331.2,401.2 C333.2,398.8 345.2,397.2 345.2,397.2 C345.2,397.2 345.2,411.2 345.2,411.2 C345.2,411.2 335.5,412.9 333.2,411.2 C330.8,409.5 329.2,403.5 331.2,401.2Z" fill="#e2f2fb"/>
<path d="M341.0,325.0 C341.0,325.0 403.1,325.0 403.1,325.0 C403.1,325.0 405.1,333.0 403.1,335.0 C401.1,337.0 394.4,336.7 391.1,337.0 C387.8,337.4 386.1,336.7 383.1,337.0 C380.1,337.4 376.4,338.7 373.1,339.0 C369.7,339.4 366.4,339.4 363.0,339.0 C359.7,338.7 356.7,337.0 353.0,337.0 C349.3,337.0 341.0,339.0 341.0,339.0 C341.0,339.0 341.0,325.0 341.0,325.0Z" fill="#fff0c2"/>
<path d="M353.0,325.0 C353.0,325.0 383.1,325.0 383.1,325.0 C383.1,325.0 385.4,333.0 383.1,335.0 C380.7,337.0 373.7,337.0 369.1,337.0 C364.4,337.0 357.7,337.0 355.0,335.0 C352.4,333.0 353.0,325.0 353.0,325.0Z" fill="#fbbc50"/>
<path d="M357.0,325.0 C357.0,325.0 379.1,325.0 379.1,325.0 C379.1,325.0 381.8,331.5 379.1,333.0 C376.4,334.5 366.7,335.4 363.0,334.0 C359.4,332.7 357.0,325.0 357.0,325.0Z" fill="#f47d2c"/>
<path d="M387.1,331.0 C388.8,329.0 395.1,329.0 397.1,331.0 C399.1,333.0 399.8,340.4 399.1,343.0 C398.5,345.7 395.1,347.0 393.1,347.0 C391.1,347.0 388.1,345.7 387.1,343.0 C386.1,340.4 385.4,333.0 387.1,331.0Z" fill="#fff0c2"/>
<path d="M347.0,343.0 C348.3,339.7 351.4,339.7 355.0,339.0 C358.7,338.4 365.0,338.4 369.1,339.0 C373.1,339.7 376.7,341.4 379.1,343.0 C381.4,344.7 382.8,346.4 383.1,349.0 C383.4,351.7 382.8,356.4 381.1,359.1 C379.4,361.7 376.1,363.7 373.1,365.1 C370.1,366.4 366.4,367.1 363.0,367.1 C359.7,367.1 355.7,366.4 353.0,365.1 C350.3,363.7 348.0,362.7 347.0,359.1 C346.0,355.4 345.7,346.4 347.0,343.0Z" fill="#e2f2fb"/>
<path d="M349.0,345.0 C350.3,343.2 353.7,342.5 357.0,342.0 C360.4,341.5 365.9,341.2 369.1,342.0 C372.2,342.9 374.7,344.9 376.1,347.0 C377.4,349.2 377.9,352.6 377.1,355.1 C376.2,357.6 373.7,360.7 371.1,362.1 C368.4,363.4 364.0,363.4 361.0,363.1 C358.0,362.7 355.0,361.7 353.0,360.1 C351.0,358.4 349.7,355.6 349.0,353.1 C348.3,350.6 347.7,346.9 349.0,345.0Z" fill="#a8d9f3"/>
<path d="M351.0,347.0 C352.0,344.9 356.4,344.2 359.0,344.0 C361.7,343.9 365.0,344.5 367.1,346.0 C369.1,347.5 371.1,350.9 371.1,353.1 C371.1,355.2 369.1,357.9 367.1,359.1 C365.0,360.2 361.4,360.4 359.0,360.1 C356.7,359.7 354.4,359.2 353.0,357.1 C351.7,354.9 350.0,349.2 351.0,347.0Z" fill="#62a5da"/>
<path d="M357.0,349.0 C357.7,347.5 361.4,346.7 363.0,347.0 C364.7,347.4 366.7,349.5 367.1,351.1 C367.4,352.6 366.4,355.2 365.0,356.1 C363.7,356.9 360.4,357.2 359.0,356.1 C357.7,354.9 356.4,350.6 357.0,349.0Z" fill="#2a5cb0"/>
<path d="M341.0,365.1 C341.0,365.1 349.3,366.4 353.0,367.1 C356.7,367.8 359.7,369.1 363.0,369.1 C366.4,369.1 369.7,367.8 373.1,367.1 C376.4,366.4 380.4,364.4 383.1,365.1 C385.8,365.8 388.1,368.1 389.1,371.1 C390.1,374.1 390.1,380.8 389.1,383.1 C388.1,385.5 385.8,385.1 383.1,385.1 C380.4,385.1 376.4,383.1 373.1,383.1 C369.7,383.1 366.4,384.5 363.0,385.1 C359.7,385.8 356.7,386.1 353.0,387.1 C349.3,388.1 341.0,391.1 341.0,391.1 C341.0,391.1 341.0,365.1 341.0,365.1Z" fill="#fff0c2"/>
<path d="M341.0,369.1 C341.0,369.1 351.7,371.4 355.0,373.1 C358.4,374.8 361.0,377.1 361.0,379.1 C361.0,381.1 358.4,383.8 355.0,385.1 C351.7,386.5 341.0,387.1 341.0,387.1 C341.0,387.1 341.0,369.1 341.0,369.1Z" fill="#fbbc50"/>
<path d="M375.1,371.1 C376.1,369.9 380.9,370.8 382.1,372.1 C383.3,373.4 383.1,377.9 382.1,379.1 C381.1,380.3 377.2,380.5 376.1,379.1 C374.9,377.8 374.1,372.3 375.1,371.1Z" fill="#fbbc50"/>
<path d="M341.0,391.1 C341.0,391.1 348.7,389.8 353.0,389.1 C357.4,388.5 363.7,386.5 367.1,387.1 C370.4,387.8 372.1,390.5 373.1,393.1 C374.1,395.8 374.1,400.5 373.1,403.2 C372.1,405.8 370.1,408.2 367.1,409.2 C364.0,410.2 358.4,409.8 355.0,409.2 C351.7,408.5 349.3,406.5 347.0,405.2 C344.7,403.8 341.0,401.2 341.0,401.2 C341.0,401.2 341.0,391.1 341.0,391.1Z" fill="#e2f2fb"/>
<path d="M351.0,397.2 C352.4,395.7 356.7,393.5 359.0,393.1 C361.4,392.8 364.0,393.8 365.0,395.1 C366.1,396.5 366.4,399.7 365.0,401.2 C363.7,402.7 359.4,404.0 357.0,404.2 C354.7,404.3 352.0,403.3 351.0,402.2 C350.0,401.0 349.7,398.7 351.0,397.2Z" fill="#a8d9f3"/>
<path d="M397.1,353.1 C398.8,352.1 404.8,351.7 407.1,353.1 C409.5,354.4 411.1,358.7 411.1,361.1 C411.1,363.4 409.1,366.1 407.1,367.1 C405.1,368.1 400.8,368.4 399.1,367.1 C397.5,365.8 397.5,361.4 397.1,359.1 C396.8,356.7 395.4,354.1 397.1,353.1Z" fill="#e2f2fb"/>
<path d="M333.0,290.1 L334.1,288.9 L335.2,287.7 L336.5,286.7 L338.2,286.0 L340.4,285.3 L342.2,285.2 L344.4,285.2 L346.5,286.1 L348.3,286.8 M261.9,305.0 L266.4,304.7 L271.2,302.2 L275.1,301.1 L278.5,300.2 L281.7,298.8 L277.6,298.7 L274.2,299.4 L270.0,299.9 L267.4,300.4 L270.7,298.1 L274.3,297.3 L276.7,297.2 L280.1,296.7 L283.9,296.9 L286.5,296.4 L288.2,294.8 L291.3,294.9 L293.5,295.1 L296.9,295.5 L298.6,296.8 L302.8,300.0 L305.3,301.0 L308.2,300.4 L310.3,301.5 L313.7,302.0 L315.9,302.2 L319.1,302.2 L321.8,302.1 L324.1,300.9 L325.6,300.6 L327.5,298.2 L328.0,296.0 L329.0,293.6 L331.4,290.8 L333.0,290.1 L330.8,292.9 L329.9,295.7 L332.5,295.1 L334.3,296.0 L335.8,297.3 L335.5,299.2 L336.2,300.7 L337.8,301.5 L336.3,303.0 L337.6,304.4 L336.9,305.7 L336.2,307.7 L335.3,308.9 L333.5,308.8 L331.4,309.7 L329.5,310.3 L328.3,311.2 L327.1,311.6 L326.7,312.9 L326.4,314.1 L325.2,314.8 L322.7,317.3 L320.9,319.1 L320.4,321.6 L319.3,323.9 L320.3,325.1 L318.0,325.8 L315.8,327.1 L314.7,327.1 L311.9,325.1 L309.7,324.5 L307.3,325.7 L305.6,328.6 L305.1,330.6 L302.0,334.2 L305.0,334.4 L309.3,335.1 L312.0,334.0 L314.2,333.5 L314.5,335.8 L313.3,338.5 L311.3,339.6 L313.2,341.3 L312.4,343.4 L310.8,345.3 L309.8,348.2 L308.7,350.8 L305.6,350.0 L304.4,348.0 L302.7,345.0 L301.0,344.0 L299.5,343.4 L302.3,346.4 L301.2,347.4 L299.1,348.8 L299.8,351.4 L297.7,350.1 L296.1,348.3 L296.9,347.0 L294.5,345.0 L292.8,344.9 L292.1,346.0 L291.3,344.7 L289.8,342.8 L288.1,342.8 L286.6,342.5 L284.5,342.0 L282.3,343.1 L280.9,341.7 L278.1,339.4 L275.3,337.6 L272.6,338.6 L269.9,340.2 L267.2,340.2 L268.1,338.3 L270.8,336.6 L273.2,335.2 L273.3,332.8 L273.7,329.7 L271.9,328.2 L272.8,325.5 L272.6,323.0 L271.4,319.4 L267.9,317.8 L265.0,316.7 L261.2,316.8 L257.0,318.2 L256.0,320.4 L256.0,324.2 L257.8,326.6 L260.2,327.3 L260.6,331.3 L258.2,331.0 L255.8,330.4 M305.8,355.9 L307.2,354.0 L308.4,351.3 L305.3,351.2 L302.7,351.4 L303.8,354.4 L305.8,355.9 M315.6,339.9 L315.7,338.4 L315.1,336.7 L315.5,335.0 L316.2,333.8 L317.0,333.1 L319.0,334.5 L320.5,333.4 L321.9,330.5 L321.9,328.4 L324.6,327.8 L325.9,328.8 L326.1,330.2 L325.4,331.6 L324.6,333.7 L323.5,335.5 L322.2,336.7 L321.0,339.3 L319.1,339.1 L317.5,339.6 L315.6,339.9 M328.9,330.0 L331.5,330.5 L333.3,331.0 L335.2,331.3 L336.3,331.0 L336.3,329.8 L335.4,328.7 L333.7,327.3 L332.7,326.4 L331.1,326.7 L329.5,327.8 L329.0,328.8 L328.9,330.0 M327.0,330.2 L329.1,329.7 L329.5,328.3 L328.9,327.2 L327.8,326.5 L326.9,326.9 L326.8,328.7 L327.0,330.2 M321.2,322.8 L322.6,321.7 L323.8,321.3 L325.7,320.9 L326.7,320.4 L326.8,318.5 L325.4,317.6 L324.8,317.6 L323.0,318.3 L321.6,319.4 L321.6,321.3 L321.2,322.8 M327.1,315.9 L328.8,317.3 L329.0,318.7 L328.2,319.8 L326.7,318.7 L326.2,317.0 L327.1,315.9 M324.2,325.0 L325.9,324.7 L326.3,323.8 L325.0,323.2 L323.3,323.8 L324.2,325.0 M327.3,322.9 L329.2,323.0 L329.6,321.5 L329.0,320.0 L327.9,320.7 L327.3,322.9 M324.1,326.1 L326.0,327.1 L326.3,325.8 L324.7,325.3 L324.1,326.1 M315.1,329.3 L316.1,328.5 L317.5,329.1 L317.0,330.1 L316.1,331.4 L314.8,330.3 L315.1,329.3 M320.5,350.9 L319.8,348.5 L320.5,346.4 L321.4,344.5 L322.5,342.7 L324.9,341.2 L326.2,341.1 L326.4,339.6 L327.4,338.2 L328.9,336.5 L330.1,334.8 L330.0,332.7 L330.7,331.5 L331.6,331.0 L333.0,331.6 L334.3,331.8 L335.4,331.7 L336.9,332.3 L338.9,332.6 L339.7,333.5 L340.3,335.3 L340.8,336.5 L339.8,337.9 L339.1,339.4 L338.6,340.9 L338.0,342.4 L336.5,344.2 L335.5,346.1 L334.9,347.0 L332.5,347.7 L329.8,348.1 L327.3,348.2 L325.4,348.2 L323.4,349.4 L321.8,350.3 L320.5,350.9 M334.4,354.5 L332.4,353.4 L332.2,352.1 L332.3,351.3 L333.4,350.7 L336.3,351.6 L337.1,353.0 L336.4,353.9 L334.4,354.5 M347.5,341.0 L346.5,340.2 L345.7,339.3 L345.4,338.0 L346.6,337.4 L347.7,336.7 L348.6,337.7 L348.4,339.6 L347.5,341.0 M360.8,338.5 L358.6,339.0 L357.3,337.1 L356.4,335.5 L356.0,334.1 L356.2,332.4 L356.9,333.4 L357.8,335.3 L358.5,337.3 L359.6,338.5 L360.8,338.5 M355.9,325.1 L354.4,325.8 L352.8,326.3 L352.5,325.7 L353.6,324.5 L355.4,324.3 L355.9,325.1 M351.1,334.6 L350.1,334.1 L350.5,332.4 L351.4,331.4 L352.4,332.1 L352.0,333.4 L351.1,334.6 M354.3,315.3 L353.3,316.2 L351.5,315.1 L351.3,313.4 L353.4,314.4 L354.3,315.3 M343.1,306.8 L342.6,307.5 L342.2,307.2 L343.8,306.8 L343.5,307.3 L343.1,306.8 M347.6,361.9 L346.6,361.4 L346.1,359.2 L346.4,356.9 L347.9,355.0 L348.8,353.1 L349.4,350.7 L349.5,349.0 L350.5,347.5 L352.1,345.7 L353.7,345.4 L355.0,346.0 L356.6,345.5 L358.5,345.4 L359.9,346.4 L359.2,347.7 L357.4,348.3 L358.9,350.0 L360.2,349.0 L360.3,347.5 L360.9,345.5 L359.7,344.3 L361.3,343.5 L362.0,340.9 L362.9,339.5 L362.8,338.6 L364.9,336.9 L364.1,336.1 L362.5,335.5 L360.8,334.0 L360.4,333.5 L362.2,333.3 L366.9,334.7 L364.5,333.2 L362.0,332.1 L363.3,331.2 L361.8,330.4 L360.7,330.4 L360.4,328.5 L359.3,328.1 L358.2,326.0 L356.0,324.1 L356.7,322.1 L359.0,320.6 L358.9,319.0 L358.5,317.4 L358.6,315.6 L357.1,316.3 L358.2,314.3 L356.9,312.2 L355.1,312.8 L352.9,310.6 L352.1,308.4 L350.3,308.0 L348.2,305.9 L347.0,306.2 L343.3,304.8 L342.5,304.2 L340.7,302.7 L338.7,302.0 L339.9,301.1 L339.7,300.0 L341.4,300.4 L342.6,299.8 L343.8,297.5 L344.4,297.0 L346.9,296.0 L349.0,295.2 L351.2,295.5 L353.5,293.9 L354.2,291.7 L356.2,289.9 L358.6,288.3 L360.3,287.7 L359.9,290.1 L358.7,293.5 L356.9,295.2 L354.6,296.1 L352.1,297.7 L351.5,298.7 L353.9,298.3 L357.6,297.4 L359.7,297.8 L360.6,299.0 L363.4,300.6 L367.4,300.5 L369.9,298.8 L368.5,296.1 L370.7,294.1 L373.3,291.5 L377.2,290.9 L382.0,291.2 L384.0,292.5 L387.4,291.6 L389.4,290.0 L391.6,287.5 L393.7,288.6 L394.3,289.8 L391.5,291.6 L390.8,294.0 L392.2,297.3 L390.9,297.6 L395.3,300.2 L395.8,298.2 L394.4,294.7 L398.4,296.1 L400.8,292.1 L402.9,290.1 L407.8,290.0 L412.1,290.0 L417.3,293.6 L420.9,298.3 L422.6,298.4 L422.1,301.7 L425.0,303.1 L428.2,302.9 L429.4,301.0 L431.5,296.9 M432.5,339.0 L429.0,334.0 L426.0,331.6 L424.5,329.4 L425.6,327.3 L424.1,325.2 L426.8,324.1 L430.6,321.2 L433.8,320.2 L434.2,315.3 L435.7,314.3 M431.2,353.3 L426.9,353.2 L424.7,352.5 L420.8,351.7 L419.9,356.7 L417.5,356.5 L414.4,358.2 L411.3,363.5 L408.0,368.5 L406.4,368.3 L405.1,369.0 L404.6,371.0 L401.5,372.7 L398.6,372.9 L395.9,373.8 L396.5,375.2 L400.4,375.2 L403.4,375.1 L405.5,375.9 L407.0,372.7 L407.1,369.9 L409.2,370.9 L413.5,368.2 L415.4,372.7 L416.3,375.6 L416.6,379.6 L414.8,387.3 M410.3,397.9 L406.7,395.8 L403.0,393.6 L398.6,392.1 L394.9,391.1 L391.9,389.5 L388.5,388.4 L385.2,387.2 L384.0,385.4 L384.7,387.5 L381.4,387.1 L380.3,385.3 L381.9,383.4 L381.3,381.3 L380.4,378.6 L379.3,376.9 L377.9,377.6 L376.5,379.3 L374.4,380.1 L371.9,381.1 L369.8,380.4 L368.3,378.2 L370.2,375.8 L370.0,375.6 L371.8,374.8 L373.5,373.0 L374.4,371.7 L376.4,371.3 L378.2,370.4 L379.6,368.3 L378.0,367.2 L374.7,367.5 L373.1,367.6 L372.2,368.6 L371.5,369.9 L370.0,369.3 L368.3,368.9 L368.2,369.6 L368.1,370.8 L368.2,373.2 L368.7,375.1 L370.0,375.6 M370.2,375.8 L368.3,377.5 L365.7,378.7 L366.0,380.7 L367.4,381.5 L366.8,383.9 L364.6,382.7 L362.7,380.6 L361.4,378.3 L358.1,377.4 L354.9,375.7 L353.8,375.7 L354.5,377.7 L356.9,379.7 L360.2,380.8 L361.3,381.1 L360.3,382.8 L359.4,384.4 L358.9,382.5 L356.2,381.2 L353.5,379.8 L351.8,378.2 L350.1,378.9 L348.3,379.7 L346.5,379.5 L346.3,381.4 L343.8,383.4 L342.8,386.0 L341.2,388.2 L337.4,389.0 L336.4,387.6 L334.0,387.2 L333.8,384.5 L334.9,382.1 L334.8,379.5 L336.0,379.0 L339.6,379.6 L341.9,379.5 L342.3,377.0 L341.5,375.2 L339.5,373.2 L342.1,373.1 L341.9,371.9 L343.7,372.2 L344.5,371.0 L345.2,370.3 L345.9,369.7 L346.6,367.9 L348.2,367.1 L349.3,366.4 L348.7,364.7 L348.6,362.9 L349.7,361.9 L350.1,363.3 L349.7,364.5 L350.4,365.6 L351.5,366.0 L352.7,365.1 L355.7,364.2 L357.0,363.1 L356.4,360.9 L357.9,359.6 L356.7,358.2 L358.9,356.6 L357.8,355.8 L356.0,357.3 L354.6,356.0 L354.3,353.8 L354.7,351.7 L353.9,351.1 L353.4,352.9 L352.8,354.9 L352.4,356.2 L352.8,357.9 L354.0,358.7 L353.3,360.7 L353.5,363.0 L352.4,363.9 L351.4,363.0 L350.3,361.5 L349.4,360.5 L347.6,361.9 M315.7,416.5 L318.4,408.7 L319.1,406.5 L321.8,403.3 L325.1,400.3 L328.1,398.8 L331.3,396.5 L332.5,393.2 L335.6,391.5 L336.9,389.2 L341.1,390.3 L344.4,388.6 L349.6,387.6 L353.6,386.8 L354.9,387.1 L355.3,388.8 L354.5,391.0 L356.5,392.0 L361.1,391.6 L365.9,393.0 L366.7,389.8 L369.2,388.2 L372.3,388.2 L377.0,386.9 L379.4,385.1 L380.3,385.3 L381.2,386.8 L383.1,388.6 L386.0,390.2 L389.2,391.6 L392.4,393.0 L394.9,395.0 L398.8,397.1 L402.1,398.7 L410.2,398.3 M339.1,371.4 L342.5,370.6 L344.3,370.0 L344.5,368.6 L343.4,367.4 L342.3,365.6 L341.7,364.5 L342.2,362.7 L341.5,361.4 L340.3,361.5 L339.7,362.6 L339.7,364.3 L340.0,365.5 L340.9,366.2 L341.2,367.4 L340.1,367.9 L339.8,369.0 L341.1,369.6 L340.2,370.0 L339.1,371.4 M336.1,369.2 L338.7,368.7 L339.1,366.6 L339.2,365.2 L338.3,365.0 L337.5,365.8 L336.3,366.8 L335.7,368.5 L336.1,369.2 M392.1,284.9 L389.1,284.6 L384.9,283.2 L383.0,282.4 L380.2,283.4 L378.4,284.7 L378.1,283.3 L379.8,281.4 L382.1,279.9 L384.0,278.8 L386.1,279.7 L389.1,280.7 L392.1,284.9 M378.5,285.3 L376.1,286.3 L374.1,288.1 L372.9,285.0 L372.9,283.9 L375.7,283.9 L378.5,285.3 M395.6,282.6 L393.6,285.6 L392.2,284.8 L393.8,282.6 L395.6,282.6 M373.6,288.6 L371.3,291.5 L369.3,294.4 L367.0,296.1 L367.7,294.7 L369.6,291.7 L372.1,289.0 L373.6,288.6 M413.8,285.3 L409.0,287.0 L410.6,285.9 L413.8,285.3 M380.8,357.1 L379.9,359.1 L380.1,361.7 L382.3,363.0 L385.1,363.7 L386.8,364.7 L388.0,366.3 L389.8,366.3 L392.3,363.0 L389.4,361.4 L387.5,360.8 L386.3,360.3 L384.6,360.4 L382.5,359.9 L383.2,357.4 L381.6,356.1 L380.8,357.1 M261.4,334.6 L263.7,338.5 L264.3,341.2 L263.2,345.1 L261.7,350.4 L259.9,345.5 L262.0,342.4 L261.4,334.6 M356.1,385.0 L359.1,384.1 L359.2,385.8 L358.6,386.4 L356.3,385.9 L356.1,385.0 M352.1,381.8 L353.0,384.5 L351.8,384.7 L351.2,382.3 L352.1,381.8 M368.4,384.7 L371.2,383.7 L369.6,384.9 L368.4,384.7 M423.1,297.5 L424.3,296.2 L426.3,297.9 L424.7,299.7 L423.1,297.5" fill="none" stroke="#222" stroke-width="0.45" stroke-linejoin="round"/>
<path d="M366.1,325.5 L362.0,314.2 L373.8,306.0 L380.4,324.4Z" fill="none" stroke="#000" stroke-width="0.9"/>
</g>
<circle cx="343.30" cy="327.30" r="90.00" fill="none" stroke="#333" stroke-width="0.6"/>
<text x="343.30" y="235.95" font-size="4.90" text-anchor="middle" font-weight="normal" fill="#000" stroke="#000" stroke-width="0.14" >180</text>
<text x="290.40" y="248.35" font-size="4.90" text-anchor="middle" font-weight="normal" fill="#000" stroke="#000" stroke-width="0.14" >150W</text>
<text x="256.40" y="282.35" font-size="4.90" text-anchor="middle" font-weight="normal" fill="#000" stroke="#000" stroke-width="0.14" >120W</text>
<text x="245.40" y="329.45" font-size="4.90" text-anchor="middle" font-weight="normal" fill="#000" stroke="#000" stroke-width="0.14" >90W</text>
<text x="257.50" y="375.85" font-size="4.90" text-anchor="middle" font-weight="normal" fill="#000" stroke="#000" stroke-width="0.14" >60W</text>
<text x="291.60" y="409.85" font-size="4.90" text-anchor="middle" font-weight="normal" fill="#000" stroke="#000" stroke-width="0.14" >30W</text>
<text x="343.50" y="422.35" font-size="4.90" text-anchor="middle" font-weight="normal" fill="#000" stroke="#000" stroke-width="0.14" >0</text>
<text x="394.60" y="409.85" font-size="4.90" text-anchor="middle" font-weight="normal" fill="#000" stroke="#000" stroke-width="0.14" >30E</text>
<text x="428.30" y="375.85" font-size="4.90" text-anchor="middle" font-weight="normal" fill="#000" stroke="#000" stroke-width="0.14" >60E</text>
<text x="440.80" y="329.25" font-size="4.90" text-anchor="middle" font-weight="normal" fill="#000" stroke="#000" stroke-width="0.14" >90E</text>
<text x="429.60" y="282.35" font-size="4.90" text-anchor="middle" font-weight="normal" fill="#000" stroke="#000" stroke-width="0.14" >120E</text>
<text x="395.50" y="248.35" font-size="4.90" text-anchor="middle" font-weight="normal" fill="#000" stroke="#000" stroke-width="0.14" >150E</text>
<text x="247.60" y="237.30" font-size="12.50" text-anchor="middle" font-weight="bold" fill="#000" stroke="#000" stroke-width="0.00" >d</text>
<text x="433.10" y="235.70" font-size="8.37" text-anchor="end" font-weight="bold" fill="#000" stroke="#000" stroke-width="0.00"  textLength="44.77" lengthAdjust="spacingAndGlyphs">FGOALS-g3</text>
<path d="M258.3,435.5 L271.6,433.7 L271.6,437.3 Z" fill="#1c2a80"/>
<rect x="271.4" y="433.7" width="13.8" height="3.6" fill="#2858a8"/>
<rect x="285.4" y="433.7" width="14.4" height="3.6" fill="#5ea3da"/>
<rect x="300.0" y="433.7" width="13.9" height="3.6" fill="#a6daf4"/>
<rect x="314.2" y="433.7" width="14.2" height="3.6" fill="#e3f3fb"/>
<rect x="357.6" y="433.7" width="13.8" height="3.6" fill="#fff0c0"/>
<rect x="371.7" y="433.7" width="14.6" height="3.6" fill="#fdb84a"/>
<rect x="386.5" y="433.7" width="13.9" height="3.6" fill="#f67a2a"/>
<rect x="400.6" y="433.7" width="14.0" height="3.6" fill="#d92a2a"/>
<path d="M414.7,433.7 L428.0,435.5 L414.7,437.3 Z" fill="#98101a"/>
<text x="271.40" y="443.40" font-size="6.90" text-anchor="middle" font-weight="normal" fill="#000" stroke="#000" stroke-width="0.14"  textLength="8.67" lengthAdjust="spacingAndGlyphs">-15</text>
<text x="285.40" y="443.40" font-size="6.90" text-anchor="middle" font-weight="normal" fill="#000" stroke="#000" stroke-width="0.14"  textLength="8.67" lengthAdjust="spacingAndGlyphs">-10</text>
<text x="300.00" y="443.40" font-size="6.90" text-anchor="middle" font-weight="normal" fill="#000" stroke="#000" stroke-width="0.14"  textLength="5.34" lengthAdjust="spacingAndGlyphs">-5</text>
<text x="314.20" y="443.40" font-size="6.90" text-anchor="middle" font-weight="normal" fill="#000" stroke="#000" stroke-width="0.14"  textLength="10.34" lengthAdjust="spacingAndGlyphs">-2.5</text>
<text x="328.70" y="443.40" font-size="6.90" text-anchor="middle" font-weight="normal" fill="#000" stroke="#000" stroke-width="0.14"  textLength="5.34" lengthAdjust="spacingAndGlyphs">-1</text>
<text x="343.10" y="443.40" font-size="6.90" text-anchor="middle" font-weight="normal" fill="#000" stroke="#000" stroke-width="0.14"  textLength="3.34" lengthAdjust="spacingAndGlyphs">0</text>
<text x="357.60" y="443.40" font-size="6.90" text-anchor="middle" font-weight="normal" fill="#000" stroke="#000" stroke-width="0.14"  textLength="3.34" lengthAdjust="spacingAndGlyphs">1</text>
<text x="371.70" y="443.40" font-size="6.90" text-anchor="middle" font-weight="normal" fill="#000" stroke="#000" stroke-width="0.14"  textLength="8.34" lengthAdjust="spacingAndGlyphs">2.5</text>
<text x="386.50" y="443.40" font-size="6.90" text-anchor="middle" font-weight="normal" fill="#000" stroke="#000" stroke-width="0.14"  textLength="3.34" lengthAdjust="spacingAndGlyphs">5</text>
<text x="400.60" y="443.40" font-size="6.90" text-anchor="middle" font-weight="normal" fill="#000" stroke="#000" stroke-width="0.14"  textLength="6.67" lengthAdjust="spacingAndGlyphs">10</text>
<text x="414.90" y="443.40" font-size="6.90" text-anchor="middle" font-weight="normal" fill="#000" stroke="#000" stroke-width="0.14"  textLength="6.67" lengthAdjust="spacingAndGlyphs">15</text>
<text x="342.70" y="431.60" font-size="6.84" text-anchor="middle" font-weight="normal" fill="#000" stroke="#000" stroke-width="0.14"  textLength="123.02" lengthAdjust="spacingAndGlyphs">MIN5 minus MEAN Z500 trend (m per decade)</text>
<clipPath id="ce"><circle cx="573.40" cy="326.50" r="90.30"/></clipPath>
<g clip-path="url(#ce)">
<circle cx="573.40" cy="326.50" r="90.30" fill="#ffffff"/>
<path d="M513.1,259.1 C519.4,255.5 516.4,256.3 519.1,255.0 C521.8,253.8 526.4,252.5 529.1,251.6 C531.8,250.7 533.1,251.6 535.1,249.6 C537.1,247.6 538.5,241.6 541.1,239.6 C543.8,237.6 545.5,238.5 551.1,237.6 C556.8,236.7 575.2,234.0 575.2,234.0 C575.2,234.0 575.2,266.1 575.2,266.1 C575.2,266.1 567.2,261.3 563.2,260.1 C559.2,258.8 554.5,259.2 551.1,258.4 C547.8,257.7 545.8,256.0 543.1,255.6 C540.5,255.3 537.7,255.6 535.1,256.4 C532.5,257.2 529.3,258.9 527.5,260.5 C525.7,262.1 524.8,263.8 524.1,266.1 C523.4,268.3 523.3,271.1 523.1,274.1 C522.9,277.1 523.1,280.4 523.1,284.1 C523.1,287.8 524.1,293.5 523.1,296.1 C522.1,298.8 519.7,298.5 517.1,300.1 C514.4,301.8 510.7,303.5 507.1,306.2 C503.4,308.8 498.4,313.8 495.0,316.2 C491.7,318.5 489.3,319.5 487.0,320.2 C484.7,320.9 481.0,320.2 481.0,320.2 C481.0,320.2 481.0,276.1 481.0,276.1 C481.0,276.1 506.7,262.6 513.1,259.1Z" fill="#fff0c2"/>
<path d="M481.0,320.2 C481.0,320.2 485.0,317.7 487.0,316.2 C489.0,314.7 490.3,313.3 493.0,311.2 C495.7,309.0 499.7,305.7 503.0,303.1 C506.4,300.6 510.1,298.2 513.1,296.1 C516.1,294.0 518.9,292.2 521.1,290.5 C523.3,288.8 524.9,287.6 526.1,286.1 C527.3,284.6 528.4,283.4 528.1,281.7 C527.8,280.0 525.2,278.2 524.1,276.1 C523.0,274.0 522.6,271.5 521.5,269.1 C520.4,266.7 518.9,263.4 517.5,261.7 C516.1,259.9 514.8,258.4 513.1,258.4 C511.3,258.5 510.1,259.1 507.1,262.1 C504.0,265.0 499.4,270.4 495.0,276.1 C490.7,281.8 481.0,296.1 481.0,296.1 C481.0,296.1 481.0,320.2 481.0,320.2Z" fill="#fbbc50"/>
<path d="M517.1,284.1 C519.1,281.1 524.8,280.8 529.1,280.1 C533.4,279.4 539.1,279.1 543.1,280.1 C547.1,281.1 550.8,283.4 553.2,286.1 C555.5,288.8 557.2,292.8 557.2,296.1 C557.2,299.5 555.5,303.8 553.2,306.2 C550.8,308.5 546.8,309.2 543.1,310.2 C539.5,311.2 534.8,312.5 531.1,312.2 C527.4,311.8 523.4,310.5 521.1,308.2 C518.7,305.8 517.7,302.1 517.1,298.1 C516.4,294.1 515.1,287.1 517.1,284.1Z" fill="#fff0c2"/>
<path d="M521.1,286.1 C522.9,284.6 528.8,283.4 533.1,283.1 C537.5,282.8 543.8,282.6 547.1,284.1 C550.5,285.6 552.5,288.8 553.2,292.1 C553.8,295.5 553.2,301.5 551.1,304.1 C549.1,306.8 544.8,307.5 541.1,308.2 C537.5,308.8 532.1,309.2 529.1,308.2 C526.1,307.2 524.3,304.8 523.1,302.1 C521.9,299.5 522.4,294.8 522.1,292.1 C521.8,289.5 519.2,287.6 521.1,286.1Z" fill="#fbbc50"/>
<path d="M523.1,288.1 C524.6,286.9 529.1,285.4 533.1,285.1 C537.1,284.8 544.0,284.6 547.1,286.1 C550.3,287.6 551.7,291.5 552.2,294.1 C552.7,296.8 552.0,300.1 550.1,302.1 C548.3,304.1 544.3,305.7 541.1,306.2 C538.0,306.7 533.8,306.2 531.1,305.2 C528.4,304.1 526.3,302.3 525.1,300.1 C523.9,298.0 524.4,294.1 524.1,292.1 C523.8,290.1 521.6,289.3 523.1,288.1Z" fill="#f47d2c"/>
<path d="M535.1,288.1 C536.8,286.3 542.8,286.1 545.1,287.1 C547.5,288.1 548.8,291.6 549.1,294.1 C549.5,296.6 548.8,300.5 547.1,302.1 C545.5,303.8 541.1,304.8 539.1,304.1 C537.1,303.5 535.8,300.8 535.1,298.1 C534.4,295.5 533.4,290.0 535.1,288.1Z" fill="#d8272b"/>
<path d="M565.0,236.0 C573.7,235.3 587.3,235.0 593.3,236.0 C599.3,237.0 598.7,239.6 601.0,242.2 C603.3,244.8 606.1,248.7 607.3,251.6 C608.5,254.5 608.6,257.1 608.1,259.4 C607.6,261.7 606.4,264.2 604.2,265.6 C602.0,267.0 598.4,267.6 594.8,268.0 C591.2,268.4 586.0,268.1 582.4,268.0 C578.8,267.9 576.2,268.4 573.0,267.2 C569.8,266.0 566.7,262.5 563.0,261.0 C559.3,259.5 554.3,259.3 551.0,258.4 C547.7,257.5 544.7,258.7 543.0,255.6 C541.3,252.5 537.3,243.3 541.0,240.0 C544.7,236.7 556.3,236.7 565.0,236.0Z" fill="#fff0c2"/>
<path d="M543.0,242.0 C545.0,240.3 550.5,240.6 555.0,239.6 C559.5,238.6 564.4,236.6 570.0,236.0 C575.6,235.4 584.2,235.2 588.6,236.0 C593.0,236.8 594.3,238.6 596.4,240.7 C598.5,242.8 600.0,245.7 601.0,248.5 C602.0,251.3 602.9,255.5 602.6,257.8 C602.4,260.1 601.6,261.4 599.5,262.5 C597.4,263.6 593.5,263.8 590.1,264.1 C586.7,264.4 582.1,264.3 579.2,264.1 C576.4,263.9 575.7,264.0 573.0,263.0 C570.3,262.0 566.7,259.2 563.0,258.0 C559.3,256.8 554.3,257.3 551.0,256.0 C547.7,254.7 544.3,252.3 543.0,250.0 C541.7,247.7 541.0,243.7 543.0,242.0Z" fill="#fbbc50"/>
<path d="M555.0,242.0 C556.3,240.2 562.0,239.7 565.0,239.0 C568.0,238.3 569.6,237.8 573.0,237.6 C576.4,237.4 582.1,236.8 585.5,237.6 C588.9,238.4 591.2,240.4 593.3,242.2 C595.4,244.0 597.0,246.4 598.0,248.5 C599.0,250.6 599.8,252.9 599.5,254.7 C599.2,256.5 598.2,258.3 596.4,259.4 C594.6,260.4 591.5,260.7 588.6,261.0 C585.7,261.3 581.8,261.3 579.2,261.0 C576.6,260.7 575.7,260.6 573.0,259.4 C570.3,258.2 565.7,255.6 563.0,254.0 C560.3,252.4 558.3,252.0 557.0,250.0 C555.7,248.0 553.7,243.8 555.0,242.0Z" fill="#f47d2c"/>
<path d="M596.0,275.0 C596.7,271.2 597.2,269.3 599.0,267.0 C600.8,264.7 605.2,264.7 607.0,261.0 C608.8,257.3 607.1,247.9 610.0,245.0 C612.9,242.1 619.8,242.5 624.5,243.8 C629.2,245.1 634.2,250.0 638.5,253.0 C642.8,256.0 646.4,257.5 650.0,262.0 C653.6,266.5 657.0,273.7 660.0,280.0 C663.0,286.3 666.7,293.3 668.0,300.0 C669.3,306.7 671.0,317.0 668.0,320.0 C665.0,323.0 656.3,318.3 650.0,318.0 C643.7,317.7 636.3,317.3 630.0,318.0 C623.7,318.7 617.0,323.3 612.0,322.0 C607.0,320.7 602.8,315.3 600.0,310.0 C597.2,304.7 595.7,295.8 595.0,290.0 C594.3,284.2 595.3,278.8 596.0,275.0Z" fill="#e2f2fb"/>
<path d="M526.0,262.0 C527.2,260.3 531.2,260.5 535.0,260.0 C538.8,259.5 545.0,258.7 549.0,259.0 C553.0,259.3 556.0,260.8 559.0,262.0 C562.0,263.2 564.3,265.0 567.0,266.0 C569.7,267.0 572.4,267.6 575.0,268.0 C577.6,268.4 579.9,267.8 582.4,268.7 C584.9,269.6 588.3,271.6 590.1,273.4 C591.9,275.2 593.0,277.6 593.3,279.7 C593.6,281.8 593.0,284.2 591.7,285.9 C590.4,287.6 587.5,288.5 585.5,290.0 C583.5,291.5 582.2,293.8 580.0,295.0 C577.8,296.2 574.8,296.5 572.0,297.0 C569.2,297.5 565.5,298.8 563.0,298.0 C560.5,297.2 559.0,294.7 557.0,292.0 C555.0,289.3 553.3,284.7 551.0,282.0 C548.7,279.3 545.7,277.5 543.0,276.0 C540.3,274.5 537.5,274.0 535.0,273.0 C532.5,272.0 529.5,271.8 528.0,270.0 C526.5,268.2 524.8,263.7 526.0,262.0Z" fill="#e2f2fb"/>
<path d="M531.0,264.0 C532.5,263.0 537.0,262.8 541.0,263.0 C545.0,263.2 550.7,264.1 555.0,265.0 C559.3,265.9 563.7,267.7 567.0,268.5 C570.3,269.3 572.4,269.6 575.0,270.0 C577.6,270.4 580.1,270.1 582.4,271.1 C584.7,272.1 587.3,274.1 588.6,275.8 C589.9,277.5 590.4,279.5 590.1,281.2 C589.8,282.9 588.8,284.8 587.0,285.9 C585.2,287.0 581.7,287.1 579.2,288.0 C576.7,288.9 574.0,290.5 572.0,291.0 C570.0,291.5 568.8,291.8 567.0,291.0 C565.2,290.2 563.7,288.3 561.0,286.0 C558.3,283.7 554.3,279.2 551.0,277.0 C547.7,274.8 544.2,274.3 541.0,273.0 C537.8,271.7 533.7,270.5 532.0,269.0 C530.3,267.5 529.5,265.0 531.0,264.0Z" fill="#a8d9f3"/>
<path d="M555.0,272.0 C556.3,270.3 563.7,271.8 567.0,271.7 C570.3,271.6 572.7,271.4 575.0,271.5 C577.3,271.6 579.0,271.6 580.8,272.6 C582.5,273.6 584.6,275.7 585.5,277.3 C586.4,278.9 586.8,280.7 586.3,282.0 C585.8,283.3 584.1,284.4 582.4,285.1 C580.7,285.9 578.1,286.2 576.0,286.5 C573.9,286.8 571.8,286.9 570.0,287.0 C568.2,287.1 566.8,287.8 565.0,287.0 C563.2,286.2 560.7,284.5 559.0,282.0 C557.3,279.5 553.7,273.7 555.0,272.0Z" fill="#62a5da"/>
<path d="M563.0,274.0 C564.8,272.9 570.3,273.2 573.0,273.5 C575.7,273.8 577.8,274.8 579.2,275.8 C580.6,276.8 581.5,278.4 581.6,279.7 C581.7,281.0 581.2,282.8 580.0,283.6 C578.8,284.4 576.9,284.3 574.6,284.5 C572.3,284.7 568.1,285.8 566.0,285.0 C563.9,284.2 562.7,281.8 562.2,280.0 C561.7,278.2 561.2,275.1 563.0,274.0Z" fill="#2a5cb0"/>
<path d="M605.0,277.8 C605.5,275.7 607.9,274.5 610.4,273.4 C612.9,272.4 616.4,271.7 619.8,271.5 C623.2,271.4 627.8,271.7 630.7,272.6 C633.5,273.6 635.4,275.4 636.9,277.3 C638.5,279.3 639.7,281.3 640.0,284.3 C640.4,287.3 640.3,292.8 639.3,295.2 C638.2,297.7 636.0,298.8 633.8,299.1 C631.6,299.5 628.6,298.3 626.0,297.6 C623.4,296.9 620.6,296.1 618.2,294.9 C615.9,293.8 613.8,292.1 612.0,290.6 C610.2,289.1 608.5,288.0 607.3,285.9 C606.1,283.8 604.4,279.9 605.0,277.8Z" fill="#a8d9f3"/>
<path d="M610.4,279.7 C611.6,278.6 615.9,278.6 618.2,278.9 C620.6,279.1 622.9,280.0 624.4,281.2 C626.0,282.4 627.3,284.1 627.6,285.9 C627.8,287.7 627.3,290.7 626.0,292.1 C624.7,293.6 621.7,294.7 619.8,294.5 C617.8,294.2 615.7,292.1 614.3,290.6 C612.9,289.0 611.8,286.9 611.2,285.1 C610.5,283.3 609.2,280.7 610.4,279.7Z" fill="#62a5da"/>
<path d="M499.4,322.7 C500.9,321.1 505.1,319.3 508.7,318.0 C512.3,316.7 517.0,315.5 521.2,315.0 C525.4,314.5 530.1,315.3 533.7,315.0 C537.3,314.7 539.9,313.9 543.0,313.4 C546.1,312.9 549.0,312.5 552.4,311.8 C555.8,311.1 560.2,308.0 563.3,309.0 C566.4,310.0 569.3,314.0 571.1,318.0 C572.9,322.0 571.6,330.3 574.2,332.8 C576.8,335.3 583.3,332.3 586.7,332.8 C590.1,333.3 591.8,334.6 594.4,335.9 C597.0,337.2 600.3,338.9 602.2,340.6 C604.1,342.3 606.5,344.6 606.0,346.0 C605.5,347.4 601.6,348.0 599.2,349.0 C596.8,350.0 594.1,350.8 591.5,352.0 C588.9,353.2 586.3,355.3 583.7,356.3 C581.1,357.3 579.0,358.0 575.9,357.8 C572.8,357.6 568.5,355.1 565.0,355.0 C561.5,354.9 558.3,356.7 555.0,357.0 C551.7,357.3 548.0,356.7 545.0,357.0 C542.0,357.3 539.7,359.8 537.0,359.0 C534.3,358.2 531.6,354.3 529.0,352.4 C526.4,350.5 523.8,349.8 521.2,347.7 C518.6,345.6 516.0,342.5 513.4,339.9 C510.8,337.3 507.9,334.2 505.6,332.1 C503.3,330.0 500.4,329.0 499.4,327.4 C498.4,325.8 497.8,324.3 499.4,322.7Z" fill="#e2f2fb"/>
<path d="M518.0,323.0 C518.7,321.0 518.9,321.0 523.1,320.2 C527.3,319.4 537.8,319.1 543.1,318.2 C548.4,317.3 551.6,315.9 555.0,315.0 C558.4,314.1 561.0,312.2 563.2,313.0 C565.4,313.8 567.1,316.7 568.0,320.0 C568.9,323.3 567.5,330.2 568.5,333.0 C569.5,335.8 571.2,336.3 574.2,337.0 C577.2,337.7 583.3,336.5 586.7,337.0 C590.1,337.5 592.4,338.7 594.4,340.0 C596.4,341.3 599.5,343.7 599.0,345.0 C598.5,346.3 594.2,347.2 591.5,348.0 C588.8,348.8 585.6,349.3 583.0,350.0 C580.4,350.7 579.0,352.0 576.0,352.0 C573.0,352.0 568.5,350.0 565.0,350.0 C561.5,350.0 558.3,351.7 555.0,352.0 C551.7,352.3 548.0,351.5 545.0,352.0 C542.0,352.5 539.5,355.8 537.0,355.0 C534.5,354.2 532.5,349.5 530.0,347.0 C527.5,344.5 523.8,342.5 522.0,340.0 C520.2,337.5 519.7,334.8 519.0,332.0 C518.3,329.2 517.3,325.0 518.0,323.0Z" fill="#a8d9f3"/>
<path d="M524.0,330.0 C524.3,327.8 526.8,326.3 530.0,325.0 C533.2,323.7 538.2,323.3 543.1,322.2 C548.0,321.1 555.4,318.6 559.2,318.2 C563.0,317.8 565.0,317.2 566.0,320.0 C567.0,322.8 566.0,330.8 565.0,335.0 C564.0,339.2 562.5,342.8 560.0,345.0 C557.5,347.2 553.3,347.2 550.0,348.0 C546.7,348.8 542.7,350.5 540.0,350.0 C537.3,349.5 536.0,347.0 534.0,345.0 C532.0,343.0 529.7,340.5 528.0,338.0 C526.3,335.5 523.7,332.2 524.0,330.0Z" fill="#62a5da"/>
<path d="M545.0,330.0 C546.2,328.3 550.8,328.3 552.0,330.0 C553.2,331.7 553.2,338.3 552.0,340.0 C550.8,341.7 546.2,341.7 545.0,340.0 C543.8,338.3 543.8,331.7 545.0,330.0Z" fill="#a8d9f3"/>
<path d="M574.2,339.0 C575.5,337.3 580.9,337.7 583.5,338.2 C586.1,338.7 588.5,340.4 589.8,342.1 C591.1,343.8 592.1,346.8 591.3,348.4 C590.5,350.0 587.7,351.5 585.1,351.5 C582.5,351.5 577.5,350.5 575.7,348.4 C573.9,346.3 572.9,340.7 574.2,339.0Z" fill="#62a5da"/>
<path d="M567.9,307.8 C569.2,304.7 573.1,301.3 575.7,298.5 C578.3,295.6 581.2,292.6 583.5,290.7 C585.9,288.7 586.1,287.4 589.8,286.8 C593.4,286.1 600.9,285.4 605.4,286.8 C609.8,288.2 616.3,295.4 616.3,295.4 C616.3,295.4 616.3,337.4 616.3,337.4 C616.3,337.4 604.1,338.7 599.1,339.0 C594.2,339.3 590.6,339.5 586.7,339.0 C582.8,338.5 578.6,337.4 575.7,335.9 C572.9,334.3 570.8,332.8 569.5,329.7 C568.2,326.5 568.2,320.8 567.9,317.2 C567.7,313.5 566.6,310.9 567.9,307.8Z" fill="#fff0c2"/>
<path d="M571.1,309.4 C572.0,305.2 575.0,304.2 577.3,301.6 C579.6,299.0 583.0,295.9 585.1,293.8 C587.2,291.7 587.7,290.2 589.8,289.1 C591.9,288.1 595.0,287.0 597.6,287.6 C600.2,288.1 603.5,289.9 605.4,292.2 C607.2,294.6 607.4,298.2 608.5,301.6 C609.5,305.0 610.8,308.6 611.6,312.5 C612.4,316.4 613.5,321.6 613.0,325.0 C612.5,328.4 610.8,331.0 608.5,332.8 C606.2,334.6 602.5,335.4 599.1,335.9 C595.7,336.4 591.9,336.4 588.2,335.9 C584.6,335.4 580.0,334.3 577.3,332.8 C574.6,331.2 572.9,330.4 571.8,326.5 C570.8,322.6 570.2,313.5 571.1,309.4Z" fill="#fbbc50"/>
<path d="M572.6,312.5 C573.5,309.4 576.5,307.0 578.9,304.7 C581.2,302.4 584.8,300.3 586.7,298.5 C588.5,296.7 588.2,294.8 589.8,293.8 C591.3,292.8 593.9,292.0 596.0,292.2 C598.1,292.5 600.7,293.5 602.2,295.4 C603.8,297.2 604.3,300.3 605.4,303.1 C606.4,306.0 607.7,309.1 608.5,312.5 C609.3,315.9 610.6,320.6 610.0,323.4 C609.5,326.3 607.4,328.1 605.4,329.7 C603.3,331.2 600.4,332.3 597.6,332.8 C594.7,333.3 591.3,333.3 588.2,332.8 C585.1,332.3 581.3,331.2 578.9,329.7 C576.4,328.1 574.4,326.3 573.4,323.4 C572.4,320.6 571.7,315.6 572.6,312.5Z" fill="#f47d2c"/>
<path d="M578.4,317.8 C579.1,315.6 582.0,311.3 584.0,308.9 C586.0,306.5 588.6,304.7 590.6,303.4 C592.6,302.1 594.7,300.6 596.2,301.1 C597.7,301.7 598.6,304.3 599.5,306.7 C600.4,309.1 601.5,312.8 601.7,315.6 C601.9,318.4 601.9,321.5 600.6,323.4 C599.3,325.2 596.8,326.3 594.0,326.7 C591.2,327.1 586.4,326.3 584.0,325.6 C581.6,324.9 580.4,323.6 579.5,322.3 C578.6,321.0 577.6,320.0 578.4,317.8Z" fill="#d8272b"/>
<path d="M561.8,356.3 C563.4,354.8 568.1,353.2 571.2,353.2 C574.3,353.2 577.1,356.1 580.5,356.3 C583.9,356.6 587.9,356.0 591.5,354.7 C595.1,353.4 599.0,350.8 602.4,348.5 C605.8,346.2 609.1,342.0 612.0,340.7 C614.9,339.4 618.0,339.4 619.8,340.7 C621.6,342.0 622.1,345.1 622.9,348.5 C623.7,351.9 624.4,356.9 624.4,361.0 C624.4,365.1 623.7,369.8 622.9,373.4 C622.1,377.0 621.6,380.2 619.8,382.8 C618.0,385.4 614.6,387.4 612.0,389.0 C609.4,390.6 605.8,390.3 604.2,392.1 C602.6,393.9 604.5,398.8 602.4,399.9 C600.3,400.9 595.1,398.9 591.5,398.4 C587.9,397.9 583.4,397.6 580.5,396.8 C577.6,396.0 575.8,395.5 574.3,393.7 C572.8,391.9 572.2,388.5 571.2,385.9 C570.2,383.3 569.3,380.7 568.0,378.1 C566.7,375.5 564.4,372.9 563.4,370.3 C562.4,367.7 562.1,364.8 561.8,362.5 C561.5,360.2 560.2,357.9 561.8,356.3Z" fill="#fff0c2"/>
<path d="M565.0,357.8 C566.0,355.9 570.1,355.2 572.7,355.5 C575.3,355.8 578.1,358.5 580.5,359.4 C582.9,360.3 584.1,361.8 586.8,361.0 C589.4,360.2 593.2,356.8 596.4,354.7 C599.5,352.6 602.9,350.3 605.7,348.5 C608.6,346.7 611.3,344.4 613.5,343.8 C615.7,343.2 617.7,343.3 619.0,344.6 C620.3,345.9 620.9,347.8 621.3,351.6 C621.7,355.4 621.5,362.8 621.3,367.2 C621.0,371.6 620.8,375.0 619.8,378.1 C618.8,381.2 617.7,384.1 615.1,385.9 C612.5,387.7 608.1,388.1 604.2,389.0 C600.3,389.9 595.6,390.8 591.7,391.3 C587.8,391.8 583.6,392.5 580.8,392.1 C578.0,391.7 575.8,390.8 575.0,389.0 C574.2,387.2 576.3,383.8 575.9,381.2 C575.5,378.6 574.3,375.7 572.7,373.4 C571.1,371.1 567.8,369.8 566.5,367.2 C565.2,364.6 564.0,359.8 565.0,357.8Z" fill="#fbbc50"/>
<path d="M579.2,368.7 C581.0,366.9 585.2,365.9 588.6,364.1 C592.0,362.3 596.4,359.9 599.5,357.8 C602.6,355.7 605.0,353.7 607.3,351.6 C609.6,349.5 611.7,346.2 613.5,345.4 C615.3,344.6 617.2,345.1 618.2,346.9 C619.2,348.7 619.5,352.7 619.8,356.3 C620.1,359.9 620.3,364.8 619.8,368.7 C619.3,372.6 618.3,377.1 616.7,379.7 C615.1,382.3 613.3,383.0 610.4,384.3 C607.5,385.6 603.1,386.6 599.5,387.4 C595.9,388.2 592.0,388.7 588.6,389.0 C585.2,389.3 581.3,390.0 579.2,389.0 C577.1,388.0 576.4,385.1 576.1,382.8 C575.9,380.5 577.2,377.4 577.7,375.0 C578.2,372.6 577.4,370.5 579.2,368.7Z" fill="#f47d2c"/>
<path d="M607.5,357.8 C608.1,357.3 610.4,357.3 611.0,357.8 C611.6,358.3 611.6,360.5 611.0,361.0 C610.4,361.5 608.1,361.5 607.5,361.0 C606.9,360.5 606.9,358.3 607.5,357.8Z" fill="#d8272b"/>
<path d="M626.0,353.1 C627.0,351.1 632.0,350.6 633.8,351.6 C635.6,352.6 636.9,357.0 636.9,359.4 C636.9,361.7 635.4,364.8 633.8,365.6 C632.2,366.4 628.9,366.1 627.6,364.1 C626.3,362.0 625.0,355.2 626.0,353.1Z" fill="#e2f2fb"/>
<path d="M635.4,334.4 C635.4,334.4 646.3,334.4 646.3,334.4 C646.3,334.4 646.3,345.4 646.3,345.4 C646.3,345.4 638.7,345.6 636.9,343.8 C635.1,342.0 635.4,334.4 635.4,334.4Z" fill="#fff0c2"/>
<path d="M638.5,364.1 C639.8,361.2 646.3,362.5 646.3,362.5 C646.3,362.5 646.3,382.8 646.3,382.8 C646.3,382.8 639.8,382.8 638.5,379.7 C637.2,376.5 637.2,366.9 638.5,364.1Z" fill="#fff0c2"/>
<path d="M571.4,397.6 C571.4,397.6 583.1,396.9 588.6,397.1 C594.0,397.3 600.9,397.7 604.2,398.7 C607.4,399.7 608.1,401.3 608.1,403.0 C608.1,404.8 604.2,409.3 604.2,409.3 C604.2,409.3 571.4,409.3 571.4,409.3 C571.4,409.3 571.4,397.6 571.4,397.6Z" fill="#e2f2fb"/>
<path d="M582.4,401.5 C586.0,400.2 600.5,400.2 604.2,401.5 C607.8,402.8 604.2,409.3 604.2,409.3 C604.2,409.3 582.4,409.3 582.4,409.3 C582.4,409.3 578.7,402.8 582.4,401.5Z" fill="#a8d9f3"/>
<path d="M632.0,323.9 C634.6,321.5 642.1,320.0 646.4,319.6 C650.8,319.1 655.8,318.4 658.0,321.0 C660.2,323.7 659.7,330.7 659.5,335.5 C659.2,340.3 659.2,347.3 656.6,350.0 C653.9,352.6 647.4,352.1 643.5,351.4 C639.7,350.7 635.6,348.5 633.4,345.6 C631.2,342.7 630.7,337.7 630.5,334.0 C630.3,330.4 629.3,326.3 632.0,323.9Z" fill="#fff0c2"/>
<path d="M634.8,326.8 C636.9,324.9 643.1,322.9 646.4,322.5 C649.8,322.0 653.4,321.7 655.1,323.9 C656.8,326.1 656.8,332.1 656.6,335.5 C656.3,338.9 655.8,342.2 653.7,344.2 C651.5,346.1 646.4,347.3 643.5,347.1 C640.6,346.8 637.8,344.9 636.3,342.7 C634.8,340.6 634.5,336.7 634.3,334.0 C634.0,331.4 632.8,328.7 634.8,326.8Z" fill="#fbbc50"/>
<path d="M646.4,361.5 C648.1,359.1 654.9,357.2 656.6,358.6 C658.2,360.1 658.2,367.8 656.6,370.2 C654.9,372.6 648.1,374.6 646.4,373.1 C644.7,371.7 644.7,364.0 646.4,361.5Z" fill="#fff0c2"/>
<path d="M626.2,352.9 C627.6,350.9 633.4,350.9 634.8,352.9 C636.3,354.8 636.3,362.5 634.8,364.4 C633.4,366.4 627.6,366.4 626.2,364.4 C624.7,362.5 624.7,354.8 626.2,352.9Z" fill="#e2f2fb"/>
<path d="M491.0,360.1 C493.0,355.4 498.7,358.1 503.0,358.1 C507.4,358.1 512.1,358.7 517.1,360.1 C522.1,361.4 528.1,363.7 533.1,366.1 C538.1,368.4 543.5,371.4 547.1,374.1 C550.8,376.8 553.2,379.1 555.2,382.1 C557.2,385.1 555.8,389.8 559.2,392.1 C562.5,394.5 575.2,396.2 575.2,396.2 C575.2,396.2 575.2,418.2 575.2,418.2 C575.2,418.2 503.0,418.2 503.0,418.2 C503.0,418.2 497.0,407.5 495.0,402.2 C493.0,396.8 491.7,393.1 491.0,386.1 C490.3,379.1 489.0,364.8 491.0,360.1Z" fill="#e2f2fb"/>
<path d="M503.0,364.1 C505.4,362.4 512.4,363.1 517.1,364.1 C521.8,365.1 526.8,367.8 531.1,370.1 C535.4,372.4 540.1,375.1 543.1,378.1 C546.1,381.1 548.5,384.8 549.1,388.1 C549.8,391.5 549.1,396.2 547.1,398.2 C545.1,400.2 541.1,400.8 537.1,400.2 C533.1,399.5 527.4,396.8 523.1,394.1 C518.7,391.5 514.4,387.5 511.1,384.1 C507.7,380.8 504.4,377.4 503.0,374.1 C501.7,370.8 500.7,365.8 503.0,364.1Z" fill="#a8d9f3"/>
<path d="M509.1,368.1 C511.1,366.4 518.7,368.4 523.1,370.1 C527.4,371.8 531.8,375.4 535.1,378.1 C538.5,380.8 542.1,383.5 543.1,386.1 C544.1,388.8 542.8,392.5 541.1,394.1 C539.5,395.8 536.5,396.8 533.1,396.2 C529.8,395.5 524.8,392.8 521.1,390.1 C517.4,387.5 513.1,383.8 511.1,380.1 C509.1,376.4 507.1,369.8 509.1,368.1Z" fill="#62a5da"/>
<path d="M509.1,344.0 C510.1,343.5 514.1,343.1 515.1,343.6 C516.1,344.1 516.1,346.5 515.1,347.0 C514.1,347.6 510.1,347.5 509.1,347.0 C508.1,346.5 508.1,344.6 509.1,344.0Z" fill="#fff0c2"/>
<path d="M546.0,247.0 C547.7,244.7 551.2,240.8 556.0,239.0 C560.8,237.2 569.0,236.7 575.0,236.5 C581.0,236.3 587.8,236.2 592.0,238.0 C596.2,239.8 598.3,243.8 600.0,247.0 C601.7,250.2 603.0,254.5 602.0,257.0 C601.0,259.5 598.5,261.2 594.0,262.0 C589.5,262.8 581.3,262.8 575.0,262.0 C568.7,261.2 560.8,258.5 556.0,257.0 C551.2,255.5 547.7,254.7 546.0,253.0 C544.3,251.3 544.3,249.3 546.0,247.0Z" fill="url(#dots)"/>
<path d="M486.0,300.0 C486.5,293.3 488.2,285.7 490.0,280.0 C491.8,274.3 494.5,269.7 497.0,266.0 C499.5,262.3 502.3,259.7 505.0,258.0 C507.7,256.3 510.8,255.3 513.0,256.0 C515.2,256.7 517.3,258.8 518.0,262.0 C518.7,265.2 518.0,270.3 517.0,275.0 C516.0,279.7 514.3,285.0 512.0,290.0 C509.7,295.0 506.0,300.7 503.0,305.0 C500.0,309.3 496.7,313.5 494.0,316.0 C491.3,318.5 488.3,322.7 487.0,320.0 C485.7,317.3 485.5,306.7 486.0,300.0Z" fill="url(#dots)"/>
<path d="M564.0,274.0 C565.3,271.8 571.2,272.7 574.0,273.0 C576.8,273.3 579.7,274.5 581.0,276.0 C582.3,277.5 582.8,280.3 582.0,282.0 C581.2,283.7 578.7,285.3 576.0,286.0 C573.3,286.7 568.0,288.0 566.0,286.0 C564.0,284.0 562.7,276.2 564.0,274.0Z" fill="url(#dots)"/>
<path d="M609.0,276.0 C609.5,272.8 613.0,272.0 616.0,271.0 C619.0,270.0 623.5,269.7 627.0,270.0 C630.5,270.3 634.3,271.3 637.0,273.0 C639.7,274.7 642.2,276.8 643.0,280.0 C643.8,283.2 643.5,289.0 642.0,292.0 C640.5,295.0 637.3,297.2 634.0,298.0 C630.7,298.8 625.5,298.3 622.0,297.0 C618.5,295.7 615.2,293.5 613.0,290.0 C610.8,286.5 608.5,279.2 609.0,276.0Z" fill="url(#dots)"/>
<path d="M530.0,328.0 C531.7,325.8 536.3,324.7 540.0,324.0 C543.7,323.3 548.3,323.7 552.0,324.0 C555.7,324.3 559.7,324.3 562.0,326.0 C564.3,327.7 565.8,330.8 566.0,334.0 C566.2,337.2 564.8,342.3 563.0,345.0 C561.2,347.7 558.3,349.0 555.0,350.0 C551.7,351.0 546.5,351.7 543.0,351.0 C539.5,350.3 536.2,348.3 534.0,346.0 C531.8,343.7 530.7,340.0 530.0,337.0 C529.3,334.0 528.3,330.2 530.0,328.0Z" fill="url(#dots)"/>
<path d="M489.0,358.0 C490.7,354.7 495.7,355.7 500.0,356.0 C504.3,356.3 509.7,358.0 515.0,360.0 C520.3,362.0 526.5,365.3 532.0,368.0 C537.5,370.7 543.3,373.0 548.0,376.0 C552.7,379.0 556.0,382.7 560.0,386.0 C564.0,389.3 567.8,393.7 572.0,396.0 C576.2,398.3 580.3,399.2 585.0,400.0 C589.7,400.8 596.5,400.0 600.0,401.0 C603.5,402.0 608.5,404.2 606.0,406.0 C603.5,407.8 591.0,410.5 585.0,412.0 C579.0,413.5 575.8,414.7 570.0,415.0 C564.2,415.3 556.7,414.8 550.0,414.0 C543.3,413.2 536.3,412.0 530.0,410.0 C523.7,408.0 517.3,405.3 512.0,402.0 C506.7,398.7 501.7,394.3 498.0,390.0 C494.3,385.7 491.5,381.3 490.0,376.0 C488.5,370.7 487.3,361.3 489.0,358.0Z" fill="url(#dots)"/>
<path d="M595.0,365.0 C597.5,362.0 601.7,360.2 605.0,358.0 C608.3,355.8 612.5,352.0 615.0,352.0 C617.5,352.0 619.2,354.7 620.0,358.0 C620.8,361.3 620.7,368.0 620.0,372.0 C619.3,376.0 618.3,379.7 616.0,382.0 C613.7,384.3 609.3,385.7 606.0,386.0 C602.7,386.3 598.7,385.7 596.0,384.0 C593.3,382.3 590.2,379.2 590.0,376.0 C589.8,372.8 592.5,368.0 595.0,365.0Z" fill="url(#dots)"/>
<path d="M636.0,326.0 C637.6,322.6 642.8,322.8 646.0,322.5 C649.2,322.2 653.2,321.8 655.0,324.0 C656.8,326.2 656.8,332.1 656.6,335.5 C656.4,338.9 655.9,342.3 653.7,344.2 C651.5,346.1 646.4,347.2 643.5,347.0 C640.6,346.8 637.5,346.2 636.3,342.7 C635.0,339.2 634.4,329.4 636.0,326.0Z" fill="url(#dots)"/>
<path d="M582.0,401.0 C585.7,399.8 600.0,399.2 604.0,400.0 C608.0,400.8 609.7,404.8 606.0,406.0 C602.3,407.2 586.0,407.8 582.0,407.0 C578.0,406.2 578.3,402.2 582.0,401.0Z" fill="url(#dots)"/>
<path d="M580.0,313.0 C580.8,310.2 584.5,308.4 587.0,307.0 C589.5,305.6 593.0,304.0 595.0,304.5 C597.0,305.0 598.3,307.4 599.0,310.0 C599.7,312.6 600.2,317.5 599.0,320.0 C597.8,322.5 594.8,324.3 592.0,325.0 C589.2,325.7 584.0,326.0 582.0,324.0 C580.0,322.0 579.2,315.8 580.0,313.0Z" fill="url(#hatch)"/>
<path d="M563.1,289.2 L564.1,287.9 L565.3,286.7 L566.6,285.8 L568.3,285.0 L570.5,284.3 L572.3,284.3 L574.5,284.3 L576.7,285.2 L578.4,285.9 M491.7,304.2 L496.2,303.8 L501.1,301.3 L504.9,300.2 L508.4,299.3 L511.6,298.0 L507.5,297.8 L504.1,298.5 L499.9,299.0 L497.3,299.5 L500.6,297.2 L504.1,296.4 L506.6,296.3 L510.0,295.8 L513.8,296.0 L516.4,295.5 L518.1,293.9 L521.2,294.0 L523.4,294.2 L526.9,294.6 L528.5,295.9 L532.7,299.1 L535.3,300.1 L538.2,299.5 L540.3,300.6 L543.7,301.1 L545.9,301.3 L549.1,301.3 L551.8,301.2 L554.2,300.0 L555.7,299.7 L557.5,297.3 L558.1,295.0 L559.0,292.7 L561.5,289.9 L563.1,289.2 L560.8,292.0 L560.0,294.8 L562.6,294.2 L564.4,295.1 L565.9,296.4 L565.6,298.3 L566.3,299.8 L567.9,300.6 L566.4,302.1 L567.7,303.5 L567.0,304.8 L566.2,306.8 L565.4,308.1 L563.6,308.0 L561.5,308.8 L559.6,309.4 L558.4,310.4 L557.1,310.8 L556.7,312.0 L556.4,313.3 L555.2,314.0 L552.8,316.4 L550.9,318.3 L550.4,320.8 L549.4,323.1 L550.3,324.3 L548.1,325.0 L545.8,326.3 L544.7,326.2 L541.9,324.3 L539.7,323.7 L537.3,324.9 L535.5,327.8 L535.1,329.9 L532.0,333.4 L535.0,333.6 L539.3,334.4 L542.0,333.2 L544.2,332.7 L544.6,335.0 L543.3,337.8 L541.3,338.8 L543.2,340.6 L542.4,342.7 L540.8,344.6 L539.8,347.5 L538.6,350.1 L535.5,349.3 L534.4,347.2 L532.7,344.2 L530.9,343.2 L529.4,342.7 L532.3,345.7 L531.1,346.7 L529.1,348.1 L529.7,350.7 L527.6,349.3 L526.1,347.6 L526.9,346.3 L524.5,344.3 L522.7,344.2 L522.0,345.2 L521.3,343.9 L519.7,342.1 L518.0,342.1 L516.5,341.7 L514.4,341.2 L512.2,342.3 L510.8,340.9 L508.0,338.6 L505.1,336.8 L502.4,337.9 L499.8,339.5 L497.0,339.4 L497.9,337.5 L500.7,335.8 L503.1,334.4 L503.2,332.0 L503.6,328.9 L501.8,327.4 L502.7,324.6 L502.5,322.2 L501.2,318.5 L497.7,316.9 L494.9,315.9 L491.0,315.9 L486.8,317.4 L485.8,319.6 L485.8,323.4 L487.6,325.8 L490.0,326.5 L490.4,330.6 L488.0,330.2 L485.6,329.6 M535.7,355.2 L537.2,353.3 L538.4,350.6 L535.3,350.5 L532.7,350.7 L533.8,353.7 L535.7,355.2 M545.6,339.2 L545.7,337.7 L545.1,336.0 L545.5,334.2 L546.2,333.0 L547.0,332.4 L549.1,333.7 L550.5,332.6 L551.9,329.7 L551.9,327.6 L554.6,327.0 L556.0,328.0 L556.2,329.4 L555.5,330.8 L554.6,333.0 L553.5,334.7 L552.2,335.9 L551.0,338.5 L549.1,338.4 L547.5,338.9 L545.6,339.2 M559.0,329.2 L561.5,329.7 L563.4,330.2 L565.2,330.5 L566.3,330.3 L566.4,329.1 L565.5,327.9 L563.8,326.5 L562.8,325.6 L561.1,325.9 L559.5,327.0 L559.0,328.0 L559.0,329.2 M557.0,329.4 L559.2,328.9 L559.5,327.5 L559.0,326.4 L557.9,325.7 L556.9,326.1 L556.9,327.9 L557.0,329.4 M551.2,322.0 L552.6,320.9 L553.9,320.5 L555.7,320.1 L556.8,319.6 L556.8,317.7 L555.5,316.8 L554.8,316.8 L553.0,317.4 L551.6,318.6 L551.6,320.5 L551.2,322.0 M557.1,315.1 L558.8,316.5 L559.1,317.9 L558.2,318.9 L556.7,317.8 L556.3,316.2 L557.1,315.1 M554.2,324.1 L555.9,323.9 L556.4,323.0 L555.1,322.4 L553.3,323.0 L554.2,324.1 M557.4,322.1 L559.3,322.2 L559.6,320.6 L559.1,319.2 L557.9,319.9 L557.4,322.1 M554.1,325.3 L556.0,326.3 L556.3,325.0 L554.7,324.5 L554.1,325.3 M545.1,328.5 L546.1,327.7 L547.5,328.3 L547.0,329.3 L546.1,330.6 L544.8,329.5 L545.1,328.5 M550.6,350.2 L549.8,347.8 L550.5,345.7 L551.4,343.8 L552.5,341.9 L554.9,340.4 L556.3,340.4 L556.4,338.8 L557.5,337.4 L558.9,335.7 L560.2,334.0 L560.0,331.9 L560.7,330.7 L561.7,330.2 L563.0,330.8 L564.3,331.0 L565.5,330.9 L566.9,331.6 L568.9,331.8 L569.8,332.7 L570.4,334.5 L570.9,335.8 L569.8,337.1 L569.2,338.6 L568.7,340.2 L568.0,341.6 L566.6,343.4 L565.6,345.4 L565.0,346.3 L562.5,347.0 L559.9,347.3 L557.3,347.4 L555.5,347.5 L553.4,348.7 L551.9,349.6 L550.6,350.2 M564.5,353.8 L562.4,352.7 L562.3,351.4 L562.4,350.6 L563.4,350.0 L566.4,350.9 L567.2,352.3 L566.5,353.2 L564.5,353.8 M577.6,340.2 L576.6,339.5 L575.8,338.5 L575.5,337.2 L576.7,336.7 L577.8,335.9 L578.7,337.0 L578.5,338.8 L577.6,340.2 M591.0,337.7 L588.7,338.3 L587.4,336.3 L586.6,334.7 L586.2,333.3 L586.3,331.6 L587.1,332.6 L587.9,334.6 L588.6,336.6 L589.8,337.8 L591.0,337.7 M586.0,324.3 L584.5,325.0 L583.0,325.5 L582.6,324.9 L583.7,323.7 L585.5,323.5 L586.0,324.3 M581.2,333.8 L580.2,333.3 L580.7,331.6 L581.5,330.6 L582.5,331.4 L582.1,332.6 L581.2,333.8 M584.5,314.4 L583.4,315.4 L581.7,314.3 L581.4,312.6 L583.5,313.6 L584.5,314.4 M573.2,306.0 L572.7,306.6 L572.3,306.3 L573.9,306.0 L573.6,306.4 L573.2,306.0 M577.7,361.2 L576.8,360.8 L576.2,358.5 L576.5,356.2 L578.0,354.3 L578.9,352.4 L579.5,350.0 L579.6,348.2 L580.6,346.8 L582.2,344.9 L583.9,344.7 L585.1,345.2 L586.7,344.8 L588.6,344.7 L590.1,345.7 L589.4,346.9 L587.6,347.5 L589.0,349.3 L590.4,348.3 L590.4,346.8 L591.0,344.8 L589.9,343.6 L591.4,342.7 L592.1,340.1 L593.0,338.8 L593.0,337.8 L595.1,336.1 L594.2,335.3 L592.7,334.7 L590.9,333.2 L590.5,332.7 L592.4,332.5 L597.1,334.0 L594.7,332.4 L592.1,331.3 L593.4,330.4 L591.9,329.6 L590.8,329.6 L590.5,327.7 L589.4,327.3 L588.3,325.2 L586.1,323.3 L586.9,321.3 L589.2,319.8 L589.0,318.2 L588.7,316.6 L588.7,314.7 L587.2,315.5 L588.4,313.5 L587.1,311.3 L585.2,311.9 L583.1,309.8 L582.3,307.5 L580.5,307.1 L578.4,305.0 L577.1,305.3 L573.4,303.9 L572.6,303.3 L570.8,301.8 L568.8,301.1 L569.9,300.2 L569.8,299.1 L571.5,299.5 L572.7,298.9 L573.9,296.6 L574.5,296.1 L577.0,295.1 L579.1,294.3 L581.4,294.6 L583.6,293.0 L584.3,290.8 L586.3,289.0 L588.8,287.4 L590.5,286.8 L590.0,289.2 L588.9,292.5 L587.1,294.3 L584.8,295.2 L582.2,296.8 L581.6,297.8 L584.0,297.4 L587.7,296.5 L589.8,296.9 L590.8,298.1 L593.6,299.7 L597.6,299.6 L600.0,297.9 L598.7,295.2 L600.9,293.2 L603.5,290.6 L607.4,290.0 L612.2,290.3 L614.2,291.6 L617.6,290.7 L619.7,289.0 L621.9,286.5 L624.0,287.7 L624.6,288.9 L621.8,290.7 L621.1,293.1 L622.5,296.4 L621.1,296.7 L625.6,299.3 L626.0,297.3 L624.7,293.8 L628.7,295.2 L631.1,291.2 L633.2,289.2 L638.2,289.1 L642.4,289.0 L647.6,292.7 L651.2,297.4 L653.0,297.5 L652.4,300.8 L655.3,302.2 L658.6,302.1 L659.8,300.1 L661.9,296.0 M662.9,338.3 L659.4,333.3 L656.4,330.8 L654.9,328.6 L656.0,326.5 L654.5,324.4 L657.2,323.3 L661.0,320.4 L664.2,319.4 L664.6,314.5 L666.1,313.5 M661.6,352.6 L657.3,352.5 L655.0,351.8 L651.2,351.0 L650.2,356.0 L647.8,355.8 L644.7,357.5 L641.6,362.8 L638.3,367.9 L636.7,367.6 L635.4,368.3 L634.9,370.4 L631.8,372.1 L628.9,372.2 L626.2,373.2 L626.8,374.6 L630.7,374.6 L633.7,374.4 L635.8,375.3 L637.3,372.1 L637.5,369.2 L639.5,370.2 L643.9,367.5 L645.7,372.0 L646.7,375.0 L646.9,378.9 L645.1,386.7 M640.6,397.3 L637.0,395.2 L633.3,393.0 L628.9,391.5 L625.2,390.5 L622.2,388.9 L618.8,387.8 L615.5,386.6 L614.2,384.8 L614.9,386.9 L611.6,386.5 L610.5,384.7 L612.1,382.8 L611.5,380.7 L610.7,378.0 L609.6,376.3 L608.1,377.0 L606.7,378.7 L604.6,379.5 L602.1,380.5 L600.0,379.8 L598.5,377.6 L600.4,375.1 L600.2,374.9 L602.0,374.2 L603.7,372.3 L604.6,371.0 L606.6,370.6 L608.4,369.7 L609.8,367.7 L608.2,366.5 L604.9,366.8 L603.3,366.9 L602.4,367.9 L601.7,369.3 L600.2,368.6 L598.5,368.2 L598.4,369.0 L598.3,370.2 L598.4,372.6 L598.9,374.5 L600.2,374.9 M600.4,375.1 L598.5,376.8 L595.8,378.1 L596.1,380.1 L597.6,380.9 L596.9,383.3 L594.7,382.1 L592.9,380.0 L591.5,377.7 L588.3,376.8 L585.1,375.0 L584.0,375.0 L584.6,377.1 L587.0,379.1 L590.3,380.2 L591.5,380.5 L590.4,382.2 L589.5,383.8 L589.1,381.9 L586.4,380.6 L583.6,379.2 L581.9,377.6 L580.2,378.2 L578.5,379.1 L576.6,378.8 L576.4,380.7 L573.9,382.8 L572.9,385.4 L571.3,387.6 L567.4,388.4 L566.5,387.0 L564.1,386.6 L563.9,383.9 L565.0,381.5 L564.8,378.9 L566.1,378.4 L569.7,378.9 L572.0,378.9 L572.4,376.4 L571.6,374.5 L569.6,372.6 L572.2,372.5 L572.0,371.3 L573.8,371.5 L574.6,370.3 L575.3,369.7 L576.0,369.0 L576.7,367.2 L578.3,366.4 L579.4,365.7 L578.8,364.0 L578.7,362.3 L579.8,361.2 L580.2,362.6 L579.8,363.8 L580.5,364.9 L581.6,365.3 L582.9,364.4 L585.8,363.5 L587.2,362.4 L586.5,360.2 L588.0,358.9 L586.9,357.5 L589.0,355.9 L588.0,355.1 L586.2,356.6 L584.8,355.3 L584.4,353.0 L584.8,351.0 L584.0,350.4 L583.5,352.2 L582.9,354.2 L582.5,355.5 L583.0,357.2 L584.1,358.0 L583.4,360.0 L583.7,362.4 L582.6,363.3 L581.5,362.3 L580.4,360.8 L579.6,359.8 L577.7,361.2 M545.7,416.0 L548.4,408.2 L549.1,406.0 L551.8,402.8 L555.1,399.8 L558.2,398.2 L561.4,395.9 L562.6,392.6 L565.7,390.9 L567.0,388.6 L571.2,389.7 L574.5,388.0 L579.8,387.0 L583.7,386.2 L585.1,386.5 L585.4,388.2 L584.7,390.4 L586.6,391.4 L591.3,391.0 L596.1,392.4 L596.8,389.2 L599.3,387.6 L602.5,387.6 L607.3,386.3 L609.6,384.5 L610.5,384.7 L611.4,386.2 L613.3,388.0 L616.3,389.6 L619.4,391.0 L622.7,392.4 L625.2,394.5 L629.1,396.5 L632.4,398.1 L640.6,397.8 M569.1,370.7 L572.6,369.9 L574.4,369.3 L574.6,367.9 L573.5,366.7 L572.4,365.0 L571.8,363.8 L572.3,362.1 L571.6,360.8 L570.4,360.8 L569.8,361.9 L569.8,363.6 L570.0,364.8 L571.0,365.5 L571.3,366.7 L570.2,367.2 L569.9,368.4 L571.2,368.9 L570.3,369.4 L569.1,370.7 M566.1,368.5 L568.7,368.0 L569.2,365.9 L569.3,364.5 L568.4,364.3 L567.6,365.1 L566.4,366.1 L565.8,367.8 L566.1,368.5 M622.4,283.9 L619.4,283.6 L615.1,282.2 L613.3,281.4 L610.4,282.4 L608.6,283.8 L608.3,282.3 L610.0,280.4 L612.4,278.9 L614.2,277.8 L616.4,278.8 L619.4,279.7 L622.4,283.9 M608.7,284.4 L606.3,285.4 L604.4,287.2 L603.1,284.1 L603.1,283.0 L605.9,282.9 L608.7,284.4 M625.9,281.7 L623.9,284.6 L622.5,283.8 L624.1,281.7 L625.9,281.7 M603.8,287.6 L601.5,290.5 L599.4,293.5 L597.2,295.2 L597.9,293.8 L599.8,290.8 L602.3,288.1 L603.8,287.6 M644.1,284.4 L639.3,286.1 L640.9,285.0 L644.1,284.4 M611.0,356.4 L610.1,358.4 L610.4,361.0 L612.5,362.3 L615.4,363.0 L617.0,364.0 L618.3,365.6 L620.0,365.6 L622.6,362.3 L619.7,360.7 L617.7,360.1 L616.5,359.6 L614.8,359.7 L612.8,359.2 L613.5,356.7 L611.8,355.4 L611.0,356.4 M491.3,333.8 L493.6,337.7 L494.2,340.5 L493.0,344.3 L491.5,349.7 L489.8,344.7 L491.9,341.6 L491.3,333.8 M586.2,384.4 L589.3,383.4 L589.4,385.2 L588.7,385.8 L586.4,385.3 L586.2,384.4 M582.3,381.1 L583.1,383.9 L581.9,384.1 L581.4,381.7 L582.3,381.1 M598.6,384.1 L601.4,383.1 L599.7,384.3 L598.6,384.1 M653.4,296.6 L654.7,295.3 L656.7,297.0 L655.1,298.8 L653.4,296.6" fill="none" stroke="#222" stroke-width="0.45" stroke-linejoin="round"/>
<path d="M596.3,324.7 L592.2,313.3 L604.0,305.1 L610.6,323.6Z" fill="none" stroke="#000" stroke-width="0.9"/>
</g>
<circle cx="573.40" cy="326.50" r="90.30" fill="none" stroke="#333" stroke-width="0.6"/>
<text x="573.40" y="235.15" font-size="4.90" text-anchor="middle" font-weight="normal" fill="#000" stroke="#000" stroke-width="0.14" >180</text>
<text x="520.50" y="247.55" font-size="4.90" text-anchor="middle" font-weight="normal" fill="#000" stroke="#000" stroke-width="0.14" >150W</text>
<text x="486.50" y="281.55" font-size="4.90" text-anchor="middle" font-weight="normal" fill="#000" stroke="#000" stroke-width="0.14" >120W</text>
<text x="475.50" y="328.65" font-size="4.90" text-anchor="middle" font-weight="normal" fill="#000" stroke="#000" stroke-width="0.14" >90W</text>
<text x="487.60" y="375.05" font-size="4.90" text-anchor="middle" font-weight="normal" fill="#000" stroke="#000" stroke-width="0.14" >60W</text>
<text x="521.70" y="409.05" font-size="4.90" text-anchor="middle" font-weight="normal" fill="#000" stroke="#000" stroke-width="0.14" >30W</text>
<text x="573.60" y="421.55" font-size="4.90" text-anchor="middle" font-weight="normal" fill="#000" stroke="#000" stroke-width="0.14" >0</text>
<text x="624.70" y="409.05" font-size="4.90" text-anchor="middle" font-weight="normal" fill="#000" stroke="#000" stroke-width="0.14" >30E</text>
<text x="658.40" y="375.05" font-size="4.90" text-anchor="middle" font-weight="normal" fill="#000" stroke="#000" stroke-width="0.14" >60E</text>
<text x="670.90" y="328.45" font-size="4.90" text-anchor="middle" font-weight="normal" fill="#000" stroke="#000" stroke-width="0.14" >90E</text>
<text x="659.70" y="281.55" font-size="4.90" text-anchor="middle" font-weight="normal" fill="#000" stroke="#000" stroke-width="0.14" >120E</text>
<text x="625.60" y="247.55" font-size="4.90" text-anchor="middle" font-weight="normal" fill="#000" stroke="#000" stroke-width="0.14" >150E</text>
<text x="477.30" y="236.00" font-size="12.50" text-anchor="middle" font-weight="bold" fill="#000" stroke="#000" stroke-width="0.00" >e</text>
<text x="664.40" y="235.20" font-size="8.37" text-anchor="end" font-weight="bold" fill="#000" stroke="#000" stroke-width="0.00"  textLength="25.90" lengthAdjust="spacingAndGlyphs">NNRea</text>
<path d="M488.5,435.5 L501.8,433.7 L501.8,437.3 Z" fill="#1c2a80"/>
<rect x="501.6" y="433.7" width="13.8" height="3.6" fill="#2858a8"/>
<rect x="515.6" y="433.7" width="14.4" height="3.6" fill="#5ea3da"/>
<rect x="530.2" y="433.7" width="13.9" height="3.6" fill="#a6daf4"/>
<rect x="544.4" y="433.7" width="14.2" height="3.6" fill="#e3f3fb"/>
<rect x="587.8" y="433.7" width="13.8" height="3.6" fill="#fff0c0"/>
<rect x="601.9" y="433.7" width="14.6" height="3.6" fill="#fdb84a"/>
<rect x="616.7" y="433.7" width="13.9" height="3.6" fill="#f67a2a"/>
<rect x="630.8" y="433.7" width="14.0" height="3.6" fill="#d92a2a"/>
<path d="M644.9,433.7 L658.2,435.5 L644.9,437.3 Z" fill="#98101a"/>
<text x="501.60" y="443.40" font-size="6.90" text-anchor="middle" font-weight="normal" fill="#000" stroke="#000" stroke-width="0.14"  textLength="8.67" lengthAdjust="spacingAndGlyphs">-15</text>
<text x="515.60" y="443.40" font-size="6.90" text-anchor="middle" font-weight="normal" fill="#000" stroke="#000" stroke-width="0.14"  textLength="8.67" lengthAdjust="spacingAndGlyphs">-10</text>
<text x="530.20" y="443.40" font-size="6.90" text-anchor="middle" font-weight="normal" fill="#000" stroke="#000" stroke-width="0.14"  textLength="5.34" lengthAdjust="spacingAndGlyphs">-5</text>
<text x="544.40" y="443.40" font-size="6.90" text-anchor="middle" font-weight="normal" fill="#000" stroke="#000" stroke-width="0.14"  textLength="10.34" lengthAdjust="spacingAndGlyphs">-2.5</text>
<text x="558.90" y="443.40" font-size="6.90" text-anchor="middle" font-weight="normal" fill="#000" stroke="#000" stroke-width="0.14"  textLength="5.34" lengthAdjust="spacingAndGlyphs">-1</text>
<text x="573.30" y="443.40" font-size="6.90" text-anchor="middle" font-weight="normal" fill="#000" stroke="#000" stroke-width="0.14"  textLength="3.34" lengthAdjust="spacingAndGlyphs">0</text>
<text x="587.80" y="443.40" font-size="6.90" text-anchor="middle" font-weight="normal" fill="#000" stroke="#000" stroke-width="0.14"  textLength="3.34" lengthAdjust="spacingAndGlyphs">1</text>
<text x="601.90" y="443.40" font-size="6.90" text-anchor="middle" font-weight="normal" fill="#000" stroke="#000" stroke-width="0.14"  textLength="8.34" lengthAdjust="spacingAndGlyphs">2.5</text>
<text x="616.70" y="443.40" font-size="6.90" text-anchor="middle" font-weight="normal" fill="#000" stroke="#000" stroke-width="0.14"  textLength="3.34" lengthAdjust="spacingAndGlyphs">5</text>
<text x="630.80" y="443.40" font-size="6.90" text-anchor="middle" font-weight="normal" fill="#000" stroke="#000" stroke-width="0.14"  textLength="6.67" lengthAdjust="spacingAndGlyphs">10</text>
<text x="645.10" y="443.40" font-size="6.90" text-anchor="middle" font-weight="normal" fill="#000" stroke="#000" stroke-width="0.14"  textLength="6.67" lengthAdjust="spacingAndGlyphs">15</text>
<text x="572.90" y="431.60" font-size="6.84" text-anchor="middle" font-weight="normal" fill="#000" stroke="#000" stroke-width="0.14"  textLength="85.99" lengthAdjust="spacingAndGlyphs">Eddy Z500 trend (m per decade)</text></svg>
</body></html>
